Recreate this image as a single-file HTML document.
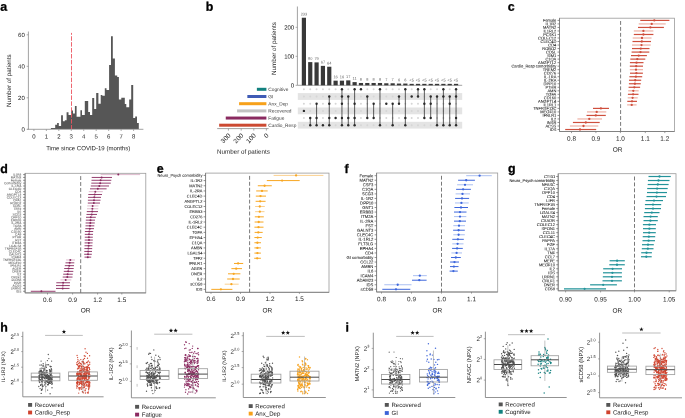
<!DOCTYPE html>
<html><head><meta charset="utf-8"><style>
html,body{margin:0;padding:0;background:#fff;width:685px;height:418px;overflow:hidden}
svg{display:block;will-change:transform}
text{font-family:"Liberation Sans", sans-serif;text-rendering:geometricPrecision}
</style></head><body>
<svg width="685" height="418" viewBox="0 0 685 418">
<text x="0.30" y="10.80" font-size="12.4" text-anchor="start" fill="#000" font-weight="bold" stroke="#000" stroke-width="0.3" stroke-linejoin="round" transform="rotate(0.05 0.30 10.80)">a</text>
<text x="205.80" y="10.80" font-size="12.4" text-anchor="start" fill="#000" font-weight="bold" stroke="#000" stroke-width="0.3" stroke-linejoin="round" transform="rotate(0.05 205.80 10.80)">b</text>
<text x="507.80" y="10.80" font-size="12.4" text-anchor="start" fill="#000" font-weight="bold" stroke="#000" stroke-width="0.3" stroke-linejoin="round" transform="rotate(0.05 507.80 10.80)">c</text>
<text x="0.30" y="173.00" font-size="12.4" text-anchor="start" fill="#000" font-weight="bold" stroke="#000" stroke-width="0.3" stroke-linejoin="round" transform="rotate(0.05 0.30 173.00)">d</text>
<text x="156.80" y="172.80" font-size="12.4" text-anchor="start" fill="#000" font-weight="bold" stroke="#000" stroke-width="0.3" stroke-linejoin="round" transform="rotate(0.05 156.80 172.80)">e</text>
<text x="344.60" y="173.00" font-size="12.4" text-anchor="start" fill="#000" font-weight="bold" stroke="#000" stroke-width="0.3" stroke-linejoin="round" transform="rotate(0.05 344.60 173.00)">f</text>
<text x="508.00" y="172.60" font-size="12.4" text-anchor="start" fill="#000" font-weight="bold" stroke="#000" stroke-width="0.3" stroke-linejoin="round" transform="rotate(0.05 508.00 172.60)">g</text>
<text x="0.30" y="331.40" font-size="12.4" text-anchor="start" fill="#000" font-weight="bold" stroke="#000" stroke-width="0.3" stroke-linejoin="round" transform="rotate(0.05 0.30 331.40)">h</text>
<text x="345.60" y="331.40" font-size="12.4" text-anchor="start" fill="#000" font-weight="bold" stroke="#000" stroke-width="0.3" stroke-linejoin="round" transform="rotate(0.05 345.60 331.40)">i</text>
<path d="M50.9,128.90 L50.90,127.90 L55.20,127.90 L55.20,124.80 L57.10,124.80 L57.10,123.10 L58.80,123.10 L58.80,126.00 L61.10,126.00 L61.10,115.20 L62.90,115.20 L62.90,121.20 L64.80,121.20 L64.80,120.30 L66.60,120.30 L66.60,112.30 L68.50,112.30 L68.50,114.90 L71.20,114.90 L71.20,110.60 L73.00,110.60 L73.00,113.60 L74.90,113.60 L74.90,106.00 L76.60,106.00 L76.60,116.80 L80.40,116.80 L80.40,110.30 L82.00,110.30 L82.00,114.90 L84.80,114.90 L84.80,101.10 L88.20,101.10 L88.20,111.90 L90.00,111.90 L90.00,114.90 L92.20,114.90 L92.20,97.90 L94.20,97.90 L94.20,108.90 L96.20,108.90 L96.20,93.10 L98.40,93.10 L98.40,103.80 L100.70,103.80 L100.70,94.90 L102.30,94.90 L102.30,95.80 L104.80,95.80 L104.80,88.30 L106.50,88.30 L106.50,90.00 L109.10,90.00 L109.10,64.90 L111.00,64.90 L111.00,36.30 L112.80,36.30 L112.80,58.60 L114.90,58.60 L114.90,75.50 L117.20,75.50 L117.20,76.90 L118.90,76.90 L118.90,99.40 L121.30,99.40 L121.30,97.70 L124.80,97.70 L124.80,104.10 L126.30,104.10 L126.30,107.30 L129.20,107.30 L129.20,99.40 L131.20,99.40 L131.20,85.10 L133.20,85.10 L133.20,118.10 L135.20,118.10 L135.20,116.60 L137.00,116.60 L137.00,123.10 L138.80,123.10 L138.8,128.90 Z" fill="#565656"/>
<line x1="28.40" y1="31.50" x2="28.40" y2="129.30" stroke="#8a8a8a" stroke-width="0.8"/>
<line x1="27.40" y1="129.30" x2="143.40" y2="129.30" stroke="#8a8a8a" stroke-width="0.8"/>
<line x1="26.60" y1="129.30" x2="28.40" y2="129.30" stroke="#8a8a8a" stroke-width="0.7"/>
<text x="24.80" y="131.40" font-size="6" text-anchor="end" fill="#1c1c1c" transform="rotate(0.05 24.80 131.40)">0</text>
<line x1="26.60" y1="97.80" x2="28.40" y2="97.80" stroke="#8a8a8a" stroke-width="0.7"/>
<text x="24.80" y="99.90" font-size="6" text-anchor="end" fill="#1c1c1c" transform="rotate(0.05 24.80 99.90)">20</text>
<line x1="26.60" y1="66.30" x2="28.40" y2="66.30" stroke="#8a8a8a" stroke-width="0.7"/>
<text x="24.80" y="68.40" font-size="6" text-anchor="end" fill="#1c1c1c" transform="rotate(0.05 24.80 68.40)">40</text>
<line x1="26.60" y1="34.80" x2="28.40" y2="34.80" stroke="#8a8a8a" stroke-width="0.7"/>
<text x="24.80" y="36.90" font-size="6" text-anchor="end" fill="#1c1c1c" transform="rotate(0.05 24.80 36.90)">60</text>
<line x1="33.90" y1="129.30" x2="33.90" y2="131.00" stroke="#8a8a8a" stroke-width="0.7"/>
<text x="33.90" y="138.60" font-size="6" text-anchor="middle" fill="#1c1c1c" transform="rotate(0.05 33.90 138.60)">0</text>
<line x1="46.36" y1="129.30" x2="46.36" y2="131.00" stroke="#8a8a8a" stroke-width="0.7"/>
<text x="46.36" y="138.60" font-size="6" text-anchor="middle" fill="#1c1c1c" transform="rotate(0.05 46.36 138.60)">1</text>
<line x1="58.82" y1="129.30" x2="58.82" y2="131.00" stroke="#8a8a8a" stroke-width="0.7"/>
<text x="58.82" y="138.60" font-size="6" text-anchor="middle" fill="#1c1c1c" transform="rotate(0.05 58.82 138.60)">2</text>
<line x1="71.28" y1="129.30" x2="71.28" y2="131.00" stroke="#8a8a8a" stroke-width="0.7"/>
<text x="71.28" y="138.60" font-size="6" text-anchor="middle" fill="#1c1c1c" transform="rotate(0.05 71.28 138.60)">3</text>
<line x1="83.74" y1="129.30" x2="83.74" y2="131.00" stroke="#8a8a8a" stroke-width="0.7"/>
<text x="83.74" y="138.60" font-size="6" text-anchor="middle" fill="#1c1c1c" transform="rotate(0.05 83.74 138.60)">4</text>
<line x1="96.20" y1="129.30" x2="96.20" y2="131.00" stroke="#8a8a8a" stroke-width="0.7"/>
<text x="96.20" y="138.60" font-size="6" text-anchor="middle" fill="#1c1c1c" transform="rotate(0.05 96.20 138.60)">5</text>
<line x1="108.66" y1="129.30" x2="108.66" y2="131.00" stroke="#8a8a8a" stroke-width="0.7"/>
<text x="108.66" y="138.60" font-size="6" text-anchor="middle" fill="#1c1c1c" transform="rotate(0.05 108.66 138.60)">6</text>
<line x1="121.12" y1="129.30" x2="121.12" y2="131.00" stroke="#8a8a8a" stroke-width="0.7"/>
<text x="121.12" y="138.60" font-size="6" text-anchor="middle" fill="#1c1c1c" transform="rotate(0.05 121.12 138.60)">7</text>
<line x1="133.58" y1="129.30" x2="133.58" y2="131.00" stroke="#8a8a8a" stroke-width="0.7"/>
<text x="133.58" y="138.60" font-size="6" text-anchor="middle" fill="#1c1c1c" transform="rotate(0.05 133.58 138.60)">8</text>
<text x="88.20" y="150.20" font-size="6.05" text-anchor="middle" fill="#1c1c1c" transform="rotate(0.05 88.20 150.20)">Time since COVID-19 (months)</text>
<text x="0" y="0" font-size="6.25" text-anchor="middle" fill="#1c1c1c" transform="translate(11.3,80.7) rotate(-90)">Number of patients</text>
<line x1="71.50" y1="32.90" x2="71.50" y2="129.00" stroke="#ec5560" stroke-width="0.9" stroke-dasharray="4.5 1.42" stroke-dashoffset="2.6"/>
<line x1="297.40" y1="6.50" x2="297.40" y2="85.30" stroke="#8a8a8a" stroke-width="0.8"/>
<line x1="297.40" y1="85.30" x2="462.20" y2="85.30" stroke="#8a8a8a" stroke-width="0.8"/>
<line x1="295.60" y1="85.30" x2="297.40" y2="85.30" stroke="#8a8a8a" stroke-width="0.7"/>
<text x="294.20" y="87.40" font-size="6" text-anchor="end" fill="#1c1c1c" transform="rotate(0.05 294.20 87.40)">0</text>
<line x1="295.60" y1="56.30" x2="297.40" y2="56.30" stroke="#8a8a8a" stroke-width="0.7"/>
<text x="294.20" y="58.40" font-size="6" text-anchor="end" fill="#1c1c1c" transform="rotate(0.05 294.20 58.40)">100</text>
<line x1="295.60" y1="27.30" x2="297.40" y2="27.30" stroke="#8a8a8a" stroke-width="0.7"/>
<text x="294.20" y="29.40" font-size="6" text-anchor="end" fill="#1c1c1c" transform="rotate(0.05 294.20 29.40)">200</text>
<text x="0" y="0" font-size="6.25" text-anchor="middle" fill="#1c1c1c" transform="translate(276.3,48.5) rotate(-90)">Number of patients</text>
<rect x="301.80" y="17.73" width="4.20" height="67.57" fill="#383838"/>
<text x="303.90" y="15.43" font-size="3.9" text-anchor="middle" fill="#666" transform="rotate(0.05 303.90 15.43)">233</text>
<rect x="308.14" y="62.10" width="4.20" height="23.20" fill="#383838"/>
<text x="310.24" y="59.80" font-size="3.9" text-anchor="middle" fill="#666" transform="rotate(0.05 310.24 59.80)">80</text>
<rect x="314.48" y="62.39" width="4.20" height="22.91" fill="#383838"/>
<text x="316.58" y="60.09" font-size="3.9" text-anchor="middle" fill="#666" transform="rotate(0.05 316.58 60.09)">79</text>
<rect x="320.82" y="65.87" width="4.20" height="19.43" fill="#383838"/>
<text x="322.92" y="63.57" font-size="3.9" text-anchor="middle" fill="#666" transform="rotate(0.05 322.92 63.57)">67</text>
<rect x="327.16" y="66.74" width="4.20" height="18.56" fill="#383838"/>
<text x="329.26" y="64.44" font-size="3.9" text-anchor="middle" fill="#666" transform="rotate(0.05 329.26 64.44)">64</text>
<rect x="333.50" y="80.66" width="4.20" height="4.64" fill="#383838"/>
<text x="335.60" y="78.36" font-size="3.9" text-anchor="middle" fill="#666" transform="rotate(0.05 335.60 78.36)">16</text>
<rect x="339.84" y="80.66" width="4.20" height="4.64" fill="#383838"/>
<text x="341.94" y="78.36" font-size="3.9" text-anchor="middle" fill="#666" transform="rotate(0.05 341.94 78.36)">16</text>
<rect x="346.18" y="80.37" width="4.20" height="4.93" fill="#383838"/>
<text x="348.28" y="78.07" font-size="3.9" text-anchor="middle" fill="#666" transform="rotate(0.05 348.28 78.07)">17</text>
<rect x="352.52" y="82.11" width="4.20" height="3.19" fill="#383838"/>
<text x="354.62" y="79.81" font-size="3.9" text-anchor="middle" fill="#666" transform="rotate(0.05 354.62 79.81)">11</text>
<rect x="358.86" y="82.98" width="4.20" height="2.32" fill="#383838"/>
<text x="360.96" y="80.68" font-size="3.9" text-anchor="middle" fill="#666" transform="rotate(0.05 360.96 80.68)">8</text>
<rect x="365.20" y="82.98" width="4.20" height="2.32" fill="#383838"/>
<text x="367.30" y="80.68" font-size="3.9" text-anchor="middle" fill="#666" transform="rotate(0.05 367.30 80.68)">8</text>
<rect x="371.54" y="82.98" width="4.20" height="2.32" fill="#383838"/>
<text x="373.64" y="80.68" font-size="3.9" text-anchor="middle" fill="#666" transform="rotate(0.05 373.64 80.68)">8</text>
<rect x="377.88" y="82.98" width="4.20" height="2.32" fill="#383838"/>
<text x="379.98" y="80.68" font-size="3.9" text-anchor="middle" fill="#666" transform="rotate(0.05 379.98 80.68)">8</text>
<rect x="384.22" y="83.27" width="4.20" height="2.03" fill="#383838"/>
<text x="386.32" y="80.97" font-size="3.9" text-anchor="middle" fill="#666" transform="rotate(0.05 386.32 80.97)">7</text>
<rect x="390.56" y="83.27" width="4.20" height="2.03" fill="#383838"/>
<text x="392.66" y="80.97" font-size="3.9" text-anchor="middle" fill="#666" transform="rotate(0.05 392.66 80.97)">7</text>
<rect x="396.90" y="83.56" width="4.20" height="1.74" fill="#383838"/>
<text x="399.00" y="81.26" font-size="3.9" text-anchor="middle" fill="#666" transform="rotate(0.05 399.00 81.26)">6</text>
<rect x="403.24" y="83.56" width="4.20" height="1.74" fill="#383838"/>
<text x="405.34" y="81.26" font-size="3.9" text-anchor="middle" fill="#666" transform="rotate(0.05 405.34 81.26)">6</text>
<rect x="409.58" y="83.85" width="4.20" height="1.45" fill="#383838"/>
<text x="411.68" y="81.55" font-size="3.9" text-anchor="middle" fill="#666" transform="rotate(0.05 411.68 81.55)">&lt;5</text>
<rect x="415.92" y="83.85" width="4.20" height="1.45" fill="#383838"/>
<text x="418.02" y="81.55" font-size="3.9" text-anchor="middle" fill="#666" transform="rotate(0.05 418.02 81.55)">&lt;5</text>
<rect x="422.26" y="83.85" width="4.20" height="1.45" fill="#383838"/>
<text x="424.36" y="81.55" font-size="3.9" text-anchor="middle" fill="#666" transform="rotate(0.05 424.36 81.55)">&lt;5</text>
<rect x="428.60" y="83.85" width="4.20" height="1.45" fill="#383838"/>
<text x="430.70" y="81.55" font-size="3.9" text-anchor="middle" fill="#666" transform="rotate(0.05 430.70 81.55)">&lt;5</text>
<rect x="434.94" y="83.85" width="4.20" height="1.45" fill="#383838"/>
<text x="437.04" y="81.55" font-size="3.9" text-anchor="middle" fill="#666" transform="rotate(0.05 437.04 81.55)">&lt;5</text>
<rect x="441.28" y="83.85" width="4.20" height="1.45" fill="#383838"/>
<text x="443.38" y="81.55" font-size="3.9" text-anchor="middle" fill="#666" transform="rotate(0.05 443.38 81.55)">&lt;5</text>
<rect x="447.62" y="83.85" width="4.20" height="1.45" fill="#383838"/>
<text x="449.72" y="81.55" font-size="3.9" text-anchor="middle" fill="#666" transform="rotate(0.05 449.72 81.55)">&lt;5</text>
<rect x="453.96" y="83.85" width="4.20" height="1.45" fill="#383838"/>
<text x="456.06" y="81.55" font-size="3.9" text-anchor="middle" fill="#666" transform="rotate(0.05 456.06 81.55)">&lt;5</text>
<rect x="297.80" y="93.10" width="164.40" height="6.80" fill="#e4e4e4"/>
<rect x="297.80" y="107.50" width="164.40" height="6.80" fill="#e4e4e4"/>
<rect x="297.80" y="121.80" width="164.40" height="6.80" fill="#e4e4e4"/>
<circle cx="303.90" cy="89.30" r="1.00" fill="#d6d6d6"/>
<circle cx="303.90" cy="96.50" r="1.00" fill="#d6d6d6"/>
<circle cx="303.90" cy="103.70" r="1.00" fill="#d6d6d6"/>
<circle cx="303.90" cy="118.05" r="1.00" fill="#d6d6d6"/>
<circle cx="303.90" cy="125.20" r="1.00" fill="#d6d6d6"/>
<circle cx="303.90" cy="110.90" r="1.20" fill="#2a2a2a"/>
<circle cx="310.24" cy="89.30" r="1.00" fill="#d6d6d6"/>
<circle cx="310.24" cy="96.50" r="1.00" fill="#d6d6d6"/>
<circle cx="310.24" cy="103.70" r="1.00" fill="#d6d6d6"/>
<circle cx="310.24" cy="110.90" r="1.00" fill="#d6d6d6"/>
<line x1="310.24" y1="118.05" x2="310.24" y2="125.20" stroke="#333" stroke-width="0.8"/>
<circle cx="310.24" cy="118.05" r="1.20" fill="#2a2a2a"/>
<circle cx="310.24" cy="125.20" r="1.20" fill="#2a2a2a"/>
<circle cx="316.58" cy="89.30" r="1.00" fill="#d6d6d6"/>
<circle cx="316.58" cy="96.50" r="1.00" fill="#d6d6d6"/>
<circle cx="316.58" cy="110.90" r="1.00" fill="#d6d6d6"/>
<line x1="316.58" y1="103.70" x2="316.58" y2="125.20" stroke="#333" stroke-width="0.8"/>
<circle cx="316.58" cy="103.70" r="1.20" fill="#2a2a2a"/>
<circle cx="316.58" cy="118.05" r="1.20" fill="#2a2a2a"/>
<circle cx="316.58" cy="125.20" r="1.20" fill="#2a2a2a"/>
<circle cx="322.92" cy="89.30" r="1.00" fill="#d6d6d6"/>
<circle cx="322.92" cy="96.50" r="1.00" fill="#d6d6d6"/>
<circle cx="322.92" cy="103.70" r="1.00" fill="#d6d6d6"/>
<circle cx="322.92" cy="110.90" r="1.00" fill="#d6d6d6"/>
<circle cx="322.92" cy="118.05" r="1.00" fill="#d6d6d6"/>
<circle cx="322.92" cy="125.20" r="1.20" fill="#2a2a2a"/>
<circle cx="329.26" cy="89.30" r="1.00" fill="#d6d6d6"/>
<circle cx="329.26" cy="110.90" r="1.00" fill="#d6d6d6"/>
<line x1="329.26" y1="96.50" x2="329.26" y2="125.20" stroke="#333" stroke-width="0.8"/>
<circle cx="329.26" cy="96.50" r="1.20" fill="#2a2a2a"/>
<circle cx="329.26" cy="103.70" r="1.20" fill="#2a2a2a"/>
<circle cx="329.26" cy="118.05" r="1.20" fill="#2a2a2a"/>
<circle cx="329.26" cy="125.20" r="1.20" fill="#2a2a2a"/>
<circle cx="335.60" cy="89.30" r="1.00" fill="#d6d6d6"/>
<circle cx="335.60" cy="96.50" r="1.00" fill="#d6d6d6"/>
<circle cx="335.60" cy="103.70" r="1.00" fill="#d6d6d6"/>
<circle cx="335.60" cy="110.90" r="1.00" fill="#d6d6d6"/>
<circle cx="335.60" cy="125.20" r="1.00" fill="#d6d6d6"/>
<circle cx="335.60" cy="118.05" r="1.20" fill="#2a2a2a"/>
<circle cx="341.94" cy="110.90" r="1.00" fill="#d6d6d6"/>
<line x1="341.94" y1="89.30" x2="341.94" y2="125.20" stroke="#333" stroke-width="0.8"/>
<circle cx="341.94" cy="89.30" r="1.20" fill="#2a2a2a"/>
<circle cx="341.94" cy="96.50" r="1.20" fill="#2a2a2a"/>
<circle cx="341.94" cy="103.70" r="1.20" fill="#2a2a2a"/>
<circle cx="341.94" cy="118.05" r="1.20" fill="#2a2a2a"/>
<circle cx="341.94" cy="125.20" r="1.20" fill="#2a2a2a"/>
<circle cx="348.28" cy="89.30" r="1.00" fill="#d6d6d6"/>
<circle cx="348.28" cy="103.70" r="1.00" fill="#d6d6d6"/>
<circle cx="348.28" cy="110.90" r="1.00" fill="#d6d6d6"/>
<line x1="348.28" y1="96.50" x2="348.28" y2="125.20" stroke="#333" stroke-width="0.8"/>
<circle cx="348.28" cy="96.50" r="1.20" fill="#2a2a2a"/>
<circle cx="348.28" cy="118.05" r="1.20" fill="#2a2a2a"/>
<circle cx="348.28" cy="125.20" r="1.20" fill="#2a2a2a"/>
<circle cx="354.62" cy="96.50" r="1.00" fill="#d6d6d6"/>
<circle cx="354.62" cy="110.90" r="1.00" fill="#d6d6d6"/>
<line x1="354.62" y1="89.30" x2="354.62" y2="125.20" stroke="#333" stroke-width="0.8"/>
<circle cx="354.62" cy="89.30" r="1.20" fill="#2a2a2a"/>
<circle cx="354.62" cy="103.70" r="1.20" fill="#2a2a2a"/>
<circle cx="354.62" cy="118.05" r="1.20" fill="#2a2a2a"/>
<circle cx="354.62" cy="125.20" r="1.20" fill="#2a2a2a"/>
<circle cx="360.96" cy="96.50" r="1.00" fill="#d6d6d6"/>
<circle cx="360.96" cy="103.70" r="1.00" fill="#d6d6d6"/>
<circle cx="360.96" cy="110.90" r="1.00" fill="#d6d6d6"/>
<circle cx="360.96" cy="118.05" r="1.00" fill="#d6d6d6"/>
<circle cx="360.96" cy="125.20" r="1.00" fill="#d6d6d6"/>
<circle cx="360.96" cy="89.30" r="1.20" fill="#2a2a2a"/>
<circle cx="367.30" cy="89.30" r="1.00" fill="#d6d6d6"/>
<circle cx="367.30" cy="103.70" r="1.00" fill="#d6d6d6"/>
<circle cx="367.30" cy="110.90" r="1.00" fill="#d6d6d6"/>
<circle cx="367.30" cy="125.20" r="1.00" fill="#d6d6d6"/>
<line x1="367.30" y1="96.50" x2="367.30" y2="118.05" stroke="#333" stroke-width="0.8"/>
<circle cx="367.30" cy="96.50" r="1.20" fill="#2a2a2a"/>
<circle cx="367.30" cy="118.05" r="1.20" fill="#2a2a2a"/>
<circle cx="373.64" cy="89.30" r="1.00" fill="#d6d6d6"/>
<circle cx="373.64" cy="96.50" r="1.00" fill="#d6d6d6"/>
<circle cx="373.64" cy="110.90" r="1.00" fill="#d6d6d6"/>
<circle cx="373.64" cy="125.20" r="1.00" fill="#d6d6d6"/>
<line x1="373.64" y1="103.70" x2="373.64" y2="118.05" stroke="#333" stroke-width="0.8"/>
<circle cx="373.64" cy="103.70" r="1.20" fill="#2a2a2a"/>
<circle cx="373.64" cy="118.05" r="1.20" fill="#2a2a2a"/>
<circle cx="379.98" cy="96.50" r="1.00" fill="#d6d6d6"/>
<circle cx="379.98" cy="103.70" r="1.00" fill="#d6d6d6"/>
<circle cx="379.98" cy="110.90" r="1.00" fill="#d6d6d6"/>
<circle cx="379.98" cy="118.05" r="1.00" fill="#d6d6d6"/>
<line x1="379.98" y1="89.30" x2="379.98" y2="125.20" stroke="#333" stroke-width="0.8"/>
<circle cx="379.98" cy="89.30" r="1.20" fill="#2a2a2a"/>
<circle cx="379.98" cy="125.20" r="1.20" fill="#2a2a2a"/>
<circle cx="386.32" cy="89.30" r="1.00" fill="#d6d6d6"/>
<circle cx="386.32" cy="96.50" r="1.00" fill="#d6d6d6"/>
<circle cx="386.32" cy="110.90" r="1.00" fill="#d6d6d6"/>
<circle cx="386.32" cy="118.05" r="1.00" fill="#d6d6d6"/>
<circle cx="386.32" cy="125.20" r="1.00" fill="#d6d6d6"/>
<circle cx="386.32" cy="103.70" r="1.20" fill="#2a2a2a"/>
<circle cx="392.66" cy="89.30" r="1.00" fill="#d6d6d6"/>
<circle cx="392.66" cy="96.50" r="1.00" fill="#d6d6d6"/>
<circle cx="392.66" cy="110.90" r="1.00" fill="#d6d6d6"/>
<circle cx="392.66" cy="118.05" r="1.00" fill="#d6d6d6"/>
<line x1="392.66" y1="103.70" x2="392.66" y2="125.20" stroke="#333" stroke-width="0.8"/>
<circle cx="392.66" cy="103.70" r="1.20" fill="#2a2a2a"/>
<circle cx="392.66" cy="125.20" r="1.20" fill="#2a2a2a"/>
<circle cx="399.00" cy="89.30" r="1.00" fill="#d6d6d6"/>
<circle cx="399.00" cy="110.90" r="1.00" fill="#d6d6d6"/>
<circle cx="399.00" cy="118.05" r="1.00" fill="#d6d6d6"/>
<circle cx="399.00" cy="125.20" r="1.00" fill="#d6d6d6"/>
<line x1="399.00" y1="96.50" x2="399.00" y2="103.70" stroke="#333" stroke-width="0.8"/>
<circle cx="399.00" cy="96.50" r="1.20" fill="#2a2a2a"/>
<circle cx="399.00" cy="103.70" r="1.20" fill="#2a2a2a"/>
<circle cx="405.34" cy="96.50" r="1.00" fill="#d6d6d6"/>
<circle cx="405.34" cy="103.70" r="1.00" fill="#d6d6d6"/>
<circle cx="405.34" cy="110.90" r="1.00" fill="#d6d6d6"/>
<line x1="405.34" y1="89.30" x2="405.34" y2="125.20" stroke="#333" stroke-width="0.8"/>
<circle cx="405.34" cy="89.30" r="1.20" fill="#2a2a2a"/>
<circle cx="405.34" cy="118.05" r="1.20" fill="#2a2a2a"/>
<circle cx="405.34" cy="125.20" r="1.20" fill="#2a2a2a"/>
<circle cx="411.68" cy="89.30" r="1.00" fill="#d6d6d6"/>
<circle cx="411.68" cy="103.70" r="1.00" fill="#d6d6d6"/>
<circle cx="411.68" cy="110.90" r="1.00" fill="#d6d6d6"/>
<circle cx="411.68" cy="118.05" r="1.00" fill="#d6d6d6"/>
<circle cx="411.68" cy="125.20" r="1.00" fill="#d6d6d6"/>
<circle cx="411.68" cy="96.50" r="1.20" fill="#2a2a2a"/>
<circle cx="418.02" cy="103.70" r="1.00" fill="#d6d6d6"/>
<circle cx="418.02" cy="110.90" r="1.00" fill="#d6d6d6"/>
<circle cx="418.02" cy="118.05" r="1.00" fill="#d6d6d6"/>
<circle cx="418.02" cy="125.20" r="1.00" fill="#d6d6d6"/>
<line x1="418.02" y1="89.30" x2="418.02" y2="96.50" stroke="#333" stroke-width="0.8"/>
<circle cx="418.02" cy="89.30" r="1.20" fill="#2a2a2a"/>
<circle cx="418.02" cy="96.50" r="1.20" fill="#2a2a2a"/>
<circle cx="424.36" cy="96.50" r="1.00" fill="#d6d6d6"/>
<circle cx="424.36" cy="110.90" r="1.00" fill="#d6d6d6"/>
<circle cx="424.36" cy="125.20" r="1.00" fill="#d6d6d6"/>
<line x1="424.36" y1="89.30" x2="424.36" y2="118.05" stroke="#333" stroke-width="0.8"/>
<circle cx="424.36" cy="89.30" r="1.20" fill="#2a2a2a"/>
<circle cx="424.36" cy="103.70" r="1.20" fill="#2a2a2a"/>
<circle cx="424.36" cy="118.05" r="1.20" fill="#2a2a2a"/>
<circle cx="430.70" cy="89.30" r="1.00" fill="#d6d6d6"/>
<circle cx="430.70" cy="110.90" r="1.00" fill="#d6d6d6"/>
<circle cx="430.70" cy="125.20" r="1.00" fill="#d6d6d6"/>
<line x1="430.70" y1="96.50" x2="430.70" y2="118.05" stroke="#333" stroke-width="0.8"/>
<circle cx="430.70" cy="96.50" r="1.20" fill="#2a2a2a"/>
<circle cx="430.70" cy="103.70" r="1.20" fill="#2a2a2a"/>
<circle cx="430.70" cy="118.05" r="1.20" fill="#2a2a2a"/>
<circle cx="437.04" cy="89.30" r="1.00" fill="#d6d6d6"/>
<circle cx="437.04" cy="103.70" r="1.00" fill="#d6d6d6"/>
<circle cx="437.04" cy="110.90" r="1.00" fill="#d6d6d6"/>
<circle cx="437.04" cy="118.05" r="1.00" fill="#d6d6d6"/>
<line x1="437.04" y1="96.50" x2="437.04" y2="125.20" stroke="#333" stroke-width="0.8"/>
<circle cx="437.04" cy="96.50" r="1.20" fill="#2a2a2a"/>
<circle cx="437.04" cy="125.20" r="1.20" fill="#2a2a2a"/>
<circle cx="443.38" cy="103.70" r="1.00" fill="#d6d6d6"/>
<circle cx="443.38" cy="110.90" r="1.00" fill="#d6d6d6"/>
<circle cx="443.38" cy="118.05" r="1.00" fill="#d6d6d6"/>
<line x1="443.38" y1="89.30" x2="443.38" y2="125.20" stroke="#333" stroke-width="0.8"/>
<circle cx="443.38" cy="89.30" r="1.20" fill="#2a2a2a"/>
<circle cx="443.38" cy="96.50" r="1.20" fill="#2a2a2a"/>
<circle cx="443.38" cy="125.20" r="1.20" fill="#2a2a2a"/>
<circle cx="449.72" cy="89.30" r="1.00" fill="#d6d6d6"/>
<circle cx="449.72" cy="110.90" r="1.00" fill="#d6d6d6"/>
<circle cx="449.72" cy="118.05" r="1.00" fill="#d6d6d6"/>
<line x1="449.72" y1="96.50" x2="449.72" y2="125.20" stroke="#333" stroke-width="0.8"/>
<circle cx="449.72" cy="96.50" r="1.20" fill="#2a2a2a"/>
<circle cx="449.72" cy="103.70" r="1.20" fill="#2a2a2a"/>
<circle cx="449.72" cy="125.20" r="1.20" fill="#2a2a2a"/>
<circle cx="456.06" cy="103.70" r="1.00" fill="#d6d6d6"/>
<circle cx="456.06" cy="110.90" r="1.00" fill="#d6d6d6"/>
<line x1="456.06" y1="89.30" x2="456.06" y2="125.20" stroke="#333" stroke-width="0.8"/>
<circle cx="456.06" cy="89.30" r="1.20" fill="#2a2a2a"/>
<circle cx="456.06" cy="96.50" r="1.20" fill="#2a2a2a"/>
<circle cx="456.06" cy="118.05" r="1.20" fill="#2a2a2a"/>
<circle cx="456.06" cy="125.20" r="1.20" fill="#2a2a2a"/>
<rect x="256.88" y="87.80" width="9.53" height="3.00" fill="#12817f"/>
<text x="268.30" y="91.00" font-size="4.8" text-anchor="start" fill="#3a3a3a" transform="rotate(0.05 268.30 91.00)">Cognitive</text>
<rect x="247.35" y="95.00" width="19.05" height="3.00" fill="#3f5bb5"/>
<text x="268.30" y="98.20" font-size="4.8" text-anchor="start" fill="#3a3a3a" transform="rotate(0.05 268.30 98.20)">GI</text>
<rect x="239.09" y="102.20" width="27.30" height="3.00" fill="#f7a11a"/>
<text x="268.30" y="105.40" font-size="4.8" text-anchor="start" fill="#3a3a3a" transform="rotate(0.05 268.30 105.40)">Anx_Dep</text>
<rect x="237.06" y="109.40" width="29.34" height="3.00" fill="#c2c2c2"/>
<text x="268.30" y="112.60" font-size="4.8" text-anchor="start" fill="#3a3a3a" transform="rotate(0.05 268.30 112.60)">Recovered</text>
<rect x="225.76" y="116.55" width="40.64" height="3.00" fill="#8a2a60"/>
<text x="268.30" y="119.75" font-size="4.8" text-anchor="start" fill="#3a3a3a" transform="rotate(0.05 268.30 119.75)">Fatigue</text>
<rect x="219.16" y="123.70" width="47.24" height="3.00" fill="#cc4a32"/>
<text x="268.30" y="126.90" font-size="4.8" text-anchor="start" fill="#3a3a3a" transform="rotate(0.05 268.30 126.90)">Cardio_Resp</text>
<line x1="217.20" y1="128.60" x2="268.60" y2="128.60" stroke="#8a8a8a" stroke-width="0.8"/>
<line x1="228.40" y1="128.60" x2="228.40" y2="130.60" stroke="#8a8a8a" stroke-width="0.7"/>
<text x="0" y="0" font-size="6.5" text-anchor="end" fill="#1c1c1c" transform="translate(231.00,136.00) rotate(-45)">300</text>
<line x1="241.20" y1="128.60" x2="241.20" y2="130.60" stroke="#8a8a8a" stroke-width="0.7"/>
<text x="0" y="0" font-size="6.5" text-anchor="end" fill="#1c1c1c" transform="translate(243.80,136.00) rotate(-45)">200</text>
<line x1="253.80" y1="128.60" x2="253.80" y2="130.60" stroke="#8a8a8a" stroke-width="0.7"/>
<text x="0" y="0" font-size="6.5" text-anchor="end" fill="#1c1c1c" transform="translate(256.40,136.00) rotate(-45)">100</text>
<line x1="266.40" y1="128.60" x2="266.40" y2="130.60" stroke="#8a8a8a" stroke-width="0.7"/>
<text x="0" y="0" font-size="6.5" text-anchor="end" fill="#1c1c1c" transform="translate(269.00,136.00) rotate(-45)">0</text>
<text x="243.40" y="153.80" font-size="6.25" text-anchor="middle" fill="#1c1c1c" transform="rotate(0.05 243.40 153.80)">Number of patients</text>
<rect x="559.50" y="18.20" width="115.10" height="113.30" fill="none" stroke="#9a9a9a" stroke-width="0.8"/>
<line x1="559.50" y1="18.20" x2="559.50" y2="131.50" stroke="#777" stroke-width="0.8"/>
<line x1="559.50" y1="131.50" x2="674.60" y2="131.50" stroke="#777" stroke-width="0.8"/>
<line x1="620.60" y1="21.00" x2="620.60" y2="131.50" stroke="#6a6a6a" stroke-width="0.9" stroke-dasharray="3.9 2.04"/>
<line x1="557.50" y1="20.40" x2="559.50" y2="20.40" stroke="#666" stroke-width="0.7"/>
<text x="556.30" y="21.84" font-size="4.0" text-anchor="end" fill="#1a1a1a" stroke="#1a1a1a" stroke-width="0.06" transform="rotate(0.05 556.30 21.84)">Female</text>
<line x1="557.50" y1="23.92" x2="559.50" y2="23.92" stroke="#666" stroke-width="0.7"/>
<text x="556.30" y="25.36" font-size="4.0" text-anchor="end" fill="#1a1a1a" stroke="#1a1a1a" stroke-width="0.06" transform="rotate(0.05 556.30 25.36)">IL1R2</text>
<line x1="557.50" y1="27.44" x2="559.50" y2="27.44" stroke="#666" stroke-width="0.7"/>
<text x="556.30" y="28.88" font-size="4.0" text-anchor="end" fill="#1a1a1a" stroke="#1a1a1a" stroke-width="0.06" transform="rotate(0.05 556.30 28.88)">MATN2</text>
<line x1="557.50" y1="30.96" x2="559.50" y2="30.96" stroke="#666" stroke-width="0.7"/>
<text x="556.30" y="32.40" font-size="4.0" text-anchor="end" fill="#1a1a1a" stroke="#1a1a1a" stroke-width="0.06" transform="rotate(0.05 556.30 32.40)">IL1RL2</text>
<line x1="557.50" y1="34.48" x2="559.50" y2="34.48" stroke="#666" stroke-width="0.7"/>
<text x="556.30" y="35.92" font-size="4.0" text-anchor="end" fill="#1a1a1a" stroke="#1a1a1a" stroke-width="0.06" transform="rotate(0.05 556.30 35.92)">PCSK1</text>
<line x1="557.50" y1="38.00" x2="559.50" y2="38.00" stroke="#666" stroke-width="0.7"/>
<text x="556.30" y="39.44" font-size="4.0" text-anchor="end" fill="#1a1a1a" stroke="#1a1a1a" stroke-width="0.06" transform="rotate(0.05 556.30 39.44)">COLEC12</text>
<line x1="557.50" y1="41.52" x2="559.50" y2="41.52" stroke="#666" stroke-width="0.7"/>
<text x="556.30" y="42.96" font-size="4.0" text-anchor="end" fill="#1a1a1a" stroke="#1a1a1a" stroke-width="0.06" transform="rotate(0.05 556.30 42.96)">CLEC4D</text>
<line x1="557.50" y1="45.04" x2="559.50" y2="45.04" stroke="#666" stroke-width="0.7"/>
<text x="556.30" y="46.48" font-size="4.0" text-anchor="end" fill="#1a1a1a" stroke="#1a1a1a" stroke-width="0.06" transform="rotate(0.05 556.30 46.48)">CD4</text>
<line x1="557.50" y1="48.56" x2="559.50" y2="48.56" stroke="#666" stroke-width="0.7"/>
<text x="556.30" y="50.00" font-size="4.0" text-anchor="end" fill="#1a1a1a" stroke="#1a1a1a" stroke-width="0.06" transform="rotate(0.05 556.30 50.00)">ROBO2</text>
<line x1="557.50" y1="52.08" x2="559.50" y2="52.08" stroke="#666" stroke-width="0.7"/>
<text x="556.30" y="53.52" font-size="4.0" text-anchor="end" fill="#1a1a1a" stroke="#1a1a1a" stroke-width="0.06" transform="rotate(0.05 556.30 53.52)">CD5L</text>
<line x1="557.50" y1="55.60" x2="559.50" y2="55.60" stroke="#666" stroke-width="0.7"/>
<text x="556.30" y="57.04" font-size="4.0" text-anchor="end" fill="#1a1a1a" stroke="#1a1a1a" stroke-width="0.06" transform="rotate(0.05 556.30 57.04)">SIM1</text>
<line x1="557.50" y1="59.12" x2="559.50" y2="59.12" stroke="#666" stroke-width="0.7"/>
<text x="556.30" y="60.56" font-size="4.0" text-anchor="end" fill="#1a1a1a" stroke="#1a1a1a" stroke-width="0.06" transform="rotate(0.05 556.30 60.56)">C1QA</text>
<line x1="557.50" y1="62.64" x2="559.50" y2="62.64" stroke="#666" stroke-width="0.7"/>
<text x="556.30" y="64.08" font-size="4.0" text-anchor="end" fill="#1a1a1a" stroke="#1a1a1a" stroke-width="0.06" transform="rotate(0.05 556.30 64.08)">ANGPTL2</text>
<line x1="557.50" y1="66.16" x2="559.50" y2="66.16" stroke="#666" stroke-width="0.7"/>
<text x="556.30" y="67.60" font-size="4.0" text-anchor="end" fill="#1a1a1a" stroke="#1a1a1a" stroke-width="0.06" transform="rotate(0.05 556.30 67.60)">Cardio_Resp comorbidity</text>
<line x1="557.50" y1="69.68" x2="559.50" y2="69.68" stroke="#666" stroke-width="0.7"/>
<text x="556.30" y="71.12" font-size="4.0" text-anchor="end" fill="#1a1a1a" stroke="#1a1a1a" stroke-width="0.06" transform="rotate(0.05 556.30 71.12)">TREM2</text>
<line x1="557.50" y1="73.20" x2="559.50" y2="73.20" stroke="#666" stroke-width="0.7"/>
<text x="556.30" y="74.64" font-size="4.0" text-anchor="end" fill="#1a1a1a" stroke="#1a1a1a" stroke-width="0.06" transform="rotate(0.05 556.30 74.64)">CD276</text>
<line x1="557.50" y1="76.72" x2="559.50" y2="76.72" stroke="#666" stroke-width="0.7"/>
<text x="556.30" y="78.16" font-size="4.0" text-anchor="end" fill="#1a1a1a" stroke="#1a1a1a" stroke-width="0.06" transform="rotate(0.05 556.30 78.16)">IL-1RA</text>
<line x1="557.50" y1="80.24" x2="559.50" y2="80.24" stroke="#666" stroke-width="0.7"/>
<text x="556.30" y="81.68" font-size="4.0" text-anchor="end" fill="#1a1a1a" stroke="#1a1a1a" stroke-width="0.06" transform="rotate(0.05 556.30 81.68)">IL-2RA</text>
<line x1="557.50" y1="83.76" x2="559.50" y2="83.76" stroke="#666" stroke-width="0.7"/>
<text x="556.30" y="85.20" font-size="4.0" text-anchor="end" fill="#1a1a1a" stroke="#1a1a1a" stroke-width="0.06" transform="rotate(0.05 556.30 85.20)">DPP10</text>
<line x1="557.50" y1="87.28" x2="559.50" y2="87.28" stroke="#666" stroke-width="0.7"/>
<text x="556.30" y="88.72" font-size="4.0" text-anchor="end" fill="#1a1a1a" stroke="#1a1a1a" stroke-width="0.06" transform="rotate(0.05 556.30 88.72)">PTHR</text>
<line x1="557.50" y1="90.80" x2="559.50" y2="90.80" stroke="#666" stroke-width="0.7"/>
<text x="556.30" y="92.24" font-size="4.0" text-anchor="end" fill="#1a1a1a" stroke="#1a1a1a" stroke-width="0.06" transform="rotate(0.05 556.30 92.24)">AMN</text>
<line x1="557.50" y1="94.32" x2="559.50" y2="94.32" stroke="#666" stroke-width="0.7"/>
<text x="556.30" y="95.76" font-size="4.0" text-anchor="end" fill="#1a1a1a" stroke="#1a1a1a" stroke-width="0.06" transform="rotate(0.05 556.30 95.76)">TGFA</text>
<line x1="557.50" y1="97.84" x2="559.50" y2="97.84" stroke="#666" stroke-width="0.7"/>
<text x="556.30" y="99.28" font-size="4.0" text-anchor="end" fill="#1a1a1a" stroke="#1a1a1a" stroke-width="0.06" transform="rotate(0.05 556.30 99.28)">CD160</text>
<line x1="557.50" y1="101.36" x2="559.50" y2="101.36" stroke="#666" stroke-width="0.7"/>
<text x="556.30" y="102.80" font-size="4.0" text-anchor="end" fill="#1a1a1a" stroke="#1a1a1a" stroke-width="0.06" transform="rotate(0.05 556.30 102.80)">ANGPTL4</text>
<line x1="557.50" y1="104.88" x2="559.50" y2="104.88" stroke="#666" stroke-width="0.7"/>
<text x="556.30" y="106.32" font-size="4.0" text-anchor="end" fill="#1a1a1a" stroke="#1a1a1a" stroke-width="0.06" transform="rotate(0.05 556.30 106.32)">IL1RL1</text>
<line x1="557.50" y1="108.40" x2="559.50" y2="108.40" stroke="#666" stroke-width="0.7"/>
<text x="556.30" y="109.84" font-size="4.0" text-anchor="end" fill="#1a1a1a" stroke="#1a1a1a" stroke-width="0.06" transform="rotate(0.05 556.30 109.84)">TNFRSF13C</text>
<line x1="557.50" y1="111.92" x2="559.50" y2="111.92" stroke="#666" stroke-width="0.7"/>
<text x="556.30" y="113.36" font-size="4.0" text-anchor="end" fill="#1a1a1a" stroke="#1a1a1a" stroke-width="0.06" transform="rotate(0.05 556.30 113.36)">MEGF10</text>
<line x1="557.50" y1="115.44" x2="559.50" y2="115.44" stroke="#666" stroke-width="0.7"/>
<text x="556.30" y="116.88" font-size="4.0" text-anchor="end" fill="#1a1a1a" stroke="#1a1a1a" stroke-width="0.06" transform="rotate(0.05 556.30 116.88)">IFNLR1</text>
<line x1="557.50" y1="118.96" x2="559.50" y2="118.96" stroke="#666" stroke-width="0.7"/>
<text x="556.30" y="120.40" font-size="4.0" text-anchor="end" fill="#1a1a1a" stroke="#1a1a1a" stroke-width="0.06" transform="rotate(0.05 556.30 120.40)">IL2</text>
<line x1="557.50" y1="122.48" x2="559.50" y2="122.48" stroke="#666" stroke-width="0.7"/>
<text x="556.30" y="123.92" font-size="4.0" text-anchor="end" fill="#1a1a1a" stroke="#1a1a1a" stroke-width="0.06" transform="rotate(0.05 556.30 123.92)">INSR</text>
<line x1="557.50" y1="126.00" x2="559.50" y2="126.00" stroke="#666" stroke-width="0.7"/>
<text x="556.30" y="127.44" font-size="4.0" text-anchor="end" fill="#1a1a1a" stroke="#1a1a1a" stroke-width="0.06" transform="rotate(0.05 556.30 127.44)">ACSS</text>
<line x1="557.50" y1="129.52" x2="559.50" y2="129.52" stroke="#666" stroke-width="0.7"/>
<text x="556.30" y="130.96" font-size="4.0" text-anchor="end" fill="#1a1a1a" stroke="#1a1a1a" stroke-width="0.06" transform="rotate(0.05 556.30 130.96)">IDS</text>
<line x1="640.30" y1="20.40" x2="669.40" y2="20.40" stroke="#cf4f3d" stroke-width="1.2"/>
<circle cx="654.30" cy="20.40" r="1.15" fill="#cf4f3d"/>
<line x1="638.70" y1="23.92" x2="665.70" y2="23.92" stroke="#eeb0a4" stroke-width="1.2"/>
<circle cx="651.70" cy="23.92" r="1.15" fill="#cf4f3d"/>
<line x1="638.00" y1="27.44" x2="663.90" y2="27.44" stroke="#cf4f3d" stroke-width="1.2"/>
<circle cx="650.40" cy="27.44" r="1.15" fill="#cf4f3d"/>
<line x1="633.80" y1="30.96" x2="653.40" y2="30.96" stroke="#eeb0a4" stroke-width="1.2"/>
<circle cx="643.40" cy="30.96" r="1.15" fill="#cf4f3d"/>
<line x1="633.80" y1="34.48" x2="653.40" y2="34.48" stroke="#cf4f3d" stroke-width="1.2"/>
<circle cx="643.40" cy="34.48" r="1.15" fill="#cf4f3d"/>
<line x1="632.70" y1="38.00" x2="651.50" y2="38.00" stroke="#eeb0a4" stroke-width="1.2"/>
<circle cx="642.00" cy="38.00" r="1.15" fill="#cf4f3d"/>
<line x1="632.50" y1="41.52" x2="651.00" y2="41.52" stroke="#cf4f3d" stroke-width="1.2"/>
<circle cx="641.80" cy="41.52" r="1.15" fill="#cf4f3d"/>
<line x1="632.00" y1="45.04" x2="650.70" y2="45.04" stroke="#eeb0a4" stroke-width="1.2"/>
<circle cx="641.50" cy="45.04" r="1.15" fill="#cf4f3d"/>
<line x1="632.00" y1="48.56" x2="649.50" y2="48.56" stroke="#cf4f3d" stroke-width="1.2"/>
<circle cx="640.80" cy="48.56" r="1.15" fill="#cf4f3d"/>
<line x1="631.60" y1="52.08" x2="649.30" y2="52.08" stroke="#cf4f3d" stroke-width="1.2"/>
<circle cx="640.50" cy="52.08" r="1.15" fill="#cf4f3d"/>
<line x1="631.00" y1="55.60" x2="646.90" y2="55.60" stroke="#cf4f3d" stroke-width="1.2"/>
<circle cx="638.70" cy="55.60" r="1.15" fill="#cf4f3d"/>
<line x1="630.30" y1="59.12" x2="645.30" y2="59.12" stroke="#cf4f3d" stroke-width="1.2"/>
<circle cx="637.30" cy="59.12" r="1.15" fill="#cf4f3d"/>
<line x1="629.90" y1="62.64" x2="643.50" y2="62.64" stroke="#cf4f3d" stroke-width="1.2"/>
<circle cx="636.50" cy="62.64" r="1.15" fill="#cf4f3d"/>
<line x1="629.80" y1="66.16" x2="643.00" y2="66.16" stroke="#cf4f3d" stroke-width="1.2"/>
<circle cx="636.20" cy="66.16" r="1.15" fill="#cf4f3d"/>
<line x1="629.80" y1="69.68" x2="643.00" y2="69.68" stroke="#eeb0a4" stroke-width="1.2"/>
<circle cx="636.00" cy="69.68" r="1.15" fill="#cf4f3d"/>
<line x1="630.00" y1="73.20" x2="642.90" y2="73.20" stroke="#cf4f3d" stroke-width="1.2"/>
<circle cx="636.40" cy="73.20" r="1.15" fill="#cf4f3d"/>
<line x1="629.40" y1="76.72" x2="642.20" y2="76.72" stroke="#cf4f3d" stroke-width="1.2"/>
<circle cx="635.90" cy="76.72" r="1.15" fill="#cf4f3d"/>
<line x1="629.00" y1="80.24" x2="641.20" y2="80.24" stroke="#cf4f3d" stroke-width="1.2"/>
<circle cx="635.20" cy="80.24" r="1.15" fill="#cf4f3d"/>
<line x1="628.90" y1="83.76" x2="640.80" y2="83.76" stroke="#cf4f3d" stroke-width="1.2"/>
<circle cx="634.90" cy="83.76" r="1.15" fill="#cf4f3d"/>
<line x1="628.60" y1="87.28" x2="640.10" y2="87.28" stroke="#cf4f3d" stroke-width="1.2"/>
<circle cx="634.30" cy="87.28" r="1.15" fill="#cf4f3d"/>
<line x1="628.20" y1="90.80" x2="638.70" y2="90.80" stroke="#eeb0a4" stroke-width="1.2"/>
<circle cx="633.30" cy="90.80" r="1.15" fill="#cf4f3d"/>
<line x1="627.90" y1="94.32" x2="638.50" y2="94.32" stroke="#cf4f3d" stroke-width="1.2"/>
<circle cx="633.10" cy="94.32" r="1.15" fill="#cf4f3d"/>
<line x1="627.70" y1="97.84" x2="637.70" y2="97.84" stroke="#eeb0a4" stroke-width="1.2"/>
<circle cx="632.60" cy="97.84" r="1.15" fill="#cf4f3d"/>
<line x1="627.30" y1="101.36" x2="637.00" y2="101.36" stroke="#cf4f3d" stroke-width="1.2"/>
<circle cx="632.00" cy="101.36" r="1.15" fill="#cf4f3d"/>
<line x1="627.10" y1="104.88" x2="636.60" y2="104.88" stroke="#eeb0a4" stroke-width="1.2"/>
<circle cx="631.70" cy="104.88" r="1.15" fill="#cf4f3d"/>
<line x1="593.00" y1="108.40" x2="609.00" y2="108.40" stroke="#cf4f3d" stroke-width="1.2"/>
<circle cx="600.90" cy="108.40" r="1.15" fill="#cf4f3d"/>
<line x1="587.00" y1="111.92" x2="606.30" y2="111.92" stroke="#eeb0a4" stroke-width="1.2"/>
<circle cx="596.70" cy="111.92" r="1.15" fill="#cf4f3d"/>
<line x1="586.50" y1="115.44" x2="605.80" y2="115.44" stroke="#cf4f3d" stroke-width="1.2"/>
<circle cx="595.80" cy="115.44" r="1.15" fill="#cf4f3d"/>
<line x1="577.40" y1="118.96" x2="602.00" y2="118.96" stroke="#eeb0a4" stroke-width="1.2"/>
<circle cx="589.30" cy="118.96" r="1.15" fill="#cf4f3d"/>
<line x1="572.90" y1="122.48" x2="599.70" y2="122.48" stroke="#cf4f3d" stroke-width="1.2"/>
<circle cx="585.80" cy="122.48" r="1.15" fill="#cf4f3d"/>
<line x1="569.90" y1="126.00" x2="598.30" y2="126.00" stroke="#eeb0a4" stroke-width="1.2"/>
<circle cx="583.50" cy="126.00" r="1.15" fill="#cf4f3d"/>
<line x1="565.20" y1="129.52" x2="596.20" y2="129.52" stroke="#cf4f3d" stroke-width="1.2"/>
<circle cx="580.00" cy="129.52" r="1.15" fill="#cf4f3d"/>
<line x1="571.50" y1="131.50" x2="571.50" y2="133.10" stroke="#777" stroke-width="0.7"/>
<text x="571.50" y="140.80" font-size="6.4" text-anchor="middle" fill="#1c1c1c" transform="rotate(0.05 571.50 140.80)">0.8</text>
<line x1="595.90" y1="131.50" x2="595.90" y2="133.10" stroke="#777" stroke-width="0.7"/>
<text x="595.90" y="140.80" font-size="6.4" text-anchor="middle" fill="#1c1c1c" transform="rotate(0.05 595.90 140.80)">0.9</text>
<line x1="620.40" y1="131.50" x2="620.40" y2="133.10" stroke="#777" stroke-width="0.7"/>
<text x="620.40" y="140.80" font-size="6.4" text-anchor="middle" fill="#1c1c1c" transform="rotate(0.05 620.40 140.80)">1.0</text>
<line x1="645.30" y1="131.50" x2="645.30" y2="133.10" stroke="#777" stroke-width="0.7"/>
<text x="645.30" y="140.80" font-size="6.4" text-anchor="middle" fill="#1c1c1c" transform="rotate(0.05 645.30 140.80)">1.1</text>
<line x1="664.80" y1="131.50" x2="664.80" y2="133.10" stroke="#777" stroke-width="0.7"/>
<text x="664.80" y="140.80" font-size="6.4" text-anchor="middle" fill="#1c1c1c" transform="rotate(0.05 664.80 140.80)">1.2</text>
<text x="617.60" y="151.80" font-size="6.5" text-anchor="middle" fill="#1c1c1c" transform="rotate(0.05 617.60 151.80)">OR</text>
<rect x="25.10" y="173.30" width="120.70" height="119.60" fill="none" stroke="#9a9a9a" stroke-width="0.8"/>
<line x1="25.10" y1="173.30" x2="25.10" y2="292.90" stroke="#777" stroke-width="0.8"/>
<line x1="25.10" y1="292.90" x2="145.80" y2="292.90" stroke="#777" stroke-width="0.8"/>
<line x1="80.70" y1="176.10" x2="80.70" y2="292.90" stroke="#6a6a6a" stroke-width="0.9" stroke-dasharray="3.9 2.04"/>
<line x1="23.10" y1="174.60" x2="25.10" y2="174.60" stroke="#666" stroke-width="0.7"/>
<text x="21.30" y="175.75" font-size="3.2" text-anchor="end" fill="#666" stroke="#666" stroke-width="0.06" transform="rotate(0.05 21.30 175.75)">IL1R2</text>
<line x1="23.10" y1="177.45" x2="25.10" y2="177.45" stroke="#666" stroke-width="0.7"/>
<text x="21.30" y="178.60" font-size="3.2" text-anchor="end" fill="#666" stroke="#666" stroke-width="0.06" transform="rotate(0.05 21.30 178.60)">MATN2</text>
<line x1="23.10" y1="180.29" x2="25.10" y2="180.29" stroke="#666" stroke-width="0.7"/>
<text x="21.30" y="181.44" font-size="3.2" text-anchor="end" fill="#666" stroke="#666" stroke-width="0.06" transform="rotate(0.05 21.30 181.44)">Female</text>
<line x1="23.10" y1="183.14" x2="25.10" y2="183.14" stroke="#666" stroke-width="0.7"/>
<text x="21.30" y="184.29" font-size="3.2" text-anchor="end" fill="#666" stroke="#666" stroke-width="0.06" transform="rotate(0.05 21.30 184.29)">Comorbidity</text>
<line x1="23.10" y1="185.98" x2="25.10" y2="185.98" stroke="#666" stroke-width="0.7"/>
<text x="21.30" y="187.14" font-size="3.2" text-anchor="end" fill="#666" stroke="#666" stroke-width="0.06" transform="rotate(0.05 21.30 187.14)">IL-1RA</text>
<line x1="23.10" y1="188.83" x2="25.10" y2="188.83" stroke="#666" stroke-width="0.7"/>
<text x="21.30" y="189.98" font-size="3.2" text-anchor="end" fill="#666" stroke="#666" stroke-width="0.06" transform="rotate(0.05 21.30 189.98)">CLEC4D</text>
<line x1="23.10" y1="191.68" x2="25.10" y2="191.68" stroke="#666" stroke-width="0.7"/>
<text x="21.30" y="192.83" font-size="3.2" text-anchor="end" fill="#666" stroke="#666" stroke-width="0.06" transform="rotate(0.05 21.30 192.83)">CD4</text>
<line x1="23.10" y1="194.52" x2="25.10" y2="194.52" stroke="#666" stroke-width="0.7"/>
<text x="21.30" y="195.67" font-size="3.2" text-anchor="end" fill="#666" stroke="#666" stroke-width="0.06" transform="rotate(0.05 21.30 195.67)">ANGPTL2</text>
<line x1="23.10" y1="197.37" x2="25.10" y2="197.37" stroke="#666" stroke-width="0.7"/>
<text x="21.30" y="198.52" font-size="3.2" text-anchor="end" fill="#666" stroke="#666" stroke-width="0.06" transform="rotate(0.05 21.30 198.52)">COLEC12</text>
<line x1="23.10" y1="200.21" x2="25.10" y2="200.21" stroke="#666" stroke-width="0.7"/>
<text x="21.30" y="201.37" font-size="3.2" text-anchor="end" fill="#666" stroke="#666" stroke-width="0.06" transform="rotate(0.05 21.30 201.37)">CPA1</text>
<line x1="23.10" y1="203.06" x2="25.10" y2="203.06" stroke="#666" stroke-width="0.7"/>
<text x="21.30" y="204.21" font-size="3.2" text-anchor="end" fill="#666" stroke="#666" stroke-width="0.06" transform="rotate(0.05 21.30 204.21)">ROBO2</text>
<line x1="23.10" y1="205.91" x2="25.10" y2="205.91" stroke="#666" stroke-width="0.7"/>
<text x="21.30" y="207.06" font-size="3.2" text-anchor="end" fill="#666" stroke="#666" stroke-width="0.06" transform="rotate(0.05 21.30 207.06)">CD5L</text>
<line x1="23.10" y1="208.75" x2="25.10" y2="208.75" stroke="#666" stroke-width="0.7"/>
<text x="21.30" y="209.90" font-size="3.2" text-anchor="end" fill="#666" stroke="#666" stroke-width="0.06" transform="rotate(0.05 21.30 209.90)">TFF2</text>
<line x1="23.10" y1="211.60" x2="25.10" y2="211.60" stroke="#666" stroke-width="0.7"/>
<text x="21.30" y="212.75" font-size="3.2" text-anchor="end" fill="#666" stroke="#666" stroke-width="0.06" transform="rotate(0.05 21.30 212.75)">IL6</text>
<line x1="23.10" y1="214.44" x2="25.10" y2="214.44" stroke="#666" stroke-width="0.7"/>
<text x="21.30" y="215.60" font-size="3.2" text-anchor="end" fill="#666" stroke="#666" stroke-width="0.06" transform="rotate(0.05 21.30 215.60)">SCG3</text>
<line x1="23.10" y1="217.29" x2="25.10" y2="217.29" stroke="#666" stroke-width="0.7"/>
<text x="21.30" y="218.44" font-size="3.2" text-anchor="end" fill="#666" stroke="#666" stroke-width="0.06" transform="rotate(0.05 21.30 218.44)">DPP10</text>
<line x1="23.10" y1="220.14" x2="25.10" y2="220.14" stroke="#666" stroke-width="0.7"/>
<text x="21.30" y="221.29" font-size="3.2" text-anchor="end" fill="#666" stroke="#666" stroke-width="0.06" transform="rotate(0.05 21.30 221.29)">ERBB3</text>
<line x1="23.10" y1="222.98" x2="25.10" y2="222.98" stroke="#666" stroke-width="0.7"/>
<text x="21.30" y="224.13" font-size="3.2" text-anchor="end" fill="#666" stroke="#666" stroke-width="0.06" transform="rotate(0.05 21.30 224.13)">IL-2RA</text>
<line x1="23.10" y1="225.83" x2="25.10" y2="225.83" stroke="#666" stroke-width="0.7"/>
<text x="21.30" y="226.98" font-size="3.2" text-anchor="end" fill="#666" stroke="#666" stroke-width="0.06" transform="rotate(0.05 21.30 226.98)">TGFA</text>
<line x1="23.10" y1="228.67" x2="25.10" y2="228.67" stroke="#666" stroke-width="0.7"/>
<text x="21.30" y="229.83" font-size="3.2" text-anchor="end" fill="#666" stroke="#666" stroke-width="0.06" transform="rotate(0.05 21.30 229.83)">AMN</text>
<line x1="23.10" y1="231.52" x2="25.10" y2="231.52" stroke="#666" stroke-width="0.7"/>
<text x="21.30" y="232.67" font-size="3.2" text-anchor="end" fill="#666" stroke="#666" stroke-width="0.06" transform="rotate(0.05 21.30 232.67)">CD160</text>
<line x1="23.10" y1="234.37" x2="25.10" y2="234.37" stroke="#666" stroke-width="0.7"/>
<text x="21.30" y="235.52" font-size="3.2" text-anchor="end" fill="#666" stroke="#666" stroke-width="0.06" transform="rotate(0.05 21.30 235.52)">CA9</text>
<line x1="23.10" y1="237.21" x2="25.10" y2="237.21" stroke="#666" stroke-width="0.7"/>
<text x="21.30" y="238.36" font-size="3.2" text-anchor="end" fill="#666" stroke="#666" stroke-width="0.06" transform="rotate(0.05 21.30 238.36)">PTHR</text>
<line x1="23.10" y1="240.06" x2="25.10" y2="240.06" stroke="#666" stroke-width="0.7"/>
<text x="21.30" y="241.21" font-size="3.2" text-anchor="end" fill="#666" stroke="#666" stroke-width="0.06" transform="rotate(0.05 21.30 241.21)">FST</text>
<line x1="23.10" y1="242.90" x2="25.10" y2="242.90" stroke="#666" stroke-width="0.7"/>
<text x="21.30" y="244.06" font-size="3.2" text-anchor="end" fill="#666" stroke="#666" stroke-width="0.06" transform="rotate(0.05 21.30 244.06)">ITM2A</text>
<line x1="23.10" y1="245.75" x2="25.10" y2="245.75" stroke="#666" stroke-width="0.7"/>
<text x="21.30" y="246.90" font-size="3.2" text-anchor="end" fill="#666" stroke="#666" stroke-width="0.06" transform="rotate(0.05 21.30 246.90)">LGALS4</text>
<line x1="23.10" y1="248.60" x2="25.10" y2="248.60" stroke="#666" stroke-width="0.7"/>
<text x="21.30" y="249.75" font-size="3.2" text-anchor="end" fill="#666" stroke="#666" stroke-width="0.06" transform="rotate(0.05 21.30 249.75)">TNFRSF1B</text>
<line x1="23.10" y1="251.44" x2="25.10" y2="251.44" stroke="#666" stroke-width="0.7"/>
<text x="21.30" y="252.59" font-size="3.2" text-anchor="end" fill="#666" stroke="#666" stroke-width="0.06" transform="rotate(0.05 21.30 252.59)">CLEC4C</text>
<line x1="23.10" y1="254.29" x2="25.10" y2="254.29" stroke="#666" stroke-width="0.7"/>
<text x="21.30" y="255.44" font-size="3.2" text-anchor="end" fill="#666" stroke="#666" stroke-width="0.06" transform="rotate(0.05 21.30 255.44)">GALNT3</text>
<line x1="23.10" y1="257.13" x2="25.10" y2="257.13" stroke="#666" stroke-width="0.7"/>
<text x="21.30" y="258.29" font-size="3.2" text-anchor="end" fill="#666" stroke="#666" stroke-width="0.06" transform="rotate(0.05 21.30 258.29)">ICAM4</text>
<line x1="23.10" y1="259.98" x2="25.10" y2="259.98" stroke="#666" stroke-width="0.7"/>
<text x="21.30" y="261.13" font-size="3.2" text-anchor="end" fill="#666" stroke="#666" stroke-width="0.06" transform="rotate(0.05 21.30 261.13)">TNFRSF13C</text>
<line x1="23.10" y1="262.83" x2="25.10" y2="262.83" stroke="#666" stroke-width="0.7"/>
<text x="21.30" y="263.98" font-size="3.2" text-anchor="end" fill="#666" stroke="#666" stroke-width="0.06" transform="rotate(0.05 21.30 263.98)">MEGF10</text>
<line x1="23.10" y1="265.67" x2="25.10" y2="265.67" stroke="#666" stroke-width="0.7"/>
<text x="21.30" y="266.82" font-size="3.2" text-anchor="end" fill="#666" stroke="#666" stroke-width="0.06" transform="rotate(0.05 21.30 266.82)">IFNLR1</text>
<line x1="23.10" y1="268.52" x2="25.10" y2="268.52" stroke="#666" stroke-width="0.7"/>
<text x="21.30" y="269.67" font-size="3.2" text-anchor="end" fill="#666" stroke="#666" stroke-width="0.06" transform="rotate(0.05 21.30 269.67)">AGER</text>
<line x1="23.10" y1="271.36" x2="25.10" y2="271.36" stroke="#666" stroke-width="0.7"/>
<text x="21.30" y="272.52" font-size="3.2" text-anchor="end" fill="#666" stroke="#666" stroke-width="0.06" transform="rotate(0.05 21.30 272.52)">DNER</text>
<line x1="23.10" y1="274.21" x2="25.10" y2="274.21" stroke="#666" stroke-width="0.7"/>
<text x="21.30" y="275.36" font-size="3.2" text-anchor="end" fill="#666" stroke="#666" stroke-width="0.06" transform="rotate(0.05 21.30 275.36)">IL2</text>
<line x1="23.10" y1="277.06" x2="25.10" y2="277.06" stroke="#666" stroke-width="0.7"/>
<text x="21.30" y="278.21" font-size="3.2" text-anchor="end" fill="#666" stroke="#666" stroke-width="0.06" transform="rotate(0.05 21.30 278.21)">CRLF1</text>
<line x1="23.10" y1="279.90" x2="25.10" y2="279.90" stroke="#666" stroke-width="0.7"/>
<text x="21.30" y="281.05" font-size="3.2" text-anchor="end" fill="#666" stroke="#666" stroke-width="0.06" transform="rotate(0.05 21.30 281.05)">sCD58</text>
<line x1="23.10" y1="282.75" x2="25.10" y2="282.75" stroke="#666" stroke-width="0.7"/>
<text x="21.30" y="283.90" font-size="3.2" text-anchor="end" fill="#666" stroke="#666" stroke-width="0.06" transform="rotate(0.05 21.30 283.90)">INSR</text>
<line x1="23.10" y1="285.59" x2="25.10" y2="285.59" stroke="#666" stroke-width="0.7"/>
<text x="21.30" y="286.75" font-size="3.2" text-anchor="end" fill="#666" stroke="#666" stroke-width="0.06" transform="rotate(0.05 21.30 286.75)">ACSS</text>
<line x1="23.10" y1="288.44" x2="25.10" y2="288.44" stroke="#666" stroke-width="0.7"/>
<text x="21.30" y="289.59" font-size="3.2" text-anchor="end" fill="#666" stroke="#666" stroke-width="0.06" transform="rotate(0.05 21.30 289.59)">LRRN1</text>
<line x1="23.10" y1="291.29" x2="25.10" y2="291.29" stroke="#666" stroke-width="0.7"/>
<text x="21.30" y="292.44" font-size="3.2" text-anchor="end" fill="#666" stroke="#666" stroke-width="0.06" transform="rotate(0.05 21.30 292.44)">IDS</text>
<line x1="100.60" y1="174.60" x2="140.10" y2="174.60" stroke="#dab2c7" stroke-width="0.9"/>
<circle cx="118.30" cy="174.60" r="1.00" fill="#8a2a60"/>
<line x1="91.70" y1="177.45" x2="112.00" y2="177.45" stroke="#8a2a60" stroke-width="0.9"/>
<circle cx="101.60" cy="177.45" r="1.00" fill="#8a2a60"/>
<line x1="91.50" y1="180.29" x2="111.30" y2="180.29" stroke="#8a2a60" stroke-width="0.9"/>
<circle cx="100.60" cy="180.29" r="1.00" fill="#8a2a60"/>
<line x1="91.30" y1="183.14" x2="110.80" y2="183.14" stroke="#8a2a60" stroke-width="0.9"/>
<circle cx="100.20" cy="183.14" r="1.00" fill="#8a2a60"/>
<line x1="90.80" y1="185.98" x2="109.00" y2="185.98" stroke="#8a2a60" stroke-width="0.9"/>
<circle cx="99.30" cy="185.98" r="1.00" fill="#8a2a60"/>
<line x1="90.00" y1="188.83" x2="106.60" y2="188.83" stroke="#8a2a60" stroke-width="0.9"/>
<circle cx="97.80" cy="188.83" r="1.00" fill="#8a2a60"/>
<line x1="88.80" y1="191.68" x2="102.80" y2="191.68" stroke="#dab2c7" stroke-width="0.9"/>
<circle cx="95.30" cy="191.68" r="1.00" fill="#8a2a60"/>
<line x1="88.30" y1="194.52" x2="102.00" y2="194.52" stroke="#8a2a60" stroke-width="0.9"/>
<circle cx="94.70" cy="194.52" r="1.00" fill="#8a2a60"/>
<line x1="88.00" y1="197.37" x2="101.00" y2="197.37" stroke="#8a2a60" stroke-width="0.9"/>
<circle cx="94.30" cy="197.37" r="1.00" fill="#8a2a60"/>
<line x1="87.90" y1="200.21" x2="100.50" y2="200.21" stroke="#8a2a60" stroke-width="0.9"/>
<circle cx="94.00" cy="200.21" r="1.00" fill="#8a2a60"/>
<line x1="87.80" y1="203.06" x2="100.00" y2="203.06" stroke="#8a2a60" stroke-width="0.9"/>
<circle cx="93.80" cy="203.06" r="1.00" fill="#8a2a60"/>
<line x1="87.30" y1="205.91" x2="98.50" y2="205.91" stroke="#dab2c7" stroke-width="0.9"/>
<circle cx="92.60" cy="205.91" r="1.00" fill="#8a2a60"/>
<line x1="87.00" y1="208.75" x2="98.30" y2="208.75" stroke="#dab2c7" stroke-width="0.9"/>
<circle cx="92.40" cy="208.75" r="1.00" fill="#8a2a60"/>
<line x1="86.80" y1="211.60" x2="98.00" y2="211.60" stroke="#8a2a60" stroke-width="0.9"/>
<circle cx="92.20" cy="211.60" r="1.00" fill="#8a2a60"/>
<line x1="86.50" y1="214.44" x2="97.00" y2="214.44" stroke="#8a2a60" stroke-width="0.9"/>
<circle cx="91.70" cy="214.44" r="1.00" fill="#8a2a60"/>
<line x1="86.00" y1="217.29" x2="95.80" y2="217.29" stroke="#8a2a60" stroke-width="0.9"/>
<circle cx="90.80" cy="217.29" r="1.00" fill="#8a2a60"/>
<line x1="85.80" y1="220.14" x2="95.00" y2="220.14" stroke="#8a2a60" stroke-width="0.9"/>
<circle cx="90.50" cy="220.14" r="1.00" fill="#8a2a60"/>
<line x1="85.60" y1="222.98" x2="94.80" y2="222.98" stroke="#8a2a60" stroke-width="0.9"/>
<circle cx="90.30" cy="222.98" r="1.00" fill="#8a2a60"/>
<line x1="85.50" y1="225.83" x2="94.30" y2="225.83" stroke="#8a2a60" stroke-width="0.9"/>
<circle cx="90.00" cy="225.83" r="1.00" fill="#8a2a60"/>
<line x1="85.30" y1="228.67" x2="94.00" y2="228.67" stroke="#8a2a60" stroke-width="0.9"/>
<circle cx="89.80" cy="228.67" r="1.00" fill="#8a2a60"/>
<line x1="84.90" y1="231.52" x2="93.20" y2="231.52" stroke="#8a2a60" stroke-width="0.9"/>
<circle cx="89.30" cy="231.52" r="1.00" fill="#8a2a60"/>
<line x1="84.80" y1="234.37" x2="93.00" y2="234.37" stroke="#8a2a60" stroke-width="0.9"/>
<circle cx="89.00" cy="234.37" r="1.00" fill="#8a2a60"/>
<line x1="84.80" y1="237.21" x2="92.80" y2="237.21" stroke="#8a2a60" stroke-width="0.9"/>
<circle cx="88.90" cy="237.21" r="1.00" fill="#8a2a60"/>
<line x1="84.70" y1="240.06" x2="92.80" y2="240.06" stroke="#8a2a60" stroke-width="0.9"/>
<circle cx="89.00" cy="240.06" r="1.00" fill="#8a2a60"/>
<line x1="84.60" y1="242.90" x2="92.60" y2="242.90" stroke="#8a2a60" stroke-width="0.9"/>
<circle cx="88.80" cy="242.90" r="1.00" fill="#8a2a60"/>
<line x1="84.50" y1="245.75" x2="92.40" y2="245.75" stroke="#8a2a60" stroke-width="0.9"/>
<circle cx="88.60" cy="245.75" r="1.00" fill="#8a2a60"/>
<line x1="84.40" y1="248.60" x2="92.20" y2="248.60" stroke="#8a2a60" stroke-width="0.9"/>
<circle cx="88.40" cy="248.60" r="1.00" fill="#8a2a60"/>
<line x1="84.30" y1="251.44" x2="92.00" y2="251.44" stroke="#8a2a60" stroke-width="0.9"/>
<circle cx="88.20" cy="251.44" r="1.00" fill="#8a2a60"/>
<line x1="84.20" y1="254.29" x2="91.80" y2="254.29" stroke="#8a2a60" stroke-width="0.9"/>
<circle cx="88.00" cy="254.29" r="1.00" fill="#8a2a60"/>
<line x1="84.50" y1="257.13" x2="91.20" y2="257.13" stroke="#8a2a60" stroke-width="0.9"/>
<circle cx="87.80" cy="257.13" r="1.00" fill="#8a2a60"/>
<line x1="66.10" y1="259.98" x2="75.00" y2="259.98" stroke="#dab2c7" stroke-width="0.9"/>
<circle cx="70.30" cy="259.98" r="1.00" fill="#8a2a60"/>
<line x1="65.50" y1="262.83" x2="74.30" y2="262.83" stroke="#8a2a60" stroke-width="0.9"/>
<circle cx="69.70" cy="262.83" r="1.00" fill="#8a2a60"/>
<line x1="64.80" y1="265.67" x2="74.00" y2="265.67" stroke="#8a2a60" stroke-width="0.9"/>
<circle cx="69.20" cy="265.67" r="1.00" fill="#8a2a60"/>
<line x1="64.20" y1="268.52" x2="73.70" y2="268.52" stroke="#8a2a60" stroke-width="0.9"/>
<circle cx="68.60" cy="268.52" r="1.00" fill="#8a2a60"/>
<line x1="63.80" y1="271.36" x2="73.30" y2="271.36" stroke="#8a2a60" stroke-width="0.9"/>
<circle cx="68.20" cy="271.36" r="1.00" fill="#8a2a60"/>
<line x1="63.20" y1="274.21" x2="72.80" y2="274.21" stroke="#8a2a60" stroke-width="0.9"/>
<circle cx="67.60" cy="274.21" r="1.00" fill="#8a2a60"/>
<line x1="62.70" y1="277.06" x2="72.50" y2="277.06" stroke="#8a2a60" stroke-width="0.9"/>
<circle cx="67.30" cy="277.06" r="1.00" fill="#8a2a60"/>
<line x1="60.50" y1="279.90" x2="71.30" y2="279.90" stroke="#dab2c7" stroke-width="0.9"/>
<circle cx="65.70" cy="279.90" r="1.00" fill="#8a2a60"/>
<line x1="56.30" y1="282.75" x2="70.00" y2="282.75" stroke="#8a2a60" stroke-width="0.9"/>
<circle cx="63.10" cy="282.75" r="1.00" fill="#8a2a60"/>
<line x1="56.00" y1="285.59" x2="69.80" y2="285.59" stroke="#8a2a60" stroke-width="0.9"/>
<circle cx="62.90" cy="285.59" r="1.00" fill="#8a2a60"/>
<line x1="56.00" y1="288.44" x2="69.50" y2="288.44" stroke="#8a2a60" stroke-width="0.9"/>
<circle cx="62.70" cy="288.44" r="1.00" fill="#8a2a60"/>
<line x1="30.80" y1="291.29" x2="55.50" y2="291.29" stroke="#8a2a60" stroke-width="0.9"/>
<circle cx="41.40" cy="291.29" r="1.00" fill="#8a2a60"/>
<line x1="47.50" y1="292.90" x2="47.50" y2="294.50" stroke="#777" stroke-width="0.7"/>
<text x="47.50" y="302.00" font-size="6.4" text-anchor="middle" fill="#1c1c1c" transform="rotate(0.05 47.50 302.00)">0.6</text>
<line x1="72.60" y1="292.90" x2="72.60" y2="294.50" stroke="#777" stroke-width="0.7"/>
<text x="72.60" y="302.00" font-size="6.4" text-anchor="middle" fill="#1c1c1c" transform="rotate(0.05 72.60 302.00)">0.9</text>
<line x1="97.60" y1="292.90" x2="97.60" y2="294.50" stroke="#777" stroke-width="0.7"/>
<text x="97.60" y="302.00" font-size="6.4" text-anchor="middle" fill="#1c1c1c" transform="rotate(0.05 97.60 302.00)">1.2</text>
<line x1="121.80" y1="292.90" x2="121.80" y2="294.50" stroke="#777" stroke-width="0.7"/>
<text x="121.80" y="302.00" font-size="6.4" text-anchor="middle" fill="#1c1c1c" transform="rotate(0.05 121.80 302.00)">1.5</text>
<text x="85.70" y="312.60" font-size="6.5" text-anchor="middle" fill="#1c1c1c" transform="rotate(0.05 85.70 312.60)">OR</text>
<rect x="205.60" y="173.10" width="123.40" height="119.20" fill="none" stroke="#9a9a9a" stroke-width="0.8"/>
<line x1="205.60" y1="173.10" x2="205.60" y2="292.30" stroke="#777" stroke-width="0.8"/>
<line x1="205.60" y1="292.30" x2="329.00" y2="292.30" stroke="#777" stroke-width="0.8"/>
<line x1="249.60" y1="175.90" x2="249.60" y2="292.30" stroke="#6a6a6a" stroke-width="0.9" stroke-dasharray="3.9 2.04"/>
<line x1="203.60" y1="175.40" x2="205.60" y2="175.40" stroke="#666" stroke-width="0.7"/>
<text x="202.40" y="176.82" font-size="3.95" text-anchor="end" fill="#1a1a1a" stroke="#1a1a1a" stroke-width="0.06" transform="rotate(0.05 202.40 176.82)">Neuro_Psych comorbidity</text>
<line x1="203.60" y1="180.58" x2="205.60" y2="180.58" stroke="#666" stroke-width="0.7"/>
<text x="202.40" y="182.00" font-size="3.95" text-anchor="end" fill="#1a1a1a" stroke="#1a1a1a" stroke-width="0.06" transform="rotate(0.05 202.40 182.00)">IL-1R2</text>
<line x1="203.60" y1="185.76" x2="205.60" y2="185.76" stroke="#666" stroke-width="0.7"/>
<text x="202.40" y="187.18" font-size="3.95" text-anchor="end" fill="#1a1a1a" stroke="#1a1a1a" stroke-width="0.06" transform="rotate(0.05 202.40 187.18)">MATN2</text>
<line x1="203.60" y1="190.94" x2="205.60" y2="190.94" stroke="#666" stroke-width="0.7"/>
<text x="202.40" y="192.36" font-size="3.95" text-anchor="end" fill="#1a1a1a" stroke="#1a1a1a" stroke-width="0.06" transform="rotate(0.05 202.40 192.36)">IL-2RA</text>
<line x1="203.60" y1="196.12" x2="205.60" y2="196.12" stroke="#666" stroke-width="0.7"/>
<text x="202.40" y="197.54" font-size="3.95" text-anchor="end" fill="#1a1a1a" stroke="#1a1a1a" stroke-width="0.06" transform="rotate(0.05 202.40 197.54)">CLEC4D</text>
<line x1="203.60" y1="201.30" x2="205.60" y2="201.30" stroke="#666" stroke-width="0.7"/>
<text x="202.40" y="202.72" font-size="3.95" text-anchor="end" fill="#1a1a1a" stroke="#1a1a1a" stroke-width="0.06" transform="rotate(0.05 202.40 202.72)">ANGPTL2</text>
<line x1="203.60" y1="206.48" x2="205.60" y2="206.48" stroke="#666" stroke-width="0.7"/>
<text x="202.40" y="207.90" font-size="3.95" text-anchor="end" fill="#1a1a1a" stroke="#1a1a1a" stroke-width="0.06" transform="rotate(0.05 202.40 207.90)">COLEC12</text>
<line x1="203.60" y1="211.66" x2="205.60" y2="211.66" stroke="#666" stroke-width="0.7"/>
<text x="202.40" y="213.08" font-size="3.95" text-anchor="end" fill="#1a1a1a" stroke="#1a1a1a" stroke-width="0.06" transform="rotate(0.05 202.40 213.08)">ERBB3</text>
<line x1="203.60" y1="216.84" x2="205.60" y2="216.84" stroke="#666" stroke-width="0.7"/>
<text x="202.40" y="218.26" font-size="3.95" text-anchor="end" fill="#1a1a1a" stroke="#1a1a1a" stroke-width="0.06" transform="rotate(0.05 202.40 218.26)">CD276</text>
<line x1="203.60" y1="222.02" x2="205.60" y2="222.02" stroke="#666" stroke-width="0.7"/>
<text x="202.40" y="223.44" font-size="3.95" text-anchor="end" fill="#1a1a1a" stroke="#1a1a1a" stroke-width="0.06" transform="rotate(0.05 202.40 223.44)">IL-1RL2</text>
<line x1="203.60" y1="227.20" x2="205.60" y2="227.20" stroke="#666" stroke-width="0.7"/>
<text x="202.40" y="228.62" font-size="3.95" text-anchor="end" fill="#1a1a1a" stroke="#1a1a1a" stroke-width="0.06" transform="rotate(0.05 202.40 228.62)">CLEC4C</text>
<line x1="203.60" y1="232.38" x2="205.60" y2="232.38" stroke="#666" stroke-width="0.7"/>
<text x="202.40" y="233.80" font-size="3.95" text-anchor="end" fill="#1a1a1a" stroke="#1a1a1a" stroke-width="0.06" transform="rotate(0.05 202.40 233.80)">TGFA</text>
<line x1="203.60" y1="237.56" x2="205.60" y2="237.56" stroke="#666" stroke-width="0.7"/>
<text x="202.40" y="238.98" font-size="3.95" text-anchor="end" fill="#1a1a1a" stroke="#1a1a1a" stroke-width="0.06" transform="rotate(0.05 202.40 238.98)">EPHA4</text>
<line x1="203.60" y1="242.74" x2="205.60" y2="242.74" stroke="#666" stroke-width="0.7"/>
<text x="202.40" y="244.16" font-size="3.95" text-anchor="end" fill="#1a1a1a" stroke="#1a1a1a" stroke-width="0.06" transform="rotate(0.05 202.40 244.16)">C1QA</text>
<line x1="203.60" y1="247.92" x2="205.60" y2="247.92" stroke="#666" stroke-width="0.7"/>
<text x="202.40" y="249.34" font-size="3.95" text-anchor="end" fill="#1a1a1a" stroke="#1a1a1a" stroke-width="0.06" transform="rotate(0.05 202.40 249.34)">AMBN</text>
<line x1="203.60" y1="253.10" x2="205.60" y2="253.10" stroke="#666" stroke-width="0.7"/>
<text x="202.40" y="254.52" font-size="3.95" text-anchor="end" fill="#1a1a1a" stroke="#1a1a1a" stroke-width="0.06" transform="rotate(0.05 202.40 254.52)">LGALS4</text>
<line x1="203.60" y1="258.28" x2="205.60" y2="258.28" stroke="#666" stroke-width="0.7"/>
<text x="202.40" y="259.70" font-size="3.95" text-anchor="end" fill="#1a1a1a" stroke="#1a1a1a" stroke-width="0.06" transform="rotate(0.05 202.40 259.70)">TFF2</text>
<line x1="203.60" y1="263.46" x2="205.60" y2="263.46" stroke="#666" stroke-width="0.7"/>
<text x="202.40" y="264.88" font-size="3.95" text-anchor="end" fill="#1a1a1a" stroke="#1a1a1a" stroke-width="0.06" transform="rotate(0.05 202.40 264.88)">IFNLR1</text>
<line x1="203.60" y1="268.64" x2="205.60" y2="268.64" stroke="#666" stroke-width="0.7"/>
<text x="202.40" y="270.06" font-size="3.95" text-anchor="end" fill="#1a1a1a" stroke="#1a1a1a" stroke-width="0.06" transform="rotate(0.05 202.40 270.06)">AGER</text>
<line x1="203.60" y1="273.82" x2="205.60" y2="273.82" stroke="#666" stroke-width="0.7"/>
<text x="202.40" y="275.24" font-size="3.95" text-anchor="end" fill="#1a1a1a" stroke="#1a1a1a" stroke-width="0.06" transform="rotate(0.05 202.40 275.24)">DNER</text>
<line x1="203.60" y1="279.00" x2="205.60" y2="279.00" stroke="#666" stroke-width="0.7"/>
<text x="202.40" y="280.42" font-size="3.95" text-anchor="end" fill="#1a1a1a" stroke="#1a1a1a" stroke-width="0.06" transform="rotate(0.05 202.40 280.42)">IL2</text>
<line x1="203.60" y1="284.18" x2="205.60" y2="284.18" stroke="#666" stroke-width="0.7"/>
<text x="202.40" y="285.60" font-size="3.95" text-anchor="end" fill="#1a1a1a" stroke="#1a1a1a" stroke-width="0.06" transform="rotate(0.05 202.40 285.60)">sCD58</text>
<line x1="203.60" y1="289.36" x2="205.60" y2="289.36" stroke="#666" stroke-width="0.7"/>
<text x="202.40" y="290.78" font-size="3.95" text-anchor="end" fill="#1a1a1a" stroke="#1a1a1a" stroke-width="0.06" transform="rotate(0.05 202.40 290.78)">IDS</text>
<line x1="273.60" y1="175.40" x2="323.40" y2="175.40" stroke="#fbd08e" stroke-width="1.0"/>
<circle cx="296.10" cy="175.40" r="1.15" fill="#f8a722"/>
<line x1="266.80" y1="180.58" x2="299.70" y2="180.58" stroke="#f8a722" stroke-width="1.0"/>
<circle cx="282.10" cy="180.58" r="1.15" fill="#f8a722"/>
<line x1="257.80" y1="185.76" x2="271.80" y2="185.76" stroke="#f8a722" stroke-width="1.0"/>
<circle cx="264.60" cy="185.76" r="1.15" fill="#f8a722"/>
<line x1="256.20" y1="190.94" x2="267.70" y2="190.94" stroke="#f8a722" stroke-width="1.0"/>
<circle cx="262.00" cy="190.94" r="1.15" fill="#f8a722"/>
<line x1="255.80" y1="196.12" x2="266.00" y2="196.12" stroke="#f8a722" stroke-width="1.0"/>
<circle cx="260.50" cy="196.12" r="1.15" fill="#f8a722"/>
<line x1="255.60" y1="201.30" x2="265.60" y2="201.30" stroke="#f8a722" stroke-width="1.0"/>
<circle cx="260.20" cy="201.30" r="1.15" fill="#f8a722"/>
<line x1="255.10" y1="206.48" x2="264.80" y2="206.48" stroke="#fbd08e" stroke-width="1.0"/>
<circle cx="259.80" cy="206.48" r="1.15" fill="#f8a722"/>
<line x1="255.10" y1="211.66" x2="264.50" y2="211.66" stroke="#fbd08e" stroke-width="1.0"/>
<circle cx="259.80" cy="211.66" r="1.15" fill="#f8a722"/>
<line x1="254.80" y1="216.84" x2="263.80" y2="216.84" stroke="#f8a722" stroke-width="1.0"/>
<circle cx="258.90" cy="216.84" r="1.15" fill="#f8a722"/>
<line x1="254.60" y1="222.02" x2="263.50" y2="222.02" stroke="#f8a722" stroke-width="1.0"/>
<circle cx="258.70" cy="222.02" r="1.15" fill="#f8a722"/>
<line x1="254.40" y1="227.20" x2="263.50" y2="227.20" stroke="#f8a722" stroke-width="1.0"/>
<circle cx="258.50" cy="227.20" r="1.15" fill="#f8a722"/>
<line x1="254.60" y1="232.38" x2="262.70" y2="232.38" stroke="#f8a722" stroke-width="1.0"/>
<circle cx="258.30" cy="232.38" r="1.15" fill="#f8a722"/>
<line x1="254.40" y1="237.56" x2="261.80" y2="237.56" stroke="#f8a722" stroke-width="1.0"/>
<circle cx="257.70" cy="237.56" r="1.15" fill="#f8a722"/>
<line x1="254.40" y1="242.74" x2="261.00" y2="242.74" stroke="#f8a722" stroke-width="1.0"/>
<circle cx="257.40" cy="242.74" r="1.15" fill="#f8a722"/>
<line x1="254.40" y1="247.92" x2="260.90" y2="247.92" stroke="#f8a722" stroke-width="1.0"/>
<circle cx="257.40" cy="247.92" r="1.15" fill="#f8a722"/>
<line x1="254.40" y1="253.10" x2="260.90" y2="253.10" stroke="#f8a722" stroke-width="1.0"/>
<circle cx="257.40" cy="253.10" r="1.15" fill="#f8a722"/>
<line x1="254.20" y1="258.28" x2="260.90" y2="258.28" stroke="#f8a722" stroke-width="1.0"/>
<circle cx="257.20" cy="258.28" r="1.15" fill="#f8a722"/>
<line x1="234.00" y1="263.46" x2="243.20" y2="263.46" stroke="#f8a722" stroke-width="1.0"/>
<circle cx="238.10" cy="263.46" r="1.15" fill="#f8a722"/>
<line x1="231.40" y1="268.64" x2="242.00" y2="268.64" stroke="#f8a722" stroke-width="1.0"/>
<circle cx="236.20" cy="268.64" r="1.15" fill="#f8a722"/>
<line x1="228.00" y1="273.82" x2="240.40" y2="273.82" stroke="#f8a722" stroke-width="1.0"/>
<circle cx="233.70" cy="273.82" r="1.15" fill="#f8a722"/>
<line x1="227.20" y1="279.00" x2="239.70" y2="279.00" stroke="#f8a722" stroke-width="1.0"/>
<circle cx="233.00" cy="279.00" r="1.15" fill="#f8a722"/>
<line x1="224.70" y1="284.18" x2="238.70" y2="284.18" stroke="#fbd08e" stroke-width="1.0"/>
<circle cx="231.40" cy="284.18" r="1.15" fill="#f8a722"/>
<line x1="211.30" y1="289.36" x2="232.40" y2="289.36" stroke="#f8a722" stroke-width="1.0"/>
<circle cx="220.90" cy="289.36" r="1.15" fill="#f8a722"/>
<line x1="211.00" y1="292.30" x2="211.00" y2="293.90" stroke="#777" stroke-width="0.7"/>
<text x="211.00" y="301.00" font-size="6.4" text-anchor="middle" fill="#1c1c1c" transform="rotate(0.05 211.00 301.00)">0.6</text>
<line x1="240.50" y1="292.30" x2="240.50" y2="293.90" stroke="#777" stroke-width="0.7"/>
<text x="240.50" y="301.00" font-size="6.4" text-anchor="middle" fill="#1c1c1c" transform="rotate(0.05 240.50 301.00)">0.9</text>
<line x1="270.00" y1="292.30" x2="270.00" y2="293.90" stroke="#777" stroke-width="0.7"/>
<text x="270.00" y="301.00" font-size="6.4" text-anchor="middle" fill="#1c1c1c" transform="rotate(0.05 270.00 301.00)">1.2</text>
<line x1="299.40" y1="292.30" x2="299.40" y2="293.90" stroke="#777" stroke-width="0.7"/>
<text x="299.40" y="301.00" font-size="6.4" text-anchor="middle" fill="#1c1c1c" transform="rotate(0.05 299.40 301.00)">1.5</text>
<text x="267.30" y="312.40" font-size="6.5" text-anchor="middle" fill="#1c1c1c" transform="rotate(0.05 267.30 312.40)">OR</text>
<rect x="376.60" y="173.00" width="121.10" height="119.00" fill="none" stroke="#9a9a9a" stroke-width="0.8"/>
<line x1="376.60" y1="173.00" x2="376.60" y2="292.00" stroke="#777" stroke-width="0.8"/>
<line x1="376.60" y1="292.00" x2="497.70" y2="292.00" stroke="#777" stroke-width="0.8"/>
<line x1="441.50" y1="175.80" x2="441.50" y2="292.00" stroke="#6a6a6a" stroke-width="0.9" stroke-dasharray="3.9 2.04"/>
<line x1="374.60" y1="175.70" x2="376.60" y2="175.70" stroke="#666" stroke-width="0.7"/>
<text x="373.40" y="177.21" font-size="4.2" text-anchor="end" fill="#1a1a1a" stroke="#1a1a1a" stroke-width="0.06" transform="rotate(0.05 373.40 177.21)">Female</text>
<line x1="374.60" y1="180.24" x2="376.60" y2="180.24" stroke="#666" stroke-width="0.7"/>
<text x="373.40" y="181.76" font-size="4.2" text-anchor="end" fill="#1a1a1a" stroke="#1a1a1a" stroke-width="0.06" transform="rotate(0.05 373.40 181.76)">MATN2</text>
<line x1="374.60" y1="184.79" x2="376.60" y2="184.79" stroke="#666" stroke-width="0.7"/>
<text x="373.40" y="186.30" font-size="4.2" text-anchor="end" fill="#1a1a1a" stroke="#1a1a1a" stroke-width="0.06" transform="rotate(0.05 373.40 186.30)">CSF3</text>
<line x1="374.60" y1="189.33" x2="376.60" y2="189.33" stroke="#666" stroke-width="0.7"/>
<text x="373.40" y="190.84" font-size="4.2" text-anchor="end" fill="#1a1a1a" stroke="#1a1a1a" stroke-width="0.06" transform="rotate(0.05 373.40 190.84)">C1QA</text>
<line x1="374.60" y1="193.88" x2="376.60" y2="193.88" stroke="#666" stroke-width="0.7"/>
<text x="373.40" y="195.39" font-size="4.2" text-anchor="end" fill="#1a1a1a" stroke="#1a1a1a" stroke-width="0.06" transform="rotate(0.05 373.40 195.39)">SCG3</text>
<line x1="374.60" y1="198.42" x2="376.60" y2="198.42" stroke="#666" stroke-width="0.7"/>
<text x="373.40" y="199.93" font-size="4.2" text-anchor="end" fill="#1a1a1a" stroke="#1a1a1a" stroke-width="0.06" transform="rotate(0.05 373.40 199.93)">IL-1R2</text>
<line x1="374.60" y1="202.96" x2="376.60" y2="202.96" stroke="#666" stroke-width="0.7"/>
<text x="373.40" y="204.48" font-size="4.2" text-anchor="end" fill="#1a1a1a" stroke="#1a1a1a" stroke-width="0.06" transform="rotate(0.05 373.40 204.48)">DPP10</text>
<line x1="374.60" y1="207.51" x2="376.60" y2="207.51" stroke="#666" stroke-width="0.7"/>
<text x="373.40" y="209.02" font-size="4.2" text-anchor="end" fill="#1a1a1a" stroke="#1a1a1a" stroke-width="0.06" transform="rotate(0.05 373.40 209.02)">GNT1</text>
<line x1="374.60" y1="212.05" x2="376.60" y2="212.05" stroke="#666" stroke-width="0.7"/>
<text x="373.40" y="213.56" font-size="4.2" text-anchor="end" fill="#1a1a1a" stroke="#1a1a1a" stroke-width="0.06" transform="rotate(0.05 373.40 213.56)">ERBB3</text>
<line x1="374.60" y1="216.60" x2="376.60" y2="216.60" stroke="#666" stroke-width="0.7"/>
<text x="373.40" y="218.11" font-size="4.2" text-anchor="end" fill="#1a1a1a" stroke="#1a1a1a" stroke-width="0.06" transform="rotate(0.05 373.40 218.11)">ITM2A</text>
<line x1="374.60" y1="221.14" x2="376.60" y2="221.14" stroke="#666" stroke-width="0.7"/>
<text x="373.40" y="222.65" font-size="4.2" text-anchor="end" fill="#1a1a1a" stroke="#1a1a1a" stroke-width="0.06" transform="rotate(0.05 373.40 222.65)">IL-2RA</text>
<line x1="374.60" y1="225.68" x2="376.60" y2="225.68" stroke="#666" stroke-width="0.7"/>
<text x="373.40" y="227.20" font-size="4.2" text-anchor="end" fill="#1a1a1a" stroke="#1a1a1a" stroke-width="0.06" transform="rotate(0.05 373.40 227.20)">FST</text>
<line x1="374.60" y1="230.23" x2="376.60" y2="230.23" stroke="#666" stroke-width="0.7"/>
<text x="373.40" y="231.74" font-size="4.2" text-anchor="end" fill="#1a1a1a" stroke="#1a1a1a" stroke-width="0.06" transform="rotate(0.05 373.40 231.74)">GALNT3</text>
<line x1="374.60" y1="234.77" x2="376.60" y2="234.77" stroke="#666" stroke-width="0.7"/>
<text x="373.40" y="236.28" font-size="4.2" text-anchor="end" fill="#1a1a1a" stroke="#1a1a1a" stroke-width="0.06" transform="rotate(0.05 373.40 236.28)">CLEC4C</text>
<line x1="374.60" y1="239.32" x2="376.60" y2="239.32" stroke="#666" stroke-width="0.7"/>
<text x="373.40" y="240.83" font-size="4.2" text-anchor="end" fill="#1a1a1a" stroke="#1a1a1a" stroke-width="0.06" transform="rotate(0.05 373.40 240.83)">IL-1RL2</text>
<line x1="374.60" y1="243.86" x2="376.60" y2="243.86" stroke="#666" stroke-width="0.7"/>
<text x="373.40" y="245.37" font-size="4.2" text-anchor="end" fill="#1a1a1a" stroke="#1a1a1a" stroke-width="0.06" transform="rotate(0.05 373.40 245.37)">FLT3LG</text>
<line x1="374.60" y1="248.40" x2="376.60" y2="248.40" stroke="#666" stroke-width="0.7"/>
<text x="373.40" y="249.92" font-size="4.2" text-anchor="end" fill="#1a1a1a" stroke="#1a1a1a" stroke-width="0.06" transform="rotate(0.05 373.40 249.92)">EPHA4</text>
<line x1="374.60" y1="252.95" x2="376.60" y2="252.95" stroke="#666" stroke-width="0.7"/>
<text x="373.40" y="254.46" font-size="4.2" text-anchor="end" fill="#1a1a1a" stroke="#1a1a1a" stroke-width="0.06" transform="rotate(0.05 373.40 254.46)">CD4</text>
<line x1="374.60" y1="257.49" x2="376.60" y2="257.49" stroke="#666" stroke-width="0.7"/>
<text x="373.40" y="259.00" font-size="4.2" text-anchor="end" fill="#1a1a1a" stroke="#1a1a1a" stroke-width="0.06" transform="rotate(0.05 373.40 259.00)">GI comorbidity</text>
<line x1="374.60" y1="262.04" x2="376.60" y2="262.04" stroke="#666" stroke-width="0.7"/>
<text x="373.40" y="263.55" font-size="4.2" text-anchor="end" fill="#1a1a1a" stroke="#1a1a1a" stroke-width="0.06" transform="rotate(0.05 373.40 263.55)">CCL22</text>
<line x1="374.60" y1="266.58" x2="376.60" y2="266.58" stroke="#666" stroke-width="0.7"/>
<text x="373.40" y="268.09" font-size="4.2" text-anchor="end" fill="#1a1a1a" stroke="#1a1a1a" stroke-width="0.06" transform="rotate(0.05 373.40 268.09)">AMBN</text>
<line x1="374.60" y1="271.12" x2="376.60" y2="271.12" stroke="#666" stroke-width="0.7"/>
<text x="373.40" y="272.64" font-size="4.2" text-anchor="end" fill="#1a1a1a" stroke="#1a1a1a" stroke-width="0.06" transform="rotate(0.05 373.40 272.64)">IL6</text>
<line x1="374.60" y1="275.67" x2="376.60" y2="275.67" stroke="#666" stroke-width="0.7"/>
<text x="373.40" y="277.18" font-size="4.2" text-anchor="end" fill="#1a1a1a" stroke="#1a1a1a" stroke-width="0.06" transform="rotate(0.05 373.40 277.18)">ICAM4</text>
<line x1="374.60" y1="280.21" x2="376.60" y2="280.21" stroke="#666" stroke-width="0.7"/>
<text x="373.40" y="281.72" font-size="4.2" text-anchor="end" fill="#1a1a1a" stroke="#1a1a1a" stroke-width="0.06" transform="rotate(0.05 373.40 281.72)">ADAM23</text>
<line x1="374.60" y1="284.76" x2="376.60" y2="284.76" stroke="#666" stroke-width="0.7"/>
<text x="373.40" y="286.27" font-size="4.2" text-anchor="end" fill="#1a1a1a" stroke="#1a1a1a" stroke-width="0.06" transform="rotate(0.05 373.40 286.27)">IDS</text>
<line x1="374.60" y1="289.30" x2="376.60" y2="289.30" stroke="#666" stroke-width="0.7"/>
<text x="373.40" y="290.81" font-size="4.2" text-anchor="end" fill="#1a1a1a" stroke="#1a1a1a" stroke-width="0.06" transform="rotate(0.05 373.40 290.81)">sCD58</text>
<line x1="466.20" y1="175.70" x2="491.80" y2="175.70" stroke="#aabff2" stroke-width="1.0"/>
<circle cx="479.60" cy="175.70" r="1.15" fill="#3d66dc"/>
<line x1="458.10" y1="180.24" x2="474.90" y2="180.24" stroke="#3d66dc" stroke-width="1.0"/>
<circle cx="466.20" cy="180.24" r="1.15" fill="#3d66dc"/>
<line x1="457.10" y1="184.79" x2="473.00" y2="184.79" stroke="#aabff2" stroke-width="1.0"/>
<circle cx="465.00" cy="184.79" r="1.15" fill="#3d66dc"/>
<line x1="456.10" y1="189.33" x2="470.90" y2="189.33" stroke="#3d66dc" stroke-width="1.0"/>
<circle cx="463.10" cy="189.33" r="1.15" fill="#3d66dc"/>
<line x1="455.60" y1="193.88" x2="470.00" y2="193.88" stroke="#aabff2" stroke-width="1.0"/>
<circle cx="462.50" cy="193.88" r="1.15" fill="#3d66dc"/>
<line x1="455.10" y1="198.42" x2="469.10" y2="198.42" stroke="#3d66dc" stroke-width="1.0"/>
<circle cx="462.00" cy="198.42" r="1.15" fill="#3d66dc"/>
<line x1="455.00" y1="202.96" x2="468.70" y2="202.96" stroke="#aabff2" stroke-width="1.0"/>
<circle cx="461.40" cy="202.96" r="1.15" fill="#3d66dc"/>
<line x1="454.40" y1="207.51" x2="468.00" y2="207.51" stroke="#3d66dc" stroke-width="1.0"/>
<circle cx="461.00" cy="207.51" r="1.15" fill="#3d66dc"/>
<line x1="454.00" y1="212.05" x2="466.50" y2="212.05" stroke="#3d66dc" stroke-width="1.0"/>
<circle cx="460.00" cy="212.05" r="1.15" fill="#3d66dc"/>
<line x1="454.00" y1="216.60" x2="466.30" y2="216.60" stroke="#aabff2" stroke-width="1.0"/>
<circle cx="460.00" cy="216.60" r="1.15" fill="#3d66dc"/>
<line x1="454.00" y1="221.14" x2="466.00" y2="221.14" stroke="#3d66dc" stroke-width="1.0"/>
<circle cx="459.80" cy="221.14" r="1.15" fill="#3d66dc"/>
<line x1="453.30" y1="225.68" x2="465.00" y2="225.68" stroke="#aabff2" stroke-width="1.0"/>
<circle cx="459.00" cy="225.68" r="1.15" fill="#3d66dc"/>
<line x1="453.10" y1="230.23" x2="464.80" y2="230.23" stroke="#3d66dc" stroke-width="1.0"/>
<circle cx="458.60" cy="230.23" r="1.15" fill="#3d66dc"/>
<line x1="453.30" y1="234.77" x2="464.80" y2="234.77" stroke="#aabff2" stroke-width="1.0"/>
<circle cx="458.60" cy="234.77" r="1.15" fill="#3d66dc"/>
<line x1="452.30" y1="239.32" x2="463.80" y2="239.32" stroke="#3d66dc" stroke-width="1.0"/>
<circle cx="457.90" cy="239.32" r="1.15" fill="#3d66dc"/>
<line x1="452.30" y1="243.86" x2="463.50" y2="243.86" stroke="#aabff2" stroke-width="1.0"/>
<circle cx="457.60" cy="243.86" r="1.15" fill="#3d66dc"/>
<line x1="452.10" y1="248.40" x2="462.80" y2="248.40" stroke="#3d66dc" stroke-width="1.0"/>
<circle cx="457.10" cy="248.40" r="1.15" fill="#3d66dc"/>
<line x1="451.40" y1="252.95" x2="462.00" y2="252.95" stroke="#aabff2" stroke-width="1.0"/>
<circle cx="456.60" cy="252.95" r="1.15" fill="#3d66dc"/>
<line x1="451.00" y1="257.49" x2="460.80" y2="257.49" stroke="#3d66dc" stroke-width="1.0"/>
<circle cx="455.80" cy="257.49" r="1.15" fill="#3d66dc"/>
<line x1="450.10" y1="262.04" x2="459.00" y2="262.04" stroke="#3d66dc" stroke-width="1.0"/>
<circle cx="454.50" cy="262.04" r="1.15" fill="#3d66dc"/>
<line x1="450.00" y1="266.58" x2="458.50" y2="266.58" stroke="#3d66dc" stroke-width="1.0"/>
<circle cx="453.90" cy="266.58" r="1.15" fill="#3d66dc"/>
<line x1="449.60" y1="271.12" x2="457.80" y2="271.12" stroke="#3d66dc" stroke-width="1.0"/>
<circle cx="453.40" cy="271.12" r="1.15" fill="#3d66dc"/>
<line x1="413.00" y1="275.67" x2="426.80" y2="275.67" stroke="#aabff2" stroke-width="1.0"/>
<circle cx="419.80" cy="275.67" r="1.15" fill="#3d66dc"/>
<line x1="412.00" y1="280.21" x2="426.60" y2="280.21" stroke="#3d66dc" stroke-width="1.0"/>
<circle cx="419.30" cy="280.21" r="1.15" fill="#3d66dc"/>
<line x1="384.30" y1="284.76" x2="411.50" y2="284.76" stroke="#aabff2" stroke-width="1.0"/>
<circle cx="397.70" cy="284.76" r="1.15" fill="#3d66dc"/>
<line x1="382.30" y1="289.30" x2="410.30" y2="289.30" stroke="#3d66dc" stroke-width="1.0"/>
<circle cx="396.00" cy="289.30" r="1.15" fill="#3d66dc"/>
<line x1="381.50" y1="292.00" x2="381.50" y2="293.60" stroke="#777" stroke-width="0.7"/>
<text x="381.50" y="301.20" font-size="6.4" text-anchor="middle" fill="#1c1c1c" transform="rotate(0.05 381.50 301.20)">0.8</text>
<line x1="411.50" y1="292.00" x2="411.50" y2="293.60" stroke="#777" stroke-width="0.7"/>
<text x="411.50" y="301.20" font-size="6.4" text-anchor="middle" fill="#1c1c1c" transform="rotate(0.05 411.50 301.20)">0.9</text>
<line x1="441.50" y1="292.00" x2="441.50" y2="293.60" stroke="#777" stroke-width="0.7"/>
<text x="441.50" y="301.20" font-size="6.4" text-anchor="middle" fill="#1c1c1c" transform="rotate(0.05 441.50 301.20)">1.0</text>
<line x1="471.50" y1="292.00" x2="471.50" y2="293.60" stroke="#777" stroke-width="0.7"/>
<text x="471.50" y="301.20" font-size="6.4" text-anchor="middle" fill="#1c1c1c" transform="rotate(0.05 471.50 301.20)">1.1</text>
<text x="437.40" y="312.50" font-size="6.5" text-anchor="middle" fill="#1c1c1c" transform="rotate(0.05 437.40 312.50)">OR</text>
<rect x="558.20" y="173.70" width="117.80" height="117.10" fill="none" stroke="#9a9a9a" stroke-width="0.8"/>
<line x1="558.20" y1="173.70" x2="558.20" y2="290.80" stroke="#777" stroke-width="0.8"/>
<line x1="558.20" y1="290.80" x2="676.00" y2="290.80" stroke="#777" stroke-width="0.8"/>
<line x1="634.50" y1="176.50" x2="634.50" y2="290.80" stroke="#6a6a6a" stroke-width="0.9" stroke-dasharray="3.9 2.04"/>
<line x1="556.20" y1="176.50" x2="558.20" y2="176.50" stroke="#666" stroke-width="0.7"/>
<text x="555.00" y="177.94" font-size="4.0" text-anchor="end" fill="#1a1a1a" stroke="#1a1a1a" stroke-width="0.06" transform="rotate(0.05 555.00 177.94)">CTSO</text>
<line x1="556.20" y1="180.51" x2="558.20" y2="180.51" stroke="#666" stroke-width="0.7"/>
<text x="555.00" y="181.95" font-size="4.0" text-anchor="end" fill="#1a1a1a" stroke="#1a1a1a" stroke-width="0.06" transform="rotate(0.05 555.00 181.95)">Neuro_Psych comorbidity</text>
<line x1="556.20" y1="184.52" x2="558.20" y2="184.52" stroke="#666" stroke-width="0.7"/>
<text x="555.00" y="185.96" font-size="4.0" text-anchor="end" fill="#1a1a1a" stroke="#1a1a1a" stroke-width="0.06" transform="rotate(0.05 555.00 185.96)">NFASC</text>
<line x1="556.20" y1="188.54" x2="558.20" y2="188.54" stroke="#666" stroke-width="0.7"/>
<text x="555.00" y="189.98" font-size="4.0" text-anchor="end" fill="#1a1a1a" stroke="#1a1a1a" stroke-width="0.06" transform="rotate(0.05 555.00 189.98)">C1QA</text>
<line x1="556.20" y1="192.55" x2="558.20" y2="192.55" stroke="#666" stroke-width="0.7"/>
<text x="555.00" y="193.99" font-size="4.0" text-anchor="end" fill="#1a1a1a" stroke="#1a1a1a" stroke-width="0.06" transform="rotate(0.05 555.00 193.99)">DPP10</text>
<line x1="556.20" y1="196.56" x2="558.20" y2="196.56" stroke="#666" stroke-width="0.7"/>
<text x="555.00" y="198.00" font-size="4.0" text-anchor="end" fill="#1a1a1a" stroke="#1a1a1a" stroke-width="0.06" transform="rotate(0.05 555.00 198.00)">CD4</text>
<line x1="556.20" y1="200.57" x2="558.20" y2="200.57" stroke="#666" stroke-width="0.7"/>
<text x="555.00" y="202.01" font-size="4.0" text-anchor="end" fill="#1a1a1a" stroke="#1a1a1a" stroke-width="0.06" transform="rotate(0.05 555.00 202.01)">LIFR</text>
<line x1="556.20" y1="204.58" x2="558.20" y2="204.58" stroke="#666" stroke-width="0.7"/>
<text x="555.00" y="206.02" font-size="4.0" text-anchor="end" fill="#1a1a1a" stroke="#1a1a1a" stroke-width="0.06" transform="rotate(0.05 555.00 206.02)">TNFRSF1B</text>
<line x1="556.20" y1="208.60" x2="558.20" y2="208.60" stroke="#666" stroke-width="0.7"/>
<text x="555.00" y="210.04" font-size="4.0" text-anchor="end" fill="#1a1a1a" stroke="#1a1a1a" stroke-width="0.06" transform="rotate(0.05 555.00 210.04)">Female</text>
<line x1="556.20" y1="212.61" x2="558.20" y2="212.61" stroke="#666" stroke-width="0.7"/>
<text x="555.00" y="214.05" font-size="4.0" text-anchor="end" fill="#1a1a1a" stroke="#1a1a1a" stroke-width="0.06" transform="rotate(0.05 555.00 214.05)">LGALS4</text>
<line x1="556.20" y1="216.62" x2="558.20" y2="216.62" stroke="#666" stroke-width="0.7"/>
<text x="555.00" y="218.06" font-size="4.0" text-anchor="end" fill="#1a1a1a" stroke="#1a1a1a" stroke-width="0.06" transform="rotate(0.05 555.00 218.06)">MATN2</text>
<line x1="556.20" y1="220.63" x2="558.20" y2="220.63" stroke="#666" stroke-width="0.7"/>
<text x="555.00" y="222.07" font-size="4.0" text-anchor="end" fill="#1a1a1a" stroke="#1a1a1a" stroke-width="0.06" transform="rotate(0.05 555.00 222.07)">CXADR</text>
<line x1="556.20" y1="224.64" x2="558.20" y2="224.64" stroke="#666" stroke-width="0.7"/>
<text x="555.00" y="226.08" font-size="4.0" text-anchor="end" fill="#1a1a1a" stroke="#1a1a1a" stroke-width="0.06" transform="rotate(0.05 555.00 226.08)">COLEC12</text>
<line x1="556.20" y1="228.66" x2="558.20" y2="228.66" stroke="#666" stroke-width="0.7"/>
<text x="555.00" y="230.10" font-size="4.0" text-anchor="end" fill="#1a1a1a" stroke="#1a1a1a" stroke-width="0.06" transform="rotate(0.05 555.00 230.10)">SPON1</text>
<line x1="556.20" y1="232.67" x2="558.20" y2="232.67" stroke="#666" stroke-width="0.7"/>
<text x="555.00" y="234.11" font-size="4.0" text-anchor="end" fill="#1a1a1a" stroke="#1a1a1a" stroke-width="0.06" transform="rotate(0.05 555.00 234.11)">CCL11</text>
<line x1="556.20" y1="236.68" x2="558.20" y2="236.68" stroke="#666" stroke-width="0.7"/>
<text x="555.00" y="238.12" font-size="4.0" text-anchor="end" fill="#1a1a1a" stroke="#1a1a1a" stroke-width="0.06" transform="rotate(0.05 555.00 238.12)">CLEC4C</text>
<line x1="556.20" y1="240.69" x2="558.20" y2="240.69" stroke="#666" stroke-width="0.7"/>
<text x="555.00" y="242.13" font-size="4.0" text-anchor="end" fill="#1a1a1a" stroke="#1a1a1a" stroke-width="0.06" transform="rotate(0.05 555.00 242.13)">PAPPA</text>
<line x1="556.20" y1="244.70" x2="558.20" y2="244.70" stroke="#666" stroke-width="0.7"/>
<text x="555.00" y="246.14" font-size="4.0" text-anchor="end" fill="#1a1a1a" stroke="#1a1a1a" stroke-width="0.06" transform="rotate(0.05 555.00 246.14)">PGF</text>
<line x1="556.20" y1="248.72" x2="558.20" y2="248.72" stroke="#666" stroke-width="0.7"/>
<text x="555.00" y="250.16" font-size="4.0" text-anchor="end" fill="#1a1a1a" stroke="#1a1a1a" stroke-width="0.06" transform="rotate(0.05 555.00 250.16)">IL17A</text>
<line x1="556.20" y1="252.73" x2="558.20" y2="252.73" stroke="#666" stroke-width="0.7"/>
<text x="555.00" y="254.17" font-size="4.0" text-anchor="end" fill="#1a1a1a" stroke="#1a1a1a" stroke-width="0.06" transform="rotate(0.05 555.00 254.17)">TNF</text>
<line x1="556.20" y1="256.74" x2="558.20" y2="256.74" stroke="#666" stroke-width="0.7"/>
<text x="555.00" y="258.18" font-size="4.0" text-anchor="end" fill="#1a1a1a" stroke="#1a1a1a" stroke-width="0.06" transform="rotate(0.05 555.00 258.18)">CCL7</text>
<line x1="556.20" y1="260.75" x2="558.20" y2="260.75" stroke="#666" stroke-width="0.7"/>
<text x="555.00" y="262.19" font-size="4.0" text-anchor="end" fill="#1a1a1a" stroke="#1a1a1a" stroke-width="0.06" transform="rotate(0.05 555.00 262.19)">MEPE</text>
<line x1="556.20" y1="264.76" x2="558.20" y2="264.76" stroke="#666" stroke-width="0.7"/>
<text x="555.00" y="266.20" font-size="4.0" text-anchor="end" fill="#1a1a1a" stroke="#1a1a1a" stroke-width="0.06" transform="rotate(0.05 555.00 266.20)">MEGF10</text>
<line x1="556.20" y1="268.78" x2="558.20" y2="268.78" stroke="#666" stroke-width="0.7"/>
<text x="555.00" y="270.22" font-size="4.0" text-anchor="end" fill="#1a1a1a" stroke="#1a1a1a" stroke-width="0.06" transform="rotate(0.05 555.00 270.22)">IL2</text>
<line x1="556.20" y1="272.79" x2="558.20" y2="272.79" stroke="#666" stroke-width="0.7"/>
<text x="555.00" y="274.23" font-size="4.0" text-anchor="end" fill="#1a1a1a" stroke="#1a1a1a" stroke-width="0.06" transform="rotate(0.05 555.00 274.23)">IDS</text>
<line x1="556.20" y1="276.80" x2="558.20" y2="276.80" stroke="#666" stroke-width="0.7"/>
<text x="555.00" y="278.24" font-size="4.0" text-anchor="end" fill="#1a1a1a" stroke="#1a1a1a" stroke-width="0.06" transform="rotate(0.05 555.00 278.24)">LRRN1</text>
<line x1="556.20" y1="280.81" x2="558.20" y2="280.81" stroke="#666" stroke-width="0.7"/>
<text x="555.00" y="282.25" font-size="4.0" text-anchor="end" fill="#1a1a1a" stroke="#1a1a1a" stroke-width="0.06" transform="rotate(0.05 555.00 282.25)">CRLF1</text>
<line x1="556.20" y1="284.82" x2="558.20" y2="284.82" stroke="#666" stroke-width="0.7"/>
<text x="555.00" y="286.26" font-size="4.0" text-anchor="end" fill="#1a1a1a" stroke="#1a1a1a" stroke-width="0.06" transform="rotate(0.05 555.00 286.26)">DNER</text>
<line x1="556.20" y1="288.84" x2="558.20" y2="288.84" stroke="#666" stroke-width="0.7"/>
<text x="555.00" y="290.28" font-size="4.0" text-anchor="end" fill="#1a1a1a" stroke="#1a1a1a" stroke-width="0.06" transform="rotate(0.05 555.00 290.28)">CD58</text>
<line x1="648.50" y1="176.50" x2="670.80" y2="176.50" stroke="#23939a" stroke-width="1.2"/>
<circle cx="659.50" cy="176.50" r="1.15" fill="#23939a"/>
<line x1="647.90" y1="180.51" x2="669.50" y2="180.51" stroke="#23939a" stroke-width="1.2"/>
<circle cx="658.50" cy="180.51" r="1.15" fill="#23939a"/>
<line x1="647.70" y1="184.52" x2="668.60" y2="184.52" stroke="#23939a" stroke-width="1.2"/>
<circle cx="657.80" cy="184.52" r="1.15" fill="#23939a"/>
<line x1="647.20" y1="188.54" x2="667.70" y2="188.54" stroke="#23939a" stroke-width="1.2"/>
<circle cx="657.10" cy="188.54" r="1.15" fill="#23939a"/>
<line x1="647.00" y1="192.55" x2="667.00" y2="192.55" stroke="#23939a" stroke-width="1.2"/>
<circle cx="656.90" cy="192.55" r="1.15" fill="#23939a"/>
<line x1="646.50" y1="196.56" x2="666.00" y2="196.56" stroke="#23939a" stroke-width="1.2"/>
<circle cx="656.50" cy="196.56" r="1.15" fill="#23939a"/>
<line x1="645.50" y1="200.57" x2="663.00" y2="200.57" stroke="#23939a" stroke-width="1.2"/>
<circle cx="654.00" cy="200.57" r="1.15" fill="#23939a"/>
<line x1="644.90" y1="204.58" x2="661.20" y2="204.58" stroke="#23939a" stroke-width="1.2"/>
<circle cx="653.00" cy="204.58" r="1.15" fill="#23939a"/>
<line x1="644.90" y1="208.60" x2="661.00" y2="208.60" stroke="#23939a" stroke-width="1.2"/>
<circle cx="653.00" cy="208.60" r="1.15" fill="#23939a"/>
<line x1="644.20" y1="212.61" x2="659.50" y2="212.61" stroke="#23939a" stroke-width="1.2"/>
<circle cx="651.80" cy="212.61" r="1.15" fill="#23939a"/>
<line x1="643.50" y1="216.62" x2="657.80" y2="216.62" stroke="#23939a" stroke-width="1.2"/>
<circle cx="650.60" cy="216.62" r="1.15" fill="#23939a"/>
<line x1="643.50" y1="220.63" x2="657.80" y2="220.63" stroke="#23939a" stroke-width="1.2"/>
<circle cx="650.40" cy="220.63" r="1.15" fill="#23939a"/>
<line x1="642.90" y1="224.64" x2="656.00" y2="224.64" stroke="#23939a" stroke-width="1.2"/>
<circle cx="649.40" cy="224.64" r="1.15" fill="#23939a"/>
<line x1="643.00" y1="228.66" x2="655.80" y2="228.66" stroke="#23939a" stroke-width="1.2"/>
<circle cx="649.40" cy="228.66" r="1.15" fill="#23939a"/>
<line x1="643.00" y1="232.67" x2="655.80" y2="232.67" stroke="#23939a" stroke-width="1.2"/>
<circle cx="649.20" cy="232.67" r="1.15" fill="#23939a"/>
<line x1="642.70" y1="236.68" x2="655.20" y2="236.68" stroke="#23939a" stroke-width="1.2"/>
<circle cx="648.80" cy="236.68" r="1.15" fill="#23939a"/>
<line x1="642.50" y1="240.69" x2="655.00" y2="240.69" stroke="#23939a" stroke-width="1.2"/>
<circle cx="648.60" cy="240.69" r="1.15" fill="#23939a"/>
<line x1="642.00" y1="244.70" x2="653.80" y2="244.70" stroke="#23939a" stroke-width="1.2"/>
<circle cx="648.00" cy="244.70" r="1.15" fill="#23939a"/>
<line x1="641.80" y1="248.72" x2="653.50" y2="248.72" stroke="#23939a" stroke-width="1.2"/>
<circle cx="647.80" cy="248.72" r="1.15" fill="#23939a"/>
<line x1="641.20" y1="252.73" x2="651.90" y2="252.73" stroke="#23939a" stroke-width="1.2"/>
<circle cx="646.50" cy="252.73" r="1.15" fill="#23939a"/>
<line x1="641.00" y1="256.74" x2="651.70" y2="256.74" stroke="#23939a" stroke-width="1.2"/>
<circle cx="646.30" cy="256.74" r="1.15" fill="#23939a"/>
<line x1="609.60" y1="260.75" x2="624.80" y2="260.75" stroke="#23939a" stroke-width="1.2"/>
<circle cx="617.10" cy="260.75" r="1.15" fill="#23939a"/>
<line x1="609.30" y1="264.76" x2="624.80" y2="264.76" stroke="#23939a" stroke-width="1.2"/>
<circle cx="617.00" cy="264.76" r="1.15" fill="#23939a"/>
<line x1="603.20" y1="268.78" x2="622.00" y2="268.78" stroke="#23939a" stroke-width="1.2"/>
<circle cx="612.60" cy="268.78" r="1.15" fill="#23939a"/>
<line x1="603.00" y1="272.79" x2="621.90" y2="272.79" stroke="#23939a" stroke-width="1.2"/>
<circle cx="612.40" cy="272.79" r="1.15" fill="#23939a"/>
<line x1="602.80" y1="276.80" x2="621.90" y2="276.80" stroke="#23939a" stroke-width="1.2"/>
<circle cx="612.00" cy="276.80" r="1.15" fill="#23939a"/>
<line x1="602.50" y1="280.81" x2="621.90" y2="280.81" stroke="#23939a" stroke-width="1.2"/>
<circle cx="612.00" cy="280.81" r="1.15" fill="#23939a"/>
<line x1="590.10" y1="284.82" x2="616.90" y2="284.82" stroke="#23939a" stroke-width="1.2"/>
<circle cx="603.20" cy="284.82" r="1.15" fill="#23939a"/>
<line x1="564.00" y1="288.84" x2="606.00" y2="288.84" stroke="#23939a" stroke-width="1.2"/>
<circle cx="584.60" cy="288.84" r="1.15" fill="#23939a"/>
<line x1="565.60" y1="290.80" x2="565.60" y2="292.40" stroke="#777" stroke-width="0.7"/>
<text x="565.60" y="301.60" font-size="6.4" text-anchor="middle" fill="#1c1c1c" transform="rotate(0.05 565.60 301.60)">0.90</text>
<line x1="600.60" y1="290.80" x2="600.60" y2="292.40" stroke="#777" stroke-width="0.7"/>
<text x="600.60" y="301.60" font-size="6.4" text-anchor="middle" fill="#1c1c1c" transform="rotate(0.05 600.60 301.60)">0.95</text>
<line x1="634.50" y1="290.80" x2="634.50" y2="292.40" stroke="#777" stroke-width="0.7"/>
<text x="634.50" y="301.60" font-size="6.4" text-anchor="middle" fill="#1c1c1c" transform="rotate(0.05 634.50 301.60)">1.00</text>
<line x1="669.20" y1="290.80" x2="669.20" y2="292.40" stroke="#777" stroke-width="0.7"/>
<text x="669.20" y="301.60" font-size="6.4" text-anchor="middle" fill="#1c1c1c" transform="rotate(0.05 669.20 301.60)">1.05</text>
<text x="617.30" y="312.80" font-size="6.5" text-anchor="middle" fill="#1c1c1c" transform="rotate(0.05 617.30 312.80)">OR</text>
<line x1="22.80" y1="331.70" x2="22.80" y2="396.80" stroke="#777" stroke-width="0.8"/>
<line x1="22.80" y1="396.80" x2="103.60" y2="396.80" stroke="#777" stroke-width="0.8"/>
<line x1="21.20" y1="336.50" x2="22.80" y2="336.50" stroke="#777" stroke-width="0.6"/>
<text x="13.83" y="338.66" font-size="6" text-anchor="end" fill="#1c1c1c" transform="rotate(0.05 13.83 338.66)">2</text>
<text x="19.00" y="335.66" font-size="3.72" text-anchor="end" fill="#1c1c1c" transform="rotate(0.05 19.00 335.66)">2.5</text>
<line x1="21.20" y1="351.60" x2="22.80" y2="351.60" stroke="#777" stroke-width="0.6"/>
<text x="13.83" y="353.76" font-size="6" text-anchor="end" fill="#1c1c1c" transform="rotate(0.05 13.83 353.76)">2</text>
<text x="19.00" y="350.76" font-size="3.72" text-anchor="end" fill="#1c1c1c" transform="rotate(0.05 19.00 350.76)">2.0</text>
<line x1="21.20" y1="367.20" x2="22.80" y2="367.20" stroke="#777" stroke-width="0.6"/>
<text x="13.83" y="369.36" font-size="6" text-anchor="end" fill="#1c1c1c" transform="rotate(0.05 13.83 369.36)">2</text>
<text x="19.00" y="366.36" font-size="3.72" text-anchor="end" fill="#1c1c1c" transform="rotate(0.05 19.00 366.36)">1.5</text>
<line x1="21.20" y1="382.20" x2="22.80" y2="382.20" stroke="#777" stroke-width="0.6"/>
<text x="13.83" y="384.36" font-size="6" text-anchor="end" fill="#1c1c1c" transform="rotate(0.05 13.83 384.36)">2</text>
<text x="19.00" y="381.36" font-size="3.72" text-anchor="end" fill="#1c1c1c" transform="rotate(0.05 19.00 381.36)">1.0</text>
<text x="0" y="0" font-size="5.1" text-anchor="middle" fill="#1c1c1c" transform="translate(5.20,366.70) rotate(-90)">IL-1R2 (NPX)</text>
<g fill="#4f4f4f" fill-opacity="0.95"><circle cx="51.3" cy="368.8" r="0.68"/><circle cx="45.1" cy="378.9" r="0.68"/><circle cx="41.3" cy="368.1" r="0.68"/><circle cx="45.7" cy="376.6" r="0.68"/><circle cx="40.1" cy="368.9" r="0.68"/><circle cx="42.9" cy="368.3" r="0.68"/><circle cx="48.2" cy="384.8" r="0.68"/><circle cx="39.4" cy="382.0" r="0.68"/><circle cx="47.6" cy="390.1" r="0.68"/><circle cx="47.1" cy="375.1" r="0.68"/><circle cx="45.9" cy="377.5" r="0.68"/><circle cx="39.6" cy="377.7" r="0.68"/><circle cx="39.2" cy="378.4" r="0.68"/><circle cx="45.1" cy="380.5" r="0.68"/><circle cx="45.8" cy="365.0" r="0.68"/><circle cx="47.4" cy="380.6" r="0.68"/><circle cx="45.0" cy="367.1" r="0.68"/><circle cx="42.6" cy="377.0" r="0.68"/><circle cx="50.1" cy="393.8" r="0.68"/><circle cx="48.4" cy="376.7" r="0.68"/><circle cx="42.7" cy="375.1" r="0.68"/><circle cx="39.7" cy="380.4" r="0.68"/><circle cx="50.2" cy="377.5" r="0.68"/><circle cx="44.0" cy="370.3" r="0.68"/><circle cx="38.8" cy="386.5" r="0.68"/><circle cx="41.6" cy="373.6" r="0.68"/><circle cx="52.0" cy="381.9" r="0.68"/><circle cx="44.2" cy="373.0" r="0.68"/><circle cx="49.3" cy="383.4" r="0.68"/><circle cx="42.4" cy="380.2" r="0.68"/><circle cx="51.8" cy="380.9" r="0.68"/><circle cx="49.0" cy="379.4" r="0.68"/><circle cx="40.2" cy="379.8" r="0.68"/><circle cx="39.6" cy="379.6" r="0.68"/><circle cx="46.4" cy="377.9" r="0.68"/><circle cx="44.8" cy="373.0" r="0.68"/><circle cx="40.6" cy="380.0" r="0.68"/><circle cx="47.5" cy="384.7" r="0.68"/><circle cx="41.7" cy="381.0" r="0.68"/><circle cx="42.4" cy="380.6" r="0.68"/><circle cx="42.9" cy="386.0" r="0.68"/><circle cx="50.7" cy="374.8" r="0.68"/><circle cx="50.3" cy="378.2" r="0.68"/><circle cx="47.5" cy="382.0" r="0.68"/><circle cx="41.7" cy="389.4" r="0.68"/><circle cx="42.3" cy="386.1" r="0.68"/><circle cx="42.8" cy="377.6" r="0.68"/><circle cx="39.8" cy="371.1" r="0.68"/><circle cx="42.1" cy="382.7" r="0.68"/><circle cx="46.9" cy="380.6" r="0.68"/><circle cx="51.7" cy="371.9" r="0.68"/><circle cx="45.3" cy="381.0" r="0.68"/><circle cx="41.3" cy="365.0" r="0.68"/><circle cx="40.9" cy="370.9" r="0.68"/><circle cx="42.2" cy="384.9" r="0.68"/><circle cx="41.4" cy="370.3" r="0.68"/><circle cx="41.5" cy="375.9" r="0.68"/><circle cx="51.6" cy="361.1" r="0.68"/><circle cx="44.5" cy="382.1" r="0.68"/><circle cx="40.2" cy="370.9" r="0.68"/><circle cx="42.0" cy="389.7" r="0.68"/><circle cx="48.3" cy="380.1" r="0.68"/><circle cx="46.9" cy="376.5" r="0.68"/><circle cx="42.8" cy="386.5" r="0.68"/><circle cx="39.7" cy="380.7" r="0.68"/><circle cx="41.9" cy="384.3" r="0.68"/><circle cx="47.1" cy="364.8" r="0.68"/><circle cx="42.6" cy="372.2" r="0.68"/><circle cx="39.0" cy="380.0" r="0.68"/><circle cx="42.4" cy="374.8" r="0.68"/><circle cx="41.2" cy="374.8" r="0.68"/><circle cx="43.8" cy="377.6" r="0.68"/><circle cx="43.7" cy="373.8" r="0.68"/><circle cx="50.8" cy="375.4" r="0.68"/><circle cx="48.1" cy="384.4" r="0.68"/><circle cx="46.7" cy="375.8" r="0.68"/><circle cx="39.0" cy="377.9" r="0.68"/><circle cx="51.1" cy="378.1" r="0.68"/><circle cx="39.1" cy="371.8" r="0.68"/><circle cx="47.4" cy="360.6" r="0.68"/><circle cx="43.1" cy="366.2" r="0.68"/><circle cx="52.3" cy="377.9" r="0.68"/><circle cx="48.7" cy="382.7" r="0.68"/><circle cx="51.0" cy="379.9" r="0.68"/><circle cx="49.5" cy="376.2" r="0.68"/><circle cx="51.2" cy="366.6" r="0.68"/><circle cx="51.0" cy="370.9" r="0.68"/><circle cx="50.6" cy="383.2" r="0.68"/><circle cx="50.5" cy="366.7" r="0.68"/><circle cx="46.5" cy="381.5" r="0.68"/><circle cx="46.7" cy="372.3" r="0.68"/><circle cx="47.0" cy="372.4" r="0.68"/><circle cx="52.2" cy="383.4" r="0.68"/><circle cx="50.7" cy="380.5" r="0.68"/><circle cx="48.7" cy="376.1" r="0.68"/><circle cx="46.6" cy="370.4" r="0.68"/><circle cx="39.9" cy="365.1" r="0.68"/><circle cx="48.9" cy="380.6" r="0.68"/><circle cx="45.3" cy="383.8" r="0.68"/><circle cx="41.9" cy="378.3" r="0.68"/><circle cx="47.1" cy="374.5" r="0.68"/><circle cx="51.2" cy="369.6" r="0.68"/><circle cx="42.9" cy="377.0" r="0.68"/><circle cx="48.0" cy="377.8" r="0.68"/><circle cx="51.0" cy="377.9" r="0.68"/><circle cx="47.7" cy="380.0" r="0.68"/><circle cx="43.2" cy="363.8" r="0.68"/><circle cx="47.8" cy="380.8" r="0.68"/><circle cx="49.7" cy="378.7" r="0.68"/><circle cx="51.1" cy="382.1" r="0.68"/><circle cx="46.7" cy="380.7" r="0.68"/><circle cx="43.1" cy="372.5" r="0.68"/><circle cx="50.1" cy="380.9" r="0.68"/><circle cx="50.3" cy="381.5" r="0.68"/><circle cx="42.5" cy="373.0" r="0.68"/><circle cx="41.1" cy="361.1" r="0.68"/><circle cx="41.7" cy="371.9" r="0.68"/><circle cx="44.4" cy="378.2" r="0.68"/><circle cx="43.1" cy="371.5" r="0.68"/><circle cx="50.1" cy="371.4" r="0.68"/><circle cx="39.8" cy="382.6" r="0.68"/><circle cx="39.2" cy="376.2" r="0.68"/><circle cx="48.4" cy="378.0" r="0.68"/><circle cx="46.5" cy="375.6" r="0.68"/><circle cx="39.1" cy="372.7" r="0.68"/><circle cx="40.6" cy="385.4" r="0.68"/><circle cx="50.0" cy="375.6" r="0.68"/><circle cx="42.0" cy="377.3" r="0.68"/><circle cx="47.3" cy="378.0" r="0.68"/><circle cx="44.8" cy="378.2" r="0.68"/><circle cx="49.7" cy="370.3" r="0.68"/><circle cx="51.7" cy="369.9" r="0.68"/><circle cx="45.2" cy="375.2" r="0.68"/><circle cx="41.2" cy="372.9" r="0.68"/><circle cx="48.4" cy="382.8" r="0.68"/><circle cx="41.2" cy="377.4" r="0.68"/><circle cx="48.2" cy="376.1" r="0.68"/><circle cx="45.8" cy="381.7" r="0.68"/><circle cx="44.1" cy="368.5" r="0.68"/><circle cx="49.5" cy="369.6" r="0.68"/><circle cx="51.4" cy="378.8" r="0.68"/><circle cx="48.6" cy="375.4" r="0.68"/><circle cx="47.2" cy="380.8" r="0.68"/><circle cx="51.1" cy="381.1" r="0.68"/><circle cx="50.7" cy="370.8" r="0.68"/><circle cx="49.6" cy="381.6" r="0.68"/><circle cx="47.6" cy="382.3" r="0.68"/><circle cx="41.6" cy="374.4" r="0.68"/><circle cx="47.5" cy="374.8" r="0.68"/><circle cx="48.5" cy="364.8" r="0.68"/><circle cx="52.0" cy="379.5" r="0.68"/><circle cx="52.0" cy="387.7" r="0.68"/><circle cx="43.1" cy="365.5" r="0.68"/><circle cx="51.1" cy="374.3" r="0.68"/><circle cx="39.9" cy="379.9" r="0.68"/><circle cx="44.8" cy="372.1" r="0.68"/><circle cx="45.4" cy="366.1" r="0.68"/><circle cx="39.2" cy="373.4" r="0.68"/><circle cx="49.6" cy="377.7" r="0.68"/><circle cx="41.1" cy="374.7" r="0.68"/><circle cx="40.7" cy="371.0" r="0.68"/><circle cx="40.8" cy="384.7" r="0.68"/><circle cx="50.1" cy="366.3" r="0.68"/><circle cx="48.1" cy="375.9" r="0.68"/><circle cx="51.6" cy="382.6" r="0.68"/><circle cx="40.0" cy="374.4" r="0.68"/><circle cx="42.7" cy="378.1" r="0.68"/><circle cx="48.6" cy="383.1" r="0.68"/><circle cx="50.2" cy="371.8" r="0.68"/><circle cx="46.4" cy="370.8" r="0.68"/><circle cx="50.2" cy="374.5" r="0.68"/><circle cx="51.0" cy="381.6" r="0.68"/><circle cx="51.9" cy="379.6" r="0.68"/><circle cx="45.9" cy="386.6" r="0.68"/><circle cx="46.0" cy="373.0" r="0.68"/><circle cx="45.6" cy="375.0" r="0.68"/><circle cx="51.9" cy="375.7" r="0.68"/><circle cx="45.8" cy="376.0" r="0.68"/><circle cx="46.4" cy="367.2" r="0.68"/><circle cx="45.4" cy="382.4" r="0.68"/><circle cx="46.1" cy="376.1" r="0.68"/><circle cx="44.4" cy="374.7" r="0.68"/><circle cx="42.4" cy="388.1" r="0.68"/><circle cx="45.2" cy="372.9" r="0.68"/><circle cx="49.8" cy="380.8" r="0.68"/><circle cx="51.0" cy="380.9" r="0.68"/><circle cx="41.4" cy="371.2" r="0.68"/><circle cx="47.1" cy="377.7" r="0.68"/><circle cx="49.3" cy="379.4" r="0.68"/><circle cx="39.1" cy="375.4" r="0.68"/><circle cx="48.1" cy="378.3" r="0.68"/><circle cx="43.1" cy="380.4" r="0.68"/><circle cx="40.2" cy="371.3" r="0.68"/><circle cx="48.7" cy="382.6" r="0.68"/><circle cx="42.2" cy="381.4" r="0.68"/><circle cx="41.5" cy="381.2" r="0.68"/><circle cx="43.9" cy="370.0" r="0.68"/><circle cx="44.4" cy="375.6" r="0.68"/><circle cx="41.6" cy="373.1" r="0.68"/><circle cx="47.3" cy="376.3" r="0.68"/><circle cx="50.3" cy="371.7" r="0.68"/><circle cx="47.1" cy="370.7" r="0.68"/><circle cx="48.8" cy="379.3" r="0.68"/><circle cx="49.7" cy="373.2" r="0.68"/><circle cx="43.1" cy="380.6" r="0.68"/><circle cx="51.3" cy="373.6" r="0.68"/><circle cx="50.8" cy="380.6" r="0.68"/><circle cx="48.6" cy="379.5" r="0.68"/><circle cx="42.3" cy="379.8" r="0.68"/><circle cx="44.5" cy="384.9" r="0.68"/><circle cx="49.5" cy="382.5" r="0.68"/><circle cx="48.1" cy="380.6" r="0.68"/><circle cx="39.0" cy="380.7" r="0.68"/><circle cx="51.1" cy="379.3" r="0.68"/><circle cx="51.9" cy="384.4" r="0.68"/><circle cx="49.0" cy="381.5" r="0.68"/><circle cx="45.6" cy="381.0" r="0.68"/><circle cx="39.8" cy="375.3" r="0.68"/><circle cx="40.2" cy="373.0" r="0.68"/><circle cx="45.8" cy="383.3" r="0.68"/><circle cx="46.5" cy="378.5" r="0.68"/><circle cx="41.6" cy="379.0" r="0.68"/><circle cx="50.1" cy="379.6" r="0.68"/><circle cx="40.1" cy="388.6" r="0.68"/><circle cx="39.6" cy="376.1" r="0.68"/><circle cx="49.1" cy="382.4" r="0.68"/><circle cx="43.2" cy="374.8" r="0.68"/><circle cx="44.6" cy="369.1" r="0.68"/><circle cx="46.9" cy="378.3" r="0.68"/><circle cx="48.3" cy="354.5" r="0.68"/><circle cx="41.2" cy="393.4" r="0.68"/><circle cx="48.8" cy="358.6" r="0.68"/><circle cx="41.4" cy="390.2" r="0.68"/></g>
<line x1="45.55" y1="373.10" x2="45.55" y2="361.55" stroke="#9a9a9a" stroke-width="0.6"/>
<line x1="45.55" y1="380.80" x2="45.55" y2="392.35" stroke="#9a9a9a" stroke-width="0.6"/>
<rect x="31.20" y="373.10" width="28.70" height="7.70" fill="none" stroke="#a0a0a0" stroke-width="0.85"/>
<line x1="31.20" y1="377.00" x2="59.90" y2="377.00" stroke="#4a4a4a" stroke-width="1.0"/>
<g fill="#d0432e" fill-opacity="0.95"><circle cx="76.8" cy="380.7" r="0.68"/><circle cx="88.4" cy="383.9" r="0.68"/><circle cx="88.0" cy="379.8" r="0.68"/><circle cx="84.9" cy="363.7" r="0.68"/><circle cx="83.3" cy="366.7" r="0.68"/><circle cx="89.6" cy="381.9" r="0.68"/><circle cx="88.6" cy="378.0" r="0.68"/><circle cx="86.4" cy="370.0" r="0.68"/><circle cx="82.0" cy="378.5" r="0.68"/><circle cx="88.4" cy="361.0" r="0.68"/><circle cx="86.7" cy="384.6" r="0.68"/><circle cx="86.7" cy="367.2" r="0.68"/><circle cx="77.5" cy="365.0" r="0.68"/><circle cx="81.1" cy="382.9" r="0.68"/><circle cx="81.3" cy="374.8" r="0.68"/><circle cx="85.0" cy="376.2" r="0.68"/><circle cx="89.1" cy="371.7" r="0.68"/><circle cx="85.4" cy="371.8" r="0.68"/><circle cx="84.1" cy="369.6" r="0.68"/><circle cx="83.6" cy="385.6" r="0.68"/><circle cx="85.1" cy="348.8" r="0.68"/><circle cx="89.5" cy="371.8" r="0.68"/><circle cx="76.9" cy="362.6" r="0.68"/><circle cx="80.0" cy="365.8" r="0.68"/><circle cx="81.9" cy="367.0" r="0.68"/><circle cx="81.6" cy="380.8" r="0.68"/><circle cx="77.9" cy="377.6" r="0.68"/><circle cx="83.9" cy="375.9" r="0.68"/><circle cx="83.3" cy="392.7" r="0.68"/><circle cx="89.7" cy="385.8" r="0.68"/><circle cx="85.0" cy="373.8" r="0.68"/><circle cx="84.5" cy="377.1" r="0.68"/><circle cx="86.6" cy="372.9" r="0.68"/><circle cx="78.7" cy="393.1" r="0.68"/><circle cx="82.8" cy="381.0" r="0.68"/><circle cx="84.7" cy="380.4" r="0.68"/><circle cx="77.4" cy="383.9" r="0.68"/><circle cx="83.6" cy="383.6" r="0.68"/><circle cx="84.5" cy="373.1" r="0.68"/><circle cx="85.2" cy="371.5" r="0.68"/><circle cx="84.0" cy="380.7" r="0.68"/><circle cx="80.5" cy="373.2" r="0.68"/><circle cx="76.8" cy="388.0" r="0.68"/><circle cx="78.7" cy="376.1" r="0.68"/><circle cx="86.6" cy="378.3" r="0.68"/><circle cx="86.5" cy="362.4" r="0.68"/><circle cx="77.3" cy="386.5" r="0.68"/><circle cx="77.6" cy="374.6" r="0.68"/><circle cx="82.9" cy="382.8" r="0.68"/><circle cx="89.4" cy="371.1" r="0.68"/><circle cx="89.0" cy="376.4" r="0.68"/><circle cx="86.1" cy="385.4" r="0.68"/><circle cx="87.4" cy="353.4" r="0.68"/><circle cx="84.6" cy="380.2" r="0.68"/><circle cx="82.6" cy="384.1" r="0.68"/><circle cx="79.3" cy="383.1" r="0.68"/><circle cx="78.2" cy="384.9" r="0.68"/><circle cx="82.4" cy="379.0" r="0.68"/><circle cx="80.1" cy="371.5" r="0.68"/><circle cx="84.3" cy="368.0" r="0.68"/><circle cx="83.6" cy="363.4" r="0.68"/><circle cx="89.8" cy="382.5" r="0.68"/><circle cx="79.7" cy="388.0" r="0.68"/><circle cx="78.1" cy="372.0" r="0.68"/><circle cx="84.8" cy="386.5" r="0.68"/><circle cx="81.3" cy="366.9" r="0.68"/><circle cx="84.1" cy="374.3" r="0.68"/><circle cx="84.4" cy="387.6" r="0.68"/><circle cx="79.1" cy="366.7" r="0.68"/><circle cx="79.9" cy="365.7" r="0.68"/><circle cx="88.2" cy="393.0" r="0.68"/><circle cx="77.1" cy="373.7" r="0.68"/><circle cx="82.2" cy="381.7" r="0.68"/><circle cx="84.8" cy="378.3" r="0.68"/><circle cx="77.6" cy="383.7" r="0.68"/><circle cx="77.7" cy="381.8" r="0.68"/><circle cx="84.9" cy="371.3" r="0.68"/><circle cx="81.5" cy="366.6" r="0.68"/><circle cx="81.1" cy="370.3" r="0.68"/><circle cx="86.4" cy="376.7" r="0.68"/><circle cx="78.2" cy="377.6" r="0.68"/><circle cx="87.3" cy="373.2" r="0.68"/><circle cx="79.4" cy="365.9" r="0.68"/><circle cx="82.2" cy="366.0" r="0.68"/><circle cx="81.5" cy="375.2" r="0.68"/><circle cx="85.2" cy="390.0" r="0.68"/><circle cx="83.8" cy="382.8" r="0.68"/><circle cx="86.4" cy="375.5" r="0.68"/><circle cx="81.5" cy="383.1" r="0.68"/><circle cx="77.9" cy="371.8" r="0.68"/><circle cx="77.7" cy="378.2" r="0.68"/><circle cx="84.0" cy="373.6" r="0.68"/><circle cx="80.5" cy="363.4" r="0.68"/><circle cx="86.8" cy="377.1" r="0.68"/><circle cx="85.3" cy="380.7" r="0.68"/><circle cx="77.7" cy="378.5" r="0.68"/><circle cx="85.8" cy="371.6" r="0.68"/><circle cx="80.3" cy="387.7" r="0.68"/><circle cx="86.2" cy="380.5" r="0.68"/><circle cx="81.4" cy="381.7" r="0.68"/><circle cx="84.1" cy="385.0" r="0.68"/><circle cx="88.7" cy="384.1" r="0.68"/><circle cx="82.4" cy="391.8" r="0.68"/><circle cx="87.2" cy="369.2" r="0.68"/><circle cx="81.9" cy="373.6" r="0.68"/><circle cx="88.9" cy="382.3" r="0.68"/><circle cx="81.4" cy="380.6" r="0.68"/><circle cx="81.4" cy="372.1" r="0.68"/><circle cx="81.7" cy="370.6" r="0.68"/><circle cx="79.2" cy="381.9" r="0.68"/><circle cx="83.7" cy="362.4" r="0.68"/><circle cx="87.6" cy="370.2" r="0.68"/><circle cx="86.6" cy="371.2" r="0.68"/><circle cx="88.2" cy="374.0" r="0.68"/><circle cx="83.4" cy="375.7" r="0.68"/><circle cx="83.8" cy="377.6" r="0.68"/><circle cx="85.2" cy="356.3" r="0.68"/><circle cx="87.2" cy="367.1" r="0.68"/><circle cx="87.0" cy="384.9" r="0.68"/><circle cx="77.7" cy="379.8" r="0.68"/><circle cx="88.5" cy="387.0" r="0.68"/><circle cx="77.7" cy="382.2" r="0.68"/><circle cx="86.4" cy="372.9" r="0.68"/><circle cx="85.2" cy="372.5" r="0.68"/><circle cx="86.7" cy="376.2" r="0.68"/><circle cx="83.5" cy="381.4" r="0.68"/><circle cx="81.1" cy="376.7" r="0.68"/><circle cx="89.4" cy="367.7" r="0.68"/><circle cx="83.7" cy="371.5" r="0.68"/><circle cx="86.1" cy="367.4" r="0.68"/><circle cx="82.0" cy="371.2" r="0.68"/><circle cx="87.5" cy="358.2" r="0.68"/><circle cx="87.2" cy="367.9" r="0.68"/><circle cx="87.6" cy="361.9" r="0.68"/><circle cx="85.1" cy="390.8" r="0.68"/><circle cx="83.5" cy="362.6" r="0.68"/><circle cx="82.2" cy="372.3" r="0.68"/><circle cx="82.2" cy="361.5" r="0.68"/><circle cx="89.7" cy="383.7" r="0.68"/><circle cx="81.6" cy="386.1" r="0.68"/><circle cx="82.2" cy="378.6" r="0.68"/><circle cx="80.5" cy="380.5" r="0.68"/><circle cx="80.7" cy="378.6" r="0.68"/><circle cx="78.1" cy="375.5" r="0.68"/><circle cx="79.0" cy="367.4" r="0.68"/><circle cx="77.4" cy="364.5" r="0.68"/><circle cx="88.6" cy="365.4" r="0.68"/><circle cx="77.1" cy="378.6" r="0.68"/><circle cx="79.5" cy="379.8" r="0.68"/><circle cx="79.7" cy="379.1" r="0.68"/><circle cx="79.6" cy="373.7" r="0.68"/><circle cx="79.0" cy="365.1" r="0.68"/><circle cx="86.6" cy="375.0" r="0.68"/><circle cx="80.7" cy="380.6" r="0.68"/><circle cx="82.9" cy="361.4" r="0.68"/><circle cx="80.0" cy="371.4" r="0.68"/><circle cx="81.1" cy="389.0" r="0.68"/><circle cx="83.8" cy="364.0" r="0.68"/><circle cx="79.5" cy="384.5" r="0.68"/><circle cx="77.3" cy="373.5" r="0.68"/><circle cx="81.7" cy="389.1" r="0.68"/><circle cx="83.6" cy="371.2" r="0.68"/><circle cx="89.7" cy="369.4" r="0.68"/><circle cx="85.3" cy="375.3" r="0.68"/><circle cx="82.8" cy="376.1" r="0.68"/><circle cx="81.5" cy="377.1" r="0.68"/><circle cx="84.6" cy="379.5" r="0.68"/><circle cx="78.7" cy="363.4" r="0.68"/><circle cx="80.0" cy="379.7" r="0.68"/><circle cx="88.1" cy="381.7" r="0.68"/><circle cx="89.7" cy="364.2" r="0.68"/><circle cx="80.1" cy="374.8" r="0.68"/><circle cx="86.8" cy="371.4" r="0.68"/><circle cx="76.6" cy="375.0" r="0.68"/><circle cx="87.5" cy="382.5" r="0.68"/><circle cx="77.7" cy="361.5" r="0.68"/><circle cx="77.9" cy="374.4" r="0.68"/><circle cx="82.9" cy="388.1" r="0.68"/><circle cx="84.3" cy="355.7" r="0.68"/><circle cx="87.9" cy="379.8" r="0.68"/><circle cx="82.1" cy="371.2" r="0.68"/><circle cx="88.7" cy="388.8" r="0.68"/><circle cx="79.4" cy="388.1" r="0.68"/><circle cx="83.8" cy="383.8" r="0.68"/><circle cx="87.6" cy="371.2" r="0.68"/><circle cx="80.7" cy="375.2" r="0.68"/><circle cx="80.6" cy="374.8" r="0.68"/><circle cx="82.8" cy="378.8" r="0.68"/><circle cx="85.7" cy="374.3" r="0.68"/><circle cx="78.0" cy="368.3" r="0.68"/><circle cx="89.4" cy="368.7" r="0.68"/><circle cx="87.6" cy="381.3" r="0.68"/><circle cx="81.6" cy="375.3" r="0.68"/><circle cx="86.0" cy="374.9" r="0.68"/><circle cx="82.6" cy="376.8" r="0.68"/><circle cx="76.7" cy="385.9" r="0.68"/><circle cx="79.3" cy="389.8" r="0.68"/><circle cx="84.7" cy="375.2" r="0.68"/><circle cx="83.7" cy="374.0" r="0.68"/><circle cx="80.5" cy="383.2" r="0.68"/><circle cx="85.4" cy="371.7" r="0.68"/><circle cx="80.0" cy="382.6" r="0.68"/><circle cx="80.9" cy="379.9" r="0.68"/><circle cx="89.1" cy="387.9" r="0.68"/><circle cx="81.0" cy="363.7" r="0.68"/><circle cx="87.5" cy="370.9" r="0.68"/><circle cx="77.8" cy="379.5" r="0.68"/><circle cx="85.5" cy="378.3" r="0.68"/><circle cx="81.9" cy="374.6" r="0.68"/><circle cx="87.6" cy="371.0" r="0.68"/><circle cx="79.6" cy="373.0" r="0.68"/><circle cx="78.7" cy="374.0" r="0.68"/><circle cx="77.6" cy="381.6" r="0.68"/><circle cx="88.8" cy="381.5" r="0.68"/><circle cx="85.1" cy="367.1" r="0.68"/><circle cx="86.7" cy="380.1" r="0.68"/><circle cx="81.0" cy="379.3" r="0.68"/><circle cx="82.0" cy="368.6" r="0.68"/><circle cx="85.8" cy="383.8" r="0.68"/><circle cx="89.6" cy="376.8" r="0.68"/><circle cx="84.6" cy="378.8" r="0.68"/><circle cx="76.8" cy="364.2" r="0.68"/><circle cx="85.2" cy="372.3" r="0.68"/><circle cx="78.0" cy="382.2" r="0.68"/><circle cx="87.0" cy="368.9" r="0.68"/><circle cx="87.5" cy="382.4" r="0.68"/><circle cx="86.7" cy="372.3" r="0.68"/><circle cx="88.5" cy="372.9" r="0.68"/><circle cx="83.2" cy="368.6" r="0.68"/><circle cx="78.5" cy="373.7" r="0.68"/><circle cx="83.4" cy="370.4" r="0.68"/><circle cx="86.0" cy="352.2" r="0.68"/><circle cx="89.1" cy="378.6" r="0.68"/><circle cx="84.9" cy="371.3" r="0.68"/><circle cx="79.8" cy="377.0" r="0.68"/><circle cx="84.2" cy="379.0" r="0.68"/><circle cx="88.9" cy="373.6" r="0.68"/><circle cx="81.4" cy="369.0" r="0.68"/><circle cx="89.5" cy="371.8" r="0.68"/><circle cx="78.4" cy="376.9" r="0.68"/><circle cx="84.0" cy="383.9" r="0.68"/><circle cx="84.0" cy="370.1" r="0.68"/><circle cx="89.7" cy="374.4" r="0.68"/><circle cx="87.4" cy="392.8" r="0.68"/><circle cx="87.5" cy="372.6" r="0.68"/><circle cx="80.4" cy="373.5" r="0.68"/><circle cx="84.2" cy="380.6" r="0.68"/><circle cx="87.6" cy="372.3" r="0.68"/><circle cx="77.6" cy="379.8" r="0.68"/><circle cx="77.0" cy="384.9" r="0.68"/><circle cx="89.0" cy="385.7" r="0.68"/><circle cx="85.5" cy="372.1" r="0.68"/><circle cx="86.3" cy="370.0" r="0.68"/><circle cx="87.2" cy="367.8" r="0.68"/><circle cx="76.8" cy="383.0" r="0.68"/><circle cx="78.5" cy="378.7" r="0.68"/><circle cx="81.7" cy="384.2" r="0.68"/><circle cx="83.5" cy="371.4" r="0.68"/><circle cx="80.1" cy="373.8" r="0.68"/><circle cx="85.1" cy="369.2" r="0.68"/><circle cx="77.1" cy="372.9" r="0.68"/><circle cx="89.3" cy="373.8" r="0.68"/><circle cx="84.5" cy="371.9" r="0.68"/><circle cx="84.8" cy="367.6" r="0.68"/><circle cx="85.7" cy="377.5" r="0.68"/><circle cx="83.0" cy="376.6" r="0.68"/><circle cx="89.7" cy="362.2" r="0.68"/><circle cx="82.0" cy="384.0" r="0.68"/><circle cx="82.3" cy="362.1" r="0.68"/><circle cx="83.5" cy="359.5" r="0.68"/><circle cx="83.5" cy="368.7" r="0.68"/><circle cx="80.8" cy="359.6" r="0.68"/><circle cx="77.3" cy="382.9" r="0.68"/><circle cx="86.3" cy="373.3" r="0.68"/><circle cx="84.5" cy="358.4" r="0.68"/><circle cx="84.4" cy="376.1" r="0.68"/><circle cx="77.5" cy="368.9" r="0.68"/><circle cx="83.2" cy="381.9" r="0.68"/><circle cx="81.8" cy="381.9" r="0.68"/><circle cx="83.5" cy="387.2" r="0.68"/><circle cx="79.8" cy="379.8" r="0.68"/><circle cx="79.7" cy="373.1" r="0.68"/><circle cx="77.5" cy="383.2" r="0.68"/><circle cx="85.4" cy="393.0" r="0.68"/><circle cx="88.0" cy="364.6" r="0.68"/><circle cx="79.5" cy="362.8" r="0.68"/><circle cx="86.5" cy="382.6" r="0.68"/><circle cx="77.9" cy="359.6" r="0.68"/><circle cx="87.1" cy="368.7" r="0.68"/><circle cx="89.2" cy="382.8" r="0.68"/><circle cx="76.6" cy="382.7" r="0.68"/><circle cx="80.9" cy="376.2" r="0.68"/><circle cx="77.4" cy="382.5" r="0.68"/><circle cx="81.8" cy="387.2" r="0.68"/><circle cx="81.3" cy="366.7" r="0.68"/><circle cx="77.0" cy="373.8" r="0.68"/><circle cx="88.5" cy="374.7" r="0.68"/><circle cx="88.9" cy="372.5" r="0.68"/><circle cx="89.5" cy="384.5" r="0.68"/><circle cx="80.5" cy="370.4" r="0.68"/><circle cx="88.8" cy="376.9" r="0.68"/><circle cx="87.7" cy="380.0" r="0.68"/><circle cx="81.3" cy="372.7" r="0.68"/><circle cx="88.2" cy="371.0" r="0.68"/><circle cx="89.7" cy="376.8" r="0.68"/><circle cx="79.1" cy="379.2" r="0.68"/><circle cx="88.2" cy="386.4" r="0.68"/><circle cx="86.2" cy="379.5" r="0.68"/><circle cx="80.7" cy="377.1" r="0.68"/><circle cx="86.0" cy="388.6" r="0.68"/><circle cx="78.4" cy="366.2" r="0.68"/><circle cx="82.5" cy="369.5" r="0.68"/><circle cx="77.6" cy="357.6" r="0.68"/><circle cx="86.0" cy="377.1" r="0.68"/><circle cx="79.2" cy="382.5" r="0.68"/><circle cx="85.4" cy="378.4" r="0.68"/><circle cx="87.0" cy="381.1" r="0.68"/><circle cx="88.3" cy="367.5" r="0.68"/><circle cx="84.4" cy="384.1" r="0.68"/><circle cx="88.8" cy="376.9" r="0.68"/><circle cx="85.4" cy="382.5" r="0.68"/><circle cx="77.8" cy="374.0" r="0.68"/><circle cx="89.6" cy="386.8" r="0.68"/><circle cx="83.6" cy="366.5" r="0.68"/><circle cx="77.2" cy="379.5" r="0.68"/><circle cx="79.9" cy="370.5" r="0.68"/><circle cx="87.2" cy="372.0" r="0.68"/><circle cx="86.6" cy="381.4" r="0.68"/><circle cx="79.8" cy="379.3" r="0.68"/><circle cx="79.1" cy="374.1" r="0.68"/><circle cx="88.4" cy="385.5" r="0.68"/><circle cx="82.7" cy="378.0" r="0.68"/><circle cx="86.5" cy="375.8" r="0.68"/><circle cx="83.2" cy="361.7" r="0.68"/><circle cx="79.0" cy="387.7" r="0.68"/><circle cx="81.3" cy="364.8" r="0.68"/><circle cx="85.3" cy="371.9" r="0.68"/><circle cx="83.3" cy="377.9" r="0.68"/><circle cx="87.8" cy="366.2" r="0.68"/><circle cx="89.2" cy="372.0" r="0.68"/><circle cx="78.9" cy="366.8" r="0.68"/><circle cx="84.6" cy="376.9" r="0.68"/><circle cx="79.7" cy="371.1" r="0.68"/><circle cx="87.0" cy="362.7" r="0.68"/><circle cx="87.0" cy="380.8" r="0.68"/><circle cx="79.5" cy="376.8" r="0.68"/><circle cx="84.3" cy="384.9" r="0.68"/><circle cx="84.5" cy="373.8" r="0.68"/><circle cx="86.0" cy="376.0" r="0.68"/><circle cx="79.0" cy="360.9" r="0.68"/><circle cx="78.6" cy="368.6" r="0.68"/><circle cx="82.3" cy="385.0" r="0.68"/><circle cx="82.4" cy="377.0" r="0.68"/><circle cx="77.6" cy="374.8" r="0.68"/><circle cx="88.6" cy="389.7" r="0.68"/><circle cx="87.0" cy="366.6" r="0.68"/><circle cx="79.7" cy="371.6" r="0.68"/><circle cx="77.2" cy="380.0" r="0.68"/><circle cx="80.7" cy="381.3" r="0.68"/><circle cx="80.1" cy="368.7" r="0.68"/><circle cx="84.4" cy="369.0" r="0.68"/><circle cx="78.9" cy="388.1" r="0.68"/><circle cx="80.0" cy="383.5" r="0.68"/><circle cx="87.6" cy="382.3" r="0.68"/><circle cx="87.0" cy="386.0" r="0.68"/><circle cx="81.4" cy="383.3" r="0.68"/><circle cx="79.5" cy="379.0" r="0.68"/><circle cx="83.1" cy="378.2" r="0.68"/><circle cx="89.6" cy="355.7" r="0.68"/><circle cx="82.6" cy="391.8" r="0.68"/><circle cx="77.1" cy="355.5" r="0.68"/><circle cx="88.3" cy="392.0" r="0.68"/></g>
<line x1="83.00" y1="371.90" x2="83.00" y2="359.30" stroke="#9a9a9a" stroke-width="0.6"/>
<line x1="83.00" y1="380.30" x2="83.00" y2="392.90" stroke="#9a9a9a" stroke-width="0.6"/>
<rect x="68.60" y="371.90" width="28.80" height="8.40" fill="none" stroke="#a0a0a0" stroke-width="0.85"/>
<line x1="68.60" y1="376.00" x2="97.40" y2="376.00" stroke="#4a4a4a" stroke-width="1.0"/>
<line x1="45.10" y1="335.40" x2="82.80" y2="335.40" stroke="#bdbdbd" stroke-width="1.0"/>
<polygon points="63.95,329.50 64.51,331.03 66.14,331.09 64.85,332.09 65.30,333.66 63.95,332.75 62.60,333.66 63.05,332.09 61.76,331.09 63.39,331.03" fill="#111"/>
<rect x="28.10" y="403.00" width="4.00" height="3.80" fill="#555"/>
<text x="34.70" y="407.00" font-size="6.1" text-anchor="start" fill="#222" transform="rotate(0.05 34.70 407.00)">Recovered</text>
<rect x="28.10" y="410.60" width="4.00" height="3.80" fill="#d0432e"/>
<text x="34.70" y="414.60" font-size="6.1" text-anchor="start" fill="#222" transform="rotate(0.05 34.70 414.60)">Cardio_Resp</text>
<line x1="131.40" y1="330.50" x2="131.40" y2="397.80" stroke="#777" stroke-width="0.8"/>
<line x1="131.40" y1="397.80" x2="215.80" y2="397.80" stroke="#777" stroke-width="0.8"/>
<line x1="129.80" y1="346.60" x2="131.40" y2="346.60" stroke="#777" stroke-width="0.6"/>
<text x="122.18" y="348.90" font-size="6.4" text-anchor="end" fill="#1c1c1c" transform="rotate(0.05 122.18 348.90)">2</text>
<text x="127.70" y="345.70" font-size="3.97" text-anchor="end" fill="#1c1c1c" transform="rotate(0.05 127.70 345.70)">2.0</text>
<line x1="129.80" y1="363.90" x2="131.40" y2="363.90" stroke="#777" stroke-width="0.6"/>
<text x="122.18" y="366.20" font-size="6.4" text-anchor="end" fill="#1c1c1c" transform="rotate(0.05 122.18 366.20)">2</text>
<text x="127.70" y="363.00" font-size="3.97" text-anchor="end" fill="#1c1c1c" transform="rotate(0.05 127.70 363.00)">1.5</text>
<line x1="129.80" y1="381.30" x2="131.40" y2="381.30" stroke="#777" stroke-width="0.6"/>
<text x="122.18" y="383.60" font-size="6.4" text-anchor="end" fill="#1c1c1c" transform="rotate(0.05 122.18 383.60)">2</text>
<text x="127.70" y="380.40" font-size="3.97" text-anchor="end" fill="#1c1c1c" transform="rotate(0.05 127.70 380.40)">1.0</text>
<text x="0" y="0" font-size="5.5" text-anchor="middle" fill="#1c1c1c" transform="translate(113.20,364.00) rotate(-90)">IL-1R2 (NPX)</text>
<g fill="#4f4f4f" fill-opacity="0.95"><circle cx="147.9" cy="375.4" r="0.68"/><circle cx="152.0" cy="369.1" r="0.68"/><circle cx="147.0" cy="379.3" r="0.68"/><circle cx="156.8" cy="380.5" r="0.68"/><circle cx="149.5" cy="375.2" r="0.68"/><circle cx="153.8" cy="368.4" r="0.68"/><circle cx="159.2" cy="376.4" r="0.68"/><circle cx="151.1" cy="383.0" r="0.68"/><circle cx="154.6" cy="360.6" r="0.68"/><circle cx="146.5" cy="391.2" r="0.68"/><circle cx="146.7" cy="363.5" r="0.68"/><circle cx="150.8" cy="381.2" r="0.68"/><circle cx="154.3" cy="368.9" r="0.68"/><circle cx="158.6" cy="356.3" r="0.68"/><circle cx="158.0" cy="365.8" r="0.68"/><circle cx="151.4" cy="377.5" r="0.68"/><circle cx="150.9" cy="376.9" r="0.68"/><circle cx="148.5" cy="368.8" r="0.68"/><circle cx="148.8" cy="370.0" r="0.68"/><circle cx="149.0" cy="374.1" r="0.68"/><circle cx="152.3" cy="367.2" r="0.68"/><circle cx="160.1" cy="377.1" r="0.68"/><circle cx="148.8" cy="367.0" r="0.68"/><circle cx="151.4" cy="357.1" r="0.68"/><circle cx="151.1" cy="384.7" r="0.68"/><circle cx="149.8" cy="380.3" r="0.68"/><circle cx="149.7" cy="380.0" r="0.68"/><circle cx="151.5" cy="376.5" r="0.68"/><circle cx="149.7" cy="384.9" r="0.68"/><circle cx="151.1" cy="368.3" r="0.68"/><circle cx="151.0" cy="384.4" r="0.68"/><circle cx="156.8" cy="388.2" r="0.68"/><circle cx="146.2" cy="372.2" r="0.68"/><circle cx="150.5" cy="353.4" r="0.68"/><circle cx="158.5" cy="372.7" r="0.68"/><circle cx="150.6" cy="377.7" r="0.68"/><circle cx="146.7" cy="377.0" r="0.68"/><circle cx="151.5" cy="363.4" r="0.68"/><circle cx="148.1" cy="376.1" r="0.68"/><circle cx="154.4" cy="377.8" r="0.68"/><circle cx="152.0" cy="381.3" r="0.68"/><circle cx="153.7" cy="377.1" r="0.68"/><circle cx="149.6" cy="382.5" r="0.68"/><circle cx="156.3" cy="383.4" r="0.68"/><circle cx="148.8" cy="373.0" r="0.68"/><circle cx="149.9" cy="370.9" r="0.68"/><circle cx="151.4" cy="373.5" r="0.68"/><circle cx="158.3" cy="365.6" r="0.68"/><circle cx="150.8" cy="376.8" r="0.68"/><circle cx="149.0" cy="381.2" r="0.68"/><circle cx="154.9" cy="377.4" r="0.68"/><circle cx="154.0" cy="376.4" r="0.68"/><circle cx="150.2" cy="382.2" r="0.68"/><circle cx="149.0" cy="364.7" r="0.68"/><circle cx="155.8" cy="355.3" r="0.68"/><circle cx="158.3" cy="362.9" r="0.68"/><circle cx="149.3" cy="353.3" r="0.68"/><circle cx="152.0" cy="372.9" r="0.68"/><circle cx="151.5" cy="372.6" r="0.68"/><circle cx="150.6" cy="381.8" r="0.68"/><circle cx="153.0" cy="378.3" r="0.68"/><circle cx="151.7" cy="374.9" r="0.68"/><circle cx="152.7" cy="379.6" r="0.68"/><circle cx="149.3" cy="380.7" r="0.68"/><circle cx="147.2" cy="384.1" r="0.68"/><circle cx="148.1" cy="370.0" r="0.68"/><circle cx="154.2" cy="381.5" r="0.68"/><circle cx="155.9" cy="372.0" r="0.68"/><circle cx="146.2" cy="363.3" r="0.68"/><circle cx="146.8" cy="368.2" r="0.68"/><circle cx="151.7" cy="379.8" r="0.68"/><circle cx="154.3" cy="382.9" r="0.68"/><circle cx="152.6" cy="378.5" r="0.68"/><circle cx="146.2" cy="372.3" r="0.68"/><circle cx="150.9" cy="380.3" r="0.68"/><circle cx="149.6" cy="382.3" r="0.68"/><circle cx="155.5" cy="367.5" r="0.68"/><circle cx="154.7" cy="378.8" r="0.68"/><circle cx="159.6" cy="382.5" r="0.68"/><circle cx="159.4" cy="367.1" r="0.68"/><circle cx="156.9" cy="382.3" r="0.68"/><circle cx="151.8" cy="365.8" r="0.68"/><circle cx="151.8" cy="365.5" r="0.68"/><circle cx="158.5" cy="372.8" r="0.68"/><circle cx="151.4" cy="387.7" r="0.68"/><circle cx="147.8" cy="377.5" r="0.68"/><circle cx="153.2" cy="374.4" r="0.68"/><circle cx="159.9" cy="372.4" r="0.68"/><circle cx="148.0" cy="381.6" r="0.68"/><circle cx="155.6" cy="377.6" r="0.68"/><circle cx="149.3" cy="380.2" r="0.68"/><circle cx="151.5" cy="383.9" r="0.68"/><circle cx="149.3" cy="376.0" r="0.68"/><circle cx="153.7" cy="360.8" r="0.68"/><circle cx="154.8" cy="376.4" r="0.68"/><circle cx="159.8" cy="357.6" r="0.68"/><circle cx="150.7" cy="368.6" r="0.68"/><circle cx="150.4" cy="363.5" r="0.68"/><circle cx="156.1" cy="386.8" r="0.68"/><circle cx="159.7" cy="370.6" r="0.68"/><circle cx="157.7" cy="360.9" r="0.68"/><circle cx="152.9" cy="380.7" r="0.68"/><circle cx="154.0" cy="383.4" r="0.68"/><circle cx="156.6" cy="370.1" r="0.68"/><circle cx="153.5" cy="379.8" r="0.68"/><circle cx="150.5" cy="376.4" r="0.68"/><circle cx="148.4" cy="380.8" r="0.68"/><circle cx="146.8" cy="370.6" r="0.68"/><circle cx="146.9" cy="375.5" r="0.68"/><circle cx="147.5" cy="383.9" r="0.68"/><circle cx="152.4" cy="381.9" r="0.68"/><circle cx="148.2" cy="377.0" r="0.68"/><circle cx="158.3" cy="364.1" r="0.68"/><circle cx="149.5" cy="377.4" r="0.68"/><circle cx="153.2" cy="373.5" r="0.68"/><circle cx="156.1" cy="377.8" r="0.68"/><circle cx="149.5" cy="366.0" r="0.68"/><circle cx="150.7" cy="374.0" r="0.68"/><circle cx="156.8" cy="366.9" r="0.68"/><circle cx="154.0" cy="382.5" r="0.68"/><circle cx="151.9" cy="359.5" r="0.68"/><circle cx="157.8" cy="372.1" r="0.68"/><circle cx="157.4" cy="361.9" r="0.68"/><circle cx="155.5" cy="380.3" r="0.68"/><circle cx="149.2" cy="380.3" r="0.68"/><circle cx="154.3" cy="376.4" r="0.68"/><circle cx="159.4" cy="377.0" r="0.68"/><circle cx="155.7" cy="379.3" r="0.68"/><circle cx="151.9" cy="375.0" r="0.68"/><circle cx="159.2" cy="368.8" r="0.68"/><circle cx="160.0" cy="368.2" r="0.68"/><circle cx="147.6" cy="385.5" r="0.68"/><circle cx="146.5" cy="379.0" r="0.68"/><circle cx="160.1" cy="372.2" r="0.68"/><circle cx="147.6" cy="386.0" r="0.68"/><circle cx="153.7" cy="374.8" r="0.68"/><circle cx="152.8" cy="377.3" r="0.68"/><circle cx="157.3" cy="369.7" r="0.68"/><circle cx="157.9" cy="379.9" r="0.68"/><circle cx="154.7" cy="373.8" r="0.68"/><circle cx="156.8" cy="382.1" r="0.68"/><circle cx="155.8" cy="382.2" r="0.68"/><circle cx="153.7" cy="374.8" r="0.68"/><circle cx="148.4" cy="377.1" r="0.68"/><circle cx="147.4" cy="370.4" r="0.68"/><circle cx="152.9" cy="380.4" r="0.68"/><circle cx="147.6" cy="372.8" r="0.68"/><circle cx="154.0" cy="375.1" r="0.68"/><circle cx="148.0" cy="377.1" r="0.68"/><circle cx="149.2" cy="370.1" r="0.68"/><circle cx="152.8" cy="370.0" r="0.68"/><circle cx="146.6" cy="370.6" r="0.68"/><circle cx="146.8" cy="379.6" r="0.68"/><circle cx="147.0" cy="380.2" r="0.68"/><circle cx="148.5" cy="370.4" r="0.68"/><circle cx="148.8" cy="378.2" r="0.68"/><circle cx="151.8" cy="380.9" r="0.68"/><circle cx="157.4" cy="367.1" r="0.68"/><circle cx="153.8" cy="373.1" r="0.68"/><circle cx="155.3" cy="377.3" r="0.68"/><circle cx="159.3" cy="369.9" r="0.68"/><circle cx="158.3" cy="370.1" r="0.68"/><circle cx="157.8" cy="382.8" r="0.68"/><circle cx="156.3" cy="375.6" r="0.68"/><circle cx="148.3" cy="376.7" r="0.68"/><circle cx="147.6" cy="377.3" r="0.68"/><circle cx="156.7" cy="381.3" r="0.68"/><circle cx="150.3" cy="378.7" r="0.68"/><circle cx="148.9" cy="374.5" r="0.68"/><circle cx="159.6" cy="375.9" r="0.68"/><circle cx="157.5" cy="383.7" r="0.68"/><circle cx="157.2" cy="376.5" r="0.68"/><circle cx="157.4" cy="375.0" r="0.68"/><circle cx="157.7" cy="365.4" r="0.68"/><circle cx="147.3" cy="378.0" r="0.68"/><circle cx="156.0" cy="382.1" r="0.68"/><circle cx="149.5" cy="372.7" r="0.68"/><circle cx="154.1" cy="377.2" r="0.68"/><circle cx="149.1" cy="374.8" r="0.68"/><circle cx="155.3" cy="368.3" r="0.68"/><circle cx="157.5" cy="379.9" r="0.68"/><circle cx="151.0" cy="366.1" r="0.68"/><circle cx="149.9" cy="382.7" r="0.68"/><circle cx="147.2" cy="380.6" r="0.68"/><circle cx="150.7" cy="370.8" r="0.68"/><circle cx="156.5" cy="375.6" r="0.68"/><circle cx="153.7" cy="368.8" r="0.68"/><circle cx="147.4" cy="373.2" r="0.68"/><circle cx="147.9" cy="370.1" r="0.68"/><circle cx="146.0" cy="369.4" r="0.68"/><circle cx="153.1" cy="381.4" r="0.68"/><circle cx="153.6" cy="368.4" r="0.68"/><circle cx="159.5" cy="379.2" r="0.68"/><circle cx="150.5" cy="379.6" r="0.68"/><circle cx="156.7" cy="388.5" r="0.68"/><circle cx="152.1" cy="390.5" r="0.68"/><circle cx="159.7" cy="387.7" r="0.68"/><circle cx="156.0" cy="377.2" r="0.68"/><circle cx="148.4" cy="382.3" r="0.68"/><circle cx="159.5" cy="373.7" r="0.68"/><circle cx="150.5" cy="385.4" r="0.68"/><circle cx="160.0" cy="378.4" r="0.68"/><circle cx="148.0" cy="381.4" r="0.68"/><circle cx="155.1" cy="369.2" r="0.68"/><circle cx="148.9" cy="368.3" r="0.68"/><circle cx="158.1" cy="359.6" r="0.68"/><circle cx="154.9" cy="361.4" r="0.68"/><circle cx="147.5" cy="362.4" r="0.68"/><circle cx="157.9" cy="375.6" r="0.68"/><circle cx="155.4" cy="371.7" r="0.68"/><circle cx="151.9" cy="365.3" r="0.68"/><circle cx="154.5" cy="370.3" r="0.68"/><circle cx="154.1" cy="379.0" r="0.68"/><circle cx="154.9" cy="373.3" r="0.68"/><circle cx="152.3" cy="375.7" r="0.68"/><circle cx="159.2" cy="364.2" r="0.68"/><circle cx="148.1" cy="368.2" r="0.68"/><circle cx="156.5" cy="379.9" r="0.68"/><circle cx="160.0" cy="369.4" r="0.68"/><circle cx="151.6" cy="385.5" r="0.68"/><circle cx="160.1" cy="378.2" r="0.68"/><circle cx="152.9" cy="372.0" r="0.68"/><circle cx="155.2" cy="377.2" r="0.68"/><circle cx="159.3" cy="388.0" r="0.68"/><circle cx="153.2" cy="381.4" r="0.68"/><circle cx="160.1" cy="359.5" r="0.68"/><circle cx="156.1" cy="387.7" r="0.68"/><circle cx="149.5" cy="381.0" r="0.68"/><circle cx="153.6" cy="378.4" r="0.68"/><circle cx="148.7" cy="354.3" r="0.68"/><circle cx="155.1" cy="390.4" r="0.68"/><circle cx="153.8" cy="349.9" r="0.68"/><circle cx="152.9" cy="393.6" r="0.68"/></g>
<line x1="154.55" y1="370.40" x2="154.55" y2="356.75" stroke="#9a9a9a" stroke-width="0.6"/>
<line x1="154.55" y1="379.50" x2="154.55" y2="393.15" stroke="#9a9a9a" stroke-width="0.6"/>
<rect x="140.10" y="370.40" width="28.90" height="9.10" fill="none" stroke="#a0a0a0" stroke-width="0.85"/>
<line x1="140.10" y1="376.10" x2="169.00" y2="376.10" stroke="#4a4a4a" stroke-width="1.0"/>
<g fill="#8a2a60" fill-opacity="0.95"><circle cx="187.9" cy="359.0" r="0.68"/><circle cx="195.4" cy="377.6" r="0.68"/><circle cx="192.3" cy="348.4" r="0.68"/><circle cx="186.6" cy="385.5" r="0.68"/><circle cx="189.6" cy="359.4" r="0.68"/><circle cx="189.3" cy="374.0" r="0.68"/><circle cx="196.8" cy="373.5" r="0.68"/><circle cx="187.0" cy="374.3" r="0.68"/><circle cx="190.0" cy="366.6" r="0.68"/><circle cx="197.3" cy="379.4" r="0.68"/><circle cx="185.4" cy="357.8" r="0.68"/><circle cx="193.4" cy="378.2" r="0.68"/><circle cx="196.9" cy="371.3" r="0.68"/><circle cx="194.0" cy="370.8" r="0.68"/><circle cx="190.6" cy="363.7" r="0.68"/><circle cx="188.9" cy="380.3" r="0.68"/><circle cx="193.4" cy="372.8" r="0.68"/><circle cx="194.3" cy="368.9" r="0.68"/><circle cx="187.0" cy="384.2" r="0.68"/><circle cx="191.1" cy="381.8" r="0.68"/><circle cx="186.2" cy="382.1" r="0.68"/><circle cx="193.1" cy="388.2" r="0.68"/><circle cx="189.5" cy="386.5" r="0.68"/><circle cx="194.3" cy="381.9" r="0.68"/><circle cx="188.8" cy="371.0" r="0.68"/><circle cx="190.2" cy="360.1" r="0.68"/><circle cx="190.5" cy="379.8" r="0.68"/><circle cx="196.1" cy="382.3" r="0.68"/><circle cx="191.6" cy="360.3" r="0.68"/><circle cx="197.9" cy="377.5" r="0.68"/><circle cx="187.8" cy="360.8" r="0.68"/><circle cx="192.7" cy="383.7" r="0.68"/><circle cx="188.5" cy="366.4" r="0.68"/><circle cx="196.6" cy="390.1" r="0.68"/><circle cx="197.8" cy="365.8" r="0.68"/><circle cx="189.9" cy="359.6" r="0.68"/><circle cx="190.8" cy="371.3" r="0.68"/><circle cx="185.3" cy="354.9" r="0.68"/><circle cx="190.7" cy="363.1" r="0.68"/><circle cx="198.0" cy="375.6" r="0.68"/><circle cx="194.0" cy="366.8" r="0.68"/><circle cx="187.9" cy="385.6" r="0.68"/><circle cx="197.2" cy="366.3" r="0.68"/><circle cx="188.0" cy="374.6" r="0.68"/><circle cx="196.1" cy="361.9" r="0.68"/><circle cx="196.6" cy="376.0" r="0.68"/><circle cx="185.8" cy="358.7" r="0.68"/><circle cx="197.2" cy="363.5" r="0.68"/><circle cx="189.8" cy="379.4" r="0.68"/><circle cx="194.7" cy="376.6" r="0.68"/><circle cx="197.2" cy="366.4" r="0.68"/><circle cx="198.0" cy="361.9" r="0.68"/><circle cx="191.1" cy="384.8" r="0.68"/><circle cx="189.6" cy="373.9" r="0.68"/><circle cx="194.0" cy="361.3" r="0.68"/><circle cx="193.1" cy="373.7" r="0.68"/><circle cx="198.6" cy="365.6" r="0.68"/><circle cx="193.7" cy="353.3" r="0.68"/><circle cx="194.4" cy="382.5" r="0.68"/><circle cx="191.0" cy="375.4" r="0.68"/><circle cx="190.1" cy="371.9" r="0.68"/><circle cx="198.6" cy="367.1" r="0.68"/><circle cx="187.4" cy="364.7" r="0.68"/><circle cx="190.0" cy="367.2" r="0.68"/><circle cx="195.0" cy="375.7" r="0.68"/><circle cx="193.7" cy="376.8" r="0.68"/><circle cx="193.3" cy="374.8" r="0.68"/><circle cx="196.0" cy="371.5" r="0.68"/><circle cx="194.9" cy="362.4" r="0.68"/><circle cx="191.1" cy="372.8" r="0.68"/><circle cx="184.6" cy="365.7" r="0.68"/><circle cx="197.2" cy="386.0" r="0.68"/><circle cx="184.7" cy="348.6" r="0.68"/><circle cx="192.0" cy="362.7" r="0.68"/><circle cx="186.0" cy="381.1" r="0.68"/><circle cx="191.7" cy="373.9" r="0.68"/><circle cx="186.2" cy="361.6" r="0.68"/><circle cx="185.7" cy="366.0" r="0.68"/><circle cx="191.7" cy="369.3" r="0.68"/><circle cx="187.9" cy="366.0" r="0.68"/><circle cx="190.3" cy="387.3" r="0.68"/><circle cx="190.9" cy="378.0" r="0.68"/><circle cx="192.4" cy="374.1" r="0.68"/><circle cx="185.9" cy="348.2" r="0.68"/><circle cx="196.6" cy="376.5" r="0.68"/><circle cx="191.9" cy="385.7" r="0.68"/><circle cx="190.2" cy="392.1" r="0.68"/><circle cx="198.2" cy="352.8" r="0.68"/><circle cx="190.3" cy="355.7" r="0.68"/><circle cx="196.1" cy="377.3" r="0.68"/><circle cx="194.9" cy="372.4" r="0.68"/><circle cx="192.0" cy="370.3" r="0.68"/><circle cx="184.8" cy="364.8" r="0.68"/><circle cx="198.2" cy="378.0" r="0.68"/><circle cx="193.6" cy="376.9" r="0.68"/><circle cx="190.4" cy="373.6" r="0.68"/><circle cx="185.5" cy="368.8" r="0.68"/><circle cx="197.5" cy="371.6" r="0.68"/><circle cx="189.1" cy="376.4" r="0.68"/><circle cx="197.1" cy="353.7" r="0.68"/><circle cx="197.9" cy="372.9" r="0.68"/><circle cx="197.3" cy="358.5" r="0.68"/><circle cx="190.0" cy="365.9" r="0.68"/><circle cx="188.1" cy="365.7" r="0.68"/><circle cx="189.7" cy="386.3" r="0.68"/><circle cx="189.5" cy="359.1" r="0.68"/><circle cx="190.6" cy="376.5" r="0.68"/><circle cx="196.3" cy="368.2" r="0.68"/><circle cx="185.3" cy="372.9" r="0.68"/><circle cx="190.1" cy="356.4" r="0.68"/><circle cx="187.6" cy="369.2" r="0.68"/><circle cx="188.9" cy="379.2" r="0.68"/><circle cx="191.3" cy="377.2" r="0.68"/><circle cx="191.4" cy="373.9" r="0.68"/><circle cx="184.5" cy="387.1" r="0.68"/><circle cx="184.5" cy="344.7" r="0.68"/><circle cx="192.9" cy="385.2" r="0.68"/><circle cx="193.0" cy="380.5" r="0.68"/><circle cx="189.7" cy="369.1" r="0.68"/><circle cx="192.8" cy="366.5" r="0.68"/><circle cx="188.9" cy="383.9" r="0.68"/><circle cx="195.2" cy="356.8" r="0.68"/><circle cx="185.2" cy="372.2" r="0.68"/><circle cx="188.3" cy="377.8" r="0.68"/><circle cx="195.8" cy="375.8" r="0.68"/><circle cx="190.2" cy="349.7" r="0.68"/><circle cx="188.5" cy="380.2" r="0.68"/><circle cx="198.5" cy="369.7" r="0.68"/><circle cx="196.3" cy="367.2" r="0.68"/><circle cx="196.1" cy="366.8" r="0.68"/><circle cx="195.7" cy="379.1" r="0.68"/><circle cx="195.3" cy="369.3" r="0.68"/><circle cx="185.1" cy="368.6" r="0.68"/><circle cx="197.7" cy="360.7" r="0.68"/><circle cx="193.5" cy="360.7" r="0.68"/><circle cx="195.2" cy="393.1" r="0.68"/><circle cx="192.7" cy="375.0" r="0.68"/><circle cx="190.4" cy="386.9" r="0.68"/><circle cx="194.1" cy="372.5" r="0.68"/><circle cx="185.5" cy="392.3" r="0.68"/><circle cx="195.6" cy="369.1" r="0.68"/><circle cx="189.8" cy="352.4" r="0.68"/><circle cx="190.8" cy="377.6" r="0.68"/><circle cx="189.0" cy="366.2" r="0.68"/><circle cx="194.9" cy="373.8" r="0.68"/><circle cx="196.3" cy="376.1" r="0.68"/><circle cx="193.9" cy="374.0" r="0.68"/><circle cx="186.1" cy="366.1" r="0.68"/><circle cx="188.8" cy="370.2" r="0.68"/><circle cx="197.6" cy="383.2" r="0.68"/><circle cx="187.4" cy="367.4" r="0.68"/><circle cx="196.4" cy="358.6" r="0.68"/><circle cx="186.2" cy="377.8" r="0.68"/><circle cx="184.8" cy="379.3" r="0.68"/><circle cx="190.6" cy="361.8" r="0.68"/><circle cx="197.7" cy="358.4" r="0.68"/><circle cx="191.5" cy="381.5" r="0.68"/><circle cx="195.5" cy="367.4" r="0.68"/><circle cx="185.9" cy="360.4" r="0.68"/><circle cx="192.8" cy="371.6" r="0.68"/><circle cx="187.3" cy="364.4" r="0.68"/><circle cx="189.4" cy="367.7" r="0.68"/><circle cx="192.9" cy="376.5" r="0.68"/><circle cx="192.6" cy="359.6" r="0.68"/><circle cx="196.4" cy="370.4" r="0.68"/><circle cx="191.3" cy="361.5" r="0.68"/><circle cx="198.4" cy="381.4" r="0.68"/><circle cx="187.7" cy="362.8" r="0.68"/><circle cx="188.1" cy="384.5" r="0.68"/><circle cx="188.1" cy="370.0" r="0.68"/><circle cx="185.3" cy="355.6" r="0.68"/><circle cx="194.6" cy="376.0" r="0.68"/><circle cx="190.6" cy="361.1" r="0.68"/><circle cx="198.4" cy="360.1" r="0.68"/><circle cx="197.4" cy="361.1" r="0.68"/><circle cx="187.7" cy="358.0" r="0.68"/><circle cx="195.2" cy="374.9" r="0.68"/><circle cx="196.5" cy="378.3" r="0.68"/><circle cx="184.9" cy="376.7" r="0.68"/><circle cx="192.3" cy="366.8" r="0.68"/><circle cx="189.2" cy="356.5" r="0.68"/><circle cx="195.3" cy="385.0" r="0.68"/><circle cx="195.9" cy="390.3" r="0.68"/><circle cx="187.5" cy="385.1" r="0.68"/><circle cx="187.2" cy="381.2" r="0.68"/><circle cx="186.1" cy="355.1" r="0.68"/><circle cx="195.3" cy="368.2" r="0.68"/><circle cx="197.6" cy="348.5" r="0.68"/><circle cx="194.3" cy="358.6" r="0.68"/><circle cx="194.7" cy="351.7" r="0.68"/><circle cx="188.6" cy="388.9" r="0.68"/><circle cx="188.2" cy="381.2" r="0.68"/><circle cx="188.0" cy="356.2" r="0.68"/><circle cx="188.0" cy="383.3" r="0.68"/><circle cx="188.6" cy="373.4" r="0.68"/><circle cx="191.3" cy="371.9" r="0.68"/><circle cx="188.3" cy="376.9" r="0.68"/><circle cx="191.7" cy="369.8" r="0.68"/><circle cx="196.9" cy="379.2" r="0.68"/><circle cx="196.6" cy="381.7" r="0.68"/><circle cx="193.1" cy="387.3" r="0.68"/><circle cx="192.0" cy="352.3" r="0.68"/><circle cx="193.8" cy="366.4" r="0.68"/><circle cx="188.1" cy="385.8" r="0.68"/><circle cx="185.2" cy="361.4" r="0.68"/><circle cx="195.7" cy="380.0" r="0.68"/><circle cx="187.7" cy="367.4" r="0.68"/><circle cx="194.8" cy="360.4" r="0.68"/><circle cx="197.9" cy="374.6" r="0.68"/><circle cx="189.4" cy="355.7" r="0.68"/><circle cx="187.7" cy="371.4" r="0.68"/><circle cx="197.8" cy="376.2" r="0.68"/><circle cx="193.8" cy="370.1" r="0.68"/><circle cx="185.9" cy="389.7" r="0.68"/><circle cx="192.5" cy="380.6" r="0.68"/><circle cx="188.8" cy="392.0" r="0.68"/><circle cx="196.9" cy="390.7" r="0.68"/><circle cx="185.4" cy="384.6" r="0.68"/><circle cx="184.8" cy="377.1" r="0.68"/><circle cx="194.2" cy="356.5" r="0.68"/><circle cx="191.9" cy="381.9" r="0.68"/><circle cx="185.5" cy="354.6" r="0.68"/><circle cx="191.9" cy="364.1" r="0.68"/><circle cx="189.5" cy="370.6" r="0.68"/><circle cx="194.5" cy="363.6" r="0.68"/><circle cx="190.4" cy="372.0" r="0.68"/><circle cx="191.4" cy="366.9" r="0.68"/><circle cx="192.4" cy="372.3" r="0.68"/><circle cx="186.3" cy="383.6" r="0.68"/><circle cx="188.7" cy="369.2" r="0.68"/><circle cx="197.8" cy="362.0" r="0.68"/><circle cx="198.4" cy="384.2" r="0.68"/><circle cx="196.7" cy="391.8" r="0.68"/><circle cx="197.8" cy="363.1" r="0.68"/><circle cx="192.8" cy="382.5" r="0.68"/><circle cx="194.2" cy="373.3" r="0.68"/><circle cx="197.7" cy="358.8" r="0.68"/><circle cx="185.6" cy="360.7" r="0.68"/><circle cx="184.9" cy="368.2" r="0.68"/><circle cx="198.1" cy="386.1" r="0.68"/><circle cx="184.7" cy="383.9" r="0.68"/><circle cx="194.2" cy="388.9" r="0.68"/><circle cx="191.8" cy="375.4" r="0.68"/><circle cx="196.0" cy="353.4" r="0.68"/><circle cx="184.4" cy="361.8" r="0.68"/><circle cx="198.3" cy="386.8" r="0.68"/><circle cx="196.3" cy="378.7" r="0.68"/><circle cx="189.4" cy="362.5" r="0.68"/><circle cx="184.6" cy="376.5" r="0.68"/><circle cx="192.8" cy="372.9" r="0.68"/><circle cx="191.9" cy="362.3" r="0.68"/><circle cx="190.9" cy="362.3" r="0.68"/><circle cx="187.8" cy="383.8" r="0.68"/><circle cx="186.5" cy="376.2" r="0.68"/><circle cx="188.0" cy="366.7" r="0.68"/><circle cx="189.2" cy="350.1" r="0.68"/><circle cx="187.8" cy="374.1" r="0.68"/><circle cx="191.9" cy="366.5" r="0.68"/><circle cx="188.0" cy="363.9" r="0.68"/><circle cx="187.7" cy="376.2" r="0.68"/><circle cx="188.7" cy="366.4" r="0.68"/><circle cx="194.0" cy="362.3" r="0.68"/><circle cx="195.7" cy="384.9" r="0.68"/><circle cx="195.3" cy="367.1" r="0.68"/><circle cx="187.9" cy="370.7" r="0.68"/><circle cx="198.6" cy="373.9" r="0.68"/><circle cx="189.7" cy="381.3" r="0.68"/><circle cx="198.6" cy="354.8" r="0.68"/><circle cx="189.9" cy="387.8" r="0.68"/><circle cx="195.6" cy="382.6" r="0.68"/><circle cx="189.2" cy="384.2" r="0.68"/><circle cx="188.5" cy="374.2" r="0.68"/><circle cx="192.9" cy="360.1" r="0.68"/><circle cx="196.1" cy="371.2" r="0.68"/><circle cx="184.6" cy="357.7" r="0.68"/><circle cx="185.3" cy="359.7" r="0.68"/><circle cx="197.5" cy="372.1" r="0.68"/><circle cx="197.0" cy="375.9" r="0.68"/><circle cx="198.1" cy="376.9" r="0.68"/><circle cx="197.7" cy="379.6" r="0.68"/><circle cx="186.4" cy="367.2" r="0.68"/><circle cx="187.2" cy="365.3" r="0.68"/><circle cx="186.3" cy="342.3" r="0.68"/><circle cx="194.8" cy="360.6" r="0.68"/><circle cx="198.0" cy="348.5" r="0.68"/><circle cx="186.1" cy="360.3" r="0.68"/><circle cx="188.3" cy="374.5" r="0.68"/><circle cx="187.0" cy="375.3" r="0.68"/><circle cx="189.4" cy="370.2" r="0.68"/><circle cx="187.0" cy="379.5" r="0.68"/><circle cx="186.2" cy="374.4" r="0.68"/><circle cx="192.5" cy="356.5" r="0.68"/><circle cx="195.3" cy="369.4" r="0.68"/><circle cx="185.6" cy="341.9" r="0.68"/><circle cx="187.6" cy="366.9" r="0.68"/><circle cx="195.3" cy="379.0" r="0.68"/><circle cx="197.6" cy="375.6" r="0.68"/><circle cx="189.1" cy="364.6" r="0.68"/><circle cx="192.5" cy="371.8" r="0.68"/><circle cx="198.3" cy="365.8" r="0.68"/><circle cx="191.0" cy="387.6" r="0.68"/><circle cx="191.1" cy="352.6" r="0.68"/><circle cx="187.1" cy="357.3" r="0.68"/><circle cx="184.7" cy="360.0" r="0.68"/><circle cx="185.1" cy="372.7" r="0.68"/><circle cx="186.7" cy="359.3" r="0.68"/><circle cx="187.4" cy="378.9" r="0.68"/><circle cx="184.7" cy="385.2" r="0.68"/><circle cx="191.5" cy="375.1" r="0.68"/><circle cx="193.7" cy="388.1" r="0.68"/><circle cx="184.6" cy="364.2" r="0.68"/><circle cx="188.8" cy="373.3" r="0.68"/><circle cx="193.2" cy="378.9" r="0.68"/><circle cx="189.7" cy="373.8" r="0.68"/><circle cx="188.9" cy="354.6" r="0.68"/><circle cx="189.5" cy="374.2" r="0.68"/><circle cx="192.7" cy="346.1" r="0.68"/><circle cx="192.1" cy="392.0" r="0.68"/><circle cx="189.2" cy="343.6" r="0.68"/><circle cx="187.7" cy="394.0" r="0.68"/></g>
<line x1="192.95" y1="368.70" x2="192.95" y2="354.00" stroke="#9a9a9a" stroke-width="0.6"/>
<line x1="192.95" y1="378.50" x2="192.95" y2="393.20" stroke="#9a9a9a" stroke-width="0.6"/>
<rect x="178.30" y="368.70" width="29.30" height="9.80" fill="none" stroke="#a0a0a0" stroke-width="0.85"/>
<line x1="178.30" y1="374.10" x2="207.60" y2="374.10" stroke="#4a4a4a" stroke-width="1.0"/>
<line x1="154.20" y1="334.20" x2="192.40" y2="334.20" stroke="#bdbdbd" stroke-width="1.0"/>
<polygon points="171.00,328.30 171.56,329.83 173.19,329.89 171.90,330.89 172.35,332.46 171.00,331.55 169.65,332.46 170.10,330.89 168.81,329.89 170.44,329.83" fill="#111"/>
<polygon points="175.60,328.30 176.16,329.83 177.79,329.89 176.50,330.89 176.95,332.46 175.60,331.55 174.25,332.46 174.70,330.89 173.41,329.89 175.04,329.83" fill="#111"/>
<rect x="135.10" y="404.90" width="4.00" height="3.80" fill="#555"/>
<text x="141.70" y="408.90" font-size="6.1" text-anchor="start" fill="#222" transform="rotate(0.05 141.70 408.90)">Recovered</text>
<rect x="135.10" y="412.70" width="4.00" height="3.80" fill="#8a2a60"/>
<text x="141.70" y="416.70" font-size="6.1" text-anchor="start" fill="#222" transform="rotate(0.05 141.70 416.70)">Fatigue</text>
<line x1="243.30" y1="332.20" x2="243.30" y2="397.50" stroke="#777" stroke-width="0.8"/>
<line x1="243.30" y1="397.50" x2="325.80" y2="397.50" stroke="#777" stroke-width="0.8"/>
<line x1="241.70" y1="335.70" x2="243.30" y2="335.70" stroke="#777" stroke-width="0.6"/>
<text x="234.06" y="337.93" font-size="6.2" text-anchor="end" fill="#1c1c1c" transform="rotate(0.05 234.06 337.93)">2</text>
<text x="239.40" y="334.83" font-size="3.84" text-anchor="end" fill="#1c1c1c" transform="rotate(0.05 239.40 334.83)">2.5</text>
<line x1="241.70" y1="351.50" x2="243.30" y2="351.50" stroke="#777" stroke-width="0.6"/>
<text x="234.06" y="353.73" font-size="6.2" text-anchor="end" fill="#1c1c1c" transform="rotate(0.05 234.06 353.73)">2</text>
<text x="239.40" y="350.63" font-size="3.84" text-anchor="end" fill="#1c1c1c" transform="rotate(0.05 239.40 350.63)">2.0</text>
<line x1="241.70" y1="367.60" x2="243.30" y2="367.60" stroke="#777" stroke-width="0.6"/>
<text x="234.06" y="369.83" font-size="6.2" text-anchor="end" fill="#1c1c1c" transform="rotate(0.05 234.06 369.83)">2</text>
<text x="239.40" y="366.73" font-size="3.84" text-anchor="end" fill="#1c1c1c" transform="rotate(0.05 239.40 366.73)">1.5</text>
<line x1="241.70" y1="384.20" x2="243.30" y2="384.20" stroke="#777" stroke-width="0.6"/>
<text x="234.06" y="386.43" font-size="6.2" text-anchor="end" fill="#1c1c1c" transform="rotate(0.05 234.06 386.43)">2</text>
<text x="239.40" y="383.33" font-size="3.84" text-anchor="end" fill="#1c1c1c" transform="rotate(0.05 239.40 383.33)">1.0</text>
<text x="0" y="0" font-size="5.2" text-anchor="middle" fill="#1c1c1c" transform="translate(226.30,366.20) rotate(-90)">IL-1R2 (NPX)</text>
<g fill="#4f4f4f" fill-opacity="0.95"><circle cx="271.0" cy="391.5" r="0.68"/><circle cx="261.5" cy="372.2" r="0.68"/><circle cx="263.2" cy="356.2" r="0.68"/><circle cx="261.7" cy="376.8" r="0.68"/><circle cx="267.1" cy="377.1" r="0.68"/><circle cx="261.5" cy="372.5" r="0.68"/><circle cx="260.7" cy="383.8" r="0.68"/><circle cx="268.5" cy="376.0" r="0.68"/><circle cx="266.0" cy="372.5" r="0.68"/><circle cx="271.6" cy="385.9" r="0.68"/><circle cx="259.4" cy="370.7" r="0.68"/><circle cx="266.0" cy="377.3" r="0.68"/><circle cx="267.7" cy="376.8" r="0.68"/><circle cx="265.5" cy="387.7" r="0.68"/><circle cx="265.8" cy="385.4" r="0.68"/><circle cx="267.9" cy="382.7" r="0.68"/><circle cx="265.2" cy="384.0" r="0.68"/><circle cx="260.5" cy="376.9" r="0.68"/><circle cx="270.3" cy="379.7" r="0.68"/><circle cx="269.9" cy="372.8" r="0.68"/><circle cx="266.1" cy="377.5" r="0.68"/><circle cx="271.9" cy="369.4" r="0.68"/><circle cx="265.9" cy="382.3" r="0.68"/><circle cx="270.5" cy="371.8" r="0.68"/><circle cx="266.0" cy="378.7" r="0.68"/><circle cx="262.2" cy="375.3" r="0.68"/><circle cx="270.4" cy="382.1" r="0.68"/><circle cx="271.5" cy="384.9" r="0.68"/><circle cx="268.4" cy="358.2" r="0.68"/><circle cx="270.1" cy="381.5" r="0.68"/><circle cx="270.0" cy="366.6" r="0.68"/><circle cx="263.4" cy="384.2" r="0.68"/><circle cx="262.6" cy="390.3" r="0.68"/><circle cx="266.2" cy="379.4" r="0.68"/><circle cx="263.9" cy="377.2" r="0.68"/><circle cx="271.4" cy="380.7" r="0.68"/><circle cx="271.7" cy="368.0" r="0.68"/><circle cx="268.2" cy="376.3" r="0.68"/><circle cx="260.8" cy="375.8" r="0.68"/><circle cx="263.5" cy="393.1" r="0.68"/><circle cx="261.9" cy="376.3" r="0.68"/><circle cx="272.4" cy="373.6" r="0.68"/><circle cx="267.6" cy="366.1" r="0.68"/><circle cx="260.2" cy="386.5" r="0.68"/><circle cx="270.9" cy="386.6" r="0.68"/><circle cx="270.9" cy="379.5" r="0.68"/><circle cx="266.9" cy="364.8" r="0.68"/><circle cx="265.9" cy="388.0" r="0.68"/><circle cx="264.5" cy="374.2" r="0.68"/><circle cx="261.5" cy="377.0" r="0.68"/><circle cx="269.9" cy="379.3" r="0.68"/><circle cx="269.6" cy="379.5" r="0.68"/><circle cx="268.6" cy="388.8" r="0.68"/><circle cx="263.0" cy="371.5" r="0.68"/><circle cx="261.9" cy="377.3" r="0.68"/><circle cx="271.8" cy="371.1" r="0.68"/><circle cx="263.8" cy="368.8" r="0.68"/><circle cx="263.2" cy="392.8" r="0.68"/><circle cx="272.0" cy="370.6" r="0.68"/><circle cx="269.6" cy="363.8" r="0.68"/><circle cx="263.8" cy="364.8" r="0.68"/><circle cx="265.8" cy="376.3" r="0.68"/><circle cx="259.9" cy="387.0" r="0.68"/><circle cx="265.6" cy="384.0" r="0.68"/><circle cx="269.2" cy="370.9" r="0.68"/><circle cx="267.1" cy="378.0" r="0.68"/><circle cx="262.6" cy="383.0" r="0.68"/><circle cx="260.1" cy="376.7" r="0.68"/><circle cx="264.1" cy="380.5" r="0.68"/><circle cx="267.8" cy="359.8" r="0.68"/><circle cx="264.9" cy="374.9" r="0.68"/><circle cx="265.7" cy="373.4" r="0.68"/><circle cx="272.1" cy="381.0" r="0.68"/><circle cx="268.5" cy="383.8" r="0.68"/><circle cx="269.5" cy="383.5" r="0.68"/><circle cx="271.8" cy="367.8" r="0.68"/><circle cx="271.3" cy="374.3" r="0.68"/><circle cx="272.6" cy="377.9" r="0.68"/><circle cx="266.4" cy="387.4" r="0.68"/><circle cx="260.2" cy="382.8" r="0.68"/><circle cx="261.4" cy="389.9" r="0.68"/><circle cx="268.9" cy="372.3" r="0.68"/><circle cx="269.0" cy="376.1" r="0.68"/><circle cx="267.9" cy="372.6" r="0.68"/><circle cx="268.7" cy="389.6" r="0.68"/><circle cx="260.8" cy="370.3" r="0.68"/><circle cx="265.7" cy="380.1" r="0.68"/><circle cx="260.1" cy="393.1" r="0.68"/><circle cx="260.3" cy="373.6" r="0.68"/><circle cx="265.2" cy="376.6" r="0.68"/><circle cx="261.1" cy="389.5" r="0.68"/><circle cx="269.2" cy="369.2" r="0.68"/><circle cx="264.7" cy="382.4" r="0.68"/><circle cx="267.5" cy="371.3" r="0.68"/><circle cx="260.0" cy="368.8" r="0.68"/><circle cx="260.1" cy="377.0" r="0.68"/><circle cx="265.7" cy="374.2" r="0.68"/><circle cx="264.6" cy="380.9" r="0.68"/><circle cx="265.6" cy="378.3" r="0.68"/><circle cx="270.6" cy="392.6" r="0.68"/><circle cx="265.8" cy="389.5" r="0.68"/><circle cx="272.4" cy="372.4" r="0.68"/><circle cx="261.0" cy="374.6" r="0.68"/><circle cx="270.8" cy="376.2" r="0.68"/><circle cx="266.1" cy="383.0" r="0.68"/><circle cx="271.1" cy="371.6" r="0.68"/><circle cx="262.8" cy="382.0" r="0.68"/><circle cx="265.3" cy="381.0" r="0.68"/><circle cx="264.2" cy="366.5" r="0.68"/><circle cx="263.6" cy="370.4" r="0.68"/><circle cx="267.6" cy="381.2" r="0.68"/><circle cx="269.6" cy="372.6" r="0.68"/><circle cx="265.4" cy="381.4" r="0.68"/><circle cx="265.4" cy="362.7" r="0.68"/><circle cx="264.4" cy="380.6" r="0.68"/><circle cx="269.8" cy="365.6" r="0.68"/><circle cx="269.2" cy="368.8" r="0.68"/><circle cx="263.3" cy="384.5" r="0.68"/><circle cx="268.1" cy="375.0" r="0.68"/><circle cx="268.2" cy="359.8" r="0.68"/><circle cx="262.4" cy="367.9" r="0.68"/><circle cx="269.6" cy="382.3" r="0.68"/><circle cx="263.9" cy="357.5" r="0.68"/><circle cx="268.8" cy="372.9" r="0.68"/><circle cx="269.5" cy="385.7" r="0.68"/><circle cx="262.8" cy="378.8" r="0.68"/><circle cx="264.7" cy="374.0" r="0.68"/><circle cx="272.5" cy="374.5" r="0.68"/><circle cx="260.2" cy="383.5" r="0.68"/><circle cx="267.1" cy="393.6" r="0.68"/><circle cx="264.6" cy="384.2" r="0.68"/><circle cx="267.2" cy="365.0" r="0.68"/><circle cx="269.3" cy="375.0" r="0.68"/><circle cx="267.0" cy="365.6" r="0.68"/><circle cx="266.8" cy="377.9" r="0.68"/><circle cx="266.6" cy="389.7" r="0.68"/><circle cx="269.7" cy="382.0" r="0.68"/><circle cx="263.7" cy="377.7" r="0.68"/><circle cx="263.0" cy="375.3" r="0.68"/><circle cx="266.9" cy="359.7" r="0.68"/><circle cx="261.6" cy="369.3" r="0.68"/><circle cx="267.7" cy="376.4" r="0.68"/><circle cx="263.2" cy="386.7" r="0.68"/><circle cx="270.0" cy="371.1" r="0.68"/><circle cx="267.4" cy="374.3" r="0.68"/><circle cx="265.5" cy="380.0" r="0.68"/><circle cx="266.9" cy="373.7" r="0.68"/><circle cx="269.4" cy="384.7" r="0.68"/><circle cx="260.4" cy="376.0" r="0.68"/><circle cx="268.5" cy="374.4" r="0.68"/><circle cx="270.3" cy="388.9" r="0.68"/><circle cx="264.1" cy="373.6" r="0.68"/><circle cx="266.5" cy="382.1" r="0.68"/><circle cx="268.1" cy="385.2" r="0.68"/><circle cx="261.4" cy="379.1" r="0.68"/><circle cx="271.7" cy="372.3" r="0.68"/><circle cx="262.7" cy="392.1" r="0.68"/><circle cx="260.5" cy="379.6" r="0.68"/><circle cx="269.9" cy="381.4" r="0.68"/><circle cx="265.9" cy="377.6" r="0.68"/><circle cx="268.6" cy="372.1" r="0.68"/><circle cx="270.7" cy="391.6" r="0.68"/><circle cx="262.2" cy="380.4" r="0.68"/><circle cx="263.8" cy="374.6" r="0.68"/><circle cx="271.0" cy="366.8" r="0.68"/><circle cx="263.5" cy="379.7" r="0.68"/><circle cx="265.2" cy="386.3" r="0.68"/><circle cx="267.4" cy="381.7" r="0.68"/><circle cx="272.4" cy="368.9" r="0.68"/><circle cx="267.6" cy="378.9" r="0.68"/><circle cx="261.4" cy="383.2" r="0.68"/><circle cx="265.2" cy="384.7" r="0.68"/><circle cx="265.1" cy="376.5" r="0.68"/><circle cx="268.3" cy="385.8" r="0.68"/><circle cx="261.7" cy="363.2" r="0.68"/><circle cx="262.3" cy="370.7" r="0.68"/><circle cx="271.1" cy="387.3" r="0.68"/><circle cx="264.2" cy="381.7" r="0.68"/><circle cx="262.4" cy="374.1" r="0.68"/><circle cx="268.6" cy="377.5" r="0.68"/><circle cx="260.2" cy="375.7" r="0.68"/><circle cx="267.1" cy="383.1" r="0.68"/><circle cx="260.7" cy="370.1" r="0.68"/><circle cx="272.4" cy="384.7" r="0.68"/><circle cx="267.3" cy="379.9" r="0.68"/><circle cx="260.7" cy="379.7" r="0.68"/><circle cx="259.7" cy="375.9" r="0.68"/><circle cx="263.0" cy="376.5" r="0.68"/><circle cx="268.2" cy="373.6" r="0.68"/><circle cx="265.6" cy="375.8" r="0.68"/><circle cx="263.2" cy="371.7" r="0.68"/><circle cx="264.2" cy="371.4" r="0.68"/><circle cx="262.7" cy="375.3" r="0.68"/><circle cx="259.6" cy="376.5" r="0.68"/><circle cx="263.5" cy="383.6" r="0.68"/><circle cx="260.9" cy="373.0" r="0.68"/><circle cx="270.6" cy="374.7" r="0.68"/><circle cx="263.5" cy="369.1" r="0.68"/><circle cx="271.1" cy="379.7" r="0.68"/><circle cx="268.1" cy="378.3" r="0.68"/><circle cx="268.5" cy="367.5" r="0.68"/><circle cx="264.5" cy="370.2" r="0.68"/><circle cx="266.1" cy="378.0" r="0.68"/><circle cx="266.4" cy="368.9" r="0.68"/><circle cx="269.8" cy="379.8" r="0.68"/><circle cx="259.7" cy="382.2" r="0.68"/><circle cx="263.4" cy="374.6" r="0.68"/><circle cx="267.6" cy="391.1" r="0.68"/><circle cx="263.2" cy="380.7" r="0.68"/><circle cx="270.4" cy="383.5" r="0.68"/><circle cx="268.4" cy="392.1" r="0.68"/><circle cx="265.4" cy="373.5" r="0.68"/><circle cx="264.6" cy="366.4" r="0.68"/><circle cx="272.5" cy="363.3" r="0.68"/><circle cx="271.5" cy="372.9" r="0.68"/><circle cx="262.7" cy="379.5" r="0.68"/><circle cx="272.2" cy="375.4" r="0.68"/><circle cx="263.5" cy="369.3" r="0.68"/><circle cx="270.8" cy="375.5" r="0.68"/><circle cx="260.4" cy="375.6" r="0.68"/><circle cx="261.4" cy="379.2" r="0.68"/><circle cx="264.5" cy="377.9" r="0.68"/><circle cx="266.8" cy="375.7" r="0.68"/><circle cx="271.8" cy="375.2" r="0.68"/><circle cx="267.2" cy="366.2" r="0.68"/><circle cx="267.1" cy="383.0" r="0.68"/><circle cx="271.3" cy="381.9" r="0.68"/><circle cx="268.3" cy="385.4" r="0.68"/><circle cx="266.6" cy="379.7" r="0.68"/><circle cx="267.0" cy="358.1" r="0.68"/><circle cx="259.6" cy="393.6" r="0.68"/><circle cx="268.1" cy="357.2" r="0.68"/><circle cx="260.4" cy="393.2" r="0.68"/></g>
<line x1="266.05" y1="374.20" x2="266.05" y2="361.00" stroke="#9a9a9a" stroke-width="0.6"/>
<line x1="266.05" y1="383.00" x2="266.05" y2="394.00" stroke="#9a9a9a" stroke-width="0.6"/>
<rect x="251.20" y="374.20" width="29.70" height="8.80" fill="none" stroke="#a0a0a0" stroke-width="0.85"/>
<line x1="251.20" y1="379.50" x2="280.90" y2="379.50" stroke="#4a4a4a" stroke-width="1.0"/>
<g fill="#f7a11a" fill-opacity="0.95"><circle cx="307.3" cy="385.5" r="0.75"/><circle cx="304.7" cy="368.1" r="0.75"/><circle cx="300.9" cy="386.2" r="0.75"/><circle cx="307.9" cy="383.8" r="0.75"/><circle cx="298.2" cy="375.1" r="0.75"/><circle cx="297.9" cy="365.3" r="0.75"/><circle cx="300.1" cy="378.3" r="0.75"/><circle cx="297.9" cy="373.3" r="0.75"/><circle cx="309.8" cy="381.7" r="0.75"/><circle cx="301.6" cy="384.8" r="0.75"/><circle cx="299.9" cy="376.2" r="0.75"/><circle cx="305.6" cy="392.0" r="0.75"/><circle cx="298.1" cy="364.6" r="0.75"/><circle cx="304.7" cy="366.1" r="0.75"/><circle cx="300.7" cy="367.3" r="0.75"/><circle cx="306.7" cy="387.0" r="0.75"/><circle cx="309.9" cy="380.7" r="0.75"/><circle cx="300.6" cy="385.6" r="0.75"/><circle cx="306.1" cy="374.2" r="0.75"/><circle cx="300.5" cy="381.7" r="0.75"/><circle cx="301.2" cy="379.1" r="0.75"/><circle cx="310.0" cy="384.0" r="0.75"/><circle cx="306.1" cy="367.9" r="0.75"/><circle cx="306.7" cy="372.2" r="0.75"/><circle cx="303.8" cy="372.0" r="0.75"/><circle cx="302.4" cy="385.7" r="0.75"/><circle cx="304.3" cy="380.4" r="0.75"/><circle cx="310.1" cy="378.8" r="0.75"/><circle cx="302.3" cy="377.6" r="0.75"/><circle cx="305.1" cy="375.1" r="0.75"/><circle cx="309.2" cy="381.0" r="0.75"/><circle cx="303.9" cy="381.0" r="0.75"/><circle cx="307.3" cy="385.5" r="0.75"/><circle cx="299.9" cy="372.2" r="0.75"/><circle cx="306.8" cy="374.9" r="0.75"/><circle cx="297.9" cy="391.1" r="0.75"/><circle cx="299.9" cy="384.5" r="0.75"/><circle cx="305.4" cy="363.7" r="0.75"/><circle cx="307.0" cy="380.1" r="0.75"/><circle cx="298.2" cy="377.9" r="0.75"/><circle cx="308.1" cy="365.7" r="0.75"/><circle cx="298.0" cy="379.9" r="0.75"/><circle cx="297.9" cy="380.8" r="0.75"/><circle cx="298.6" cy="382.6" r="0.75"/><circle cx="298.1" cy="372.2" r="0.75"/><circle cx="309.2" cy="383.2" r="0.75"/><circle cx="298.0" cy="369.1" r="0.75"/><circle cx="299.9" cy="382.0" r="0.75"/><circle cx="298.9" cy="381.3" r="0.75"/><circle cx="299.7" cy="380.5" r="0.75"/><circle cx="299.7" cy="387.9" r="0.75"/><circle cx="299.4" cy="370.3" r="0.75"/><circle cx="304.8" cy="375.5" r="0.75"/><circle cx="303.6" cy="370.0" r="0.75"/><circle cx="298.0" cy="376.7" r="0.75"/><circle cx="301.8" cy="373.5" r="0.75"/><circle cx="297.6" cy="373.9" r="0.75"/><circle cx="302.5" cy="385.1" r="0.75"/><circle cx="304.4" cy="370.9" r="0.75"/><circle cx="302.4" cy="381.0" r="0.75"/><circle cx="306.6" cy="375.6" r="0.75"/><circle cx="309.1" cy="369.3" r="0.75"/><circle cx="298.0" cy="386.0" r="0.75"/><circle cx="307.1" cy="375.7" r="0.75"/><circle cx="307.5" cy="383.5" r="0.75"/><circle cx="299.9" cy="372.0" r="0.75"/><circle cx="302.5" cy="361.8" r="0.75"/><circle cx="298.9" cy="385.2" r="0.75"/><circle cx="310.0" cy="367.4" r="0.75"/><circle cx="302.1" cy="376.2" r="0.75"/><circle cx="305.2" cy="362.9" r="0.75"/><circle cx="304.9" cy="393.5" r="0.75"/><circle cx="308.9" cy="373.1" r="0.75"/><circle cx="305.9" cy="392.3" r="0.75"/><circle cx="309.8" cy="376.9" r="0.75"/><circle cx="304.7" cy="382.0" r="0.75"/><circle cx="299.2" cy="383.4" r="0.75"/><circle cx="305.5" cy="377.6" r="0.75"/><circle cx="301.1" cy="374.5" r="0.75"/><circle cx="300.0" cy="372.7" r="0.75"/><circle cx="303.2" cy="386.8" r="0.75"/><circle cx="300.9" cy="391.7" r="0.75"/><circle cx="302.2" cy="360.8" r="0.75"/><circle cx="308.4" cy="375.4" r="0.75"/><circle cx="300.0" cy="372.7" r="0.75"/><circle cx="297.5" cy="371.0" r="0.75"/><circle cx="297.5" cy="374.8" r="0.75"/><circle cx="301.0" cy="384.1" r="0.75"/><circle cx="310.2" cy="377.1" r="0.75"/><circle cx="306.7" cy="375.3" r="0.75"/><circle cx="300.5" cy="375.0" r="0.75"/><circle cx="308.5" cy="365.8" r="0.75"/><circle cx="309.5" cy="378.5" r="0.75"/><circle cx="302.6" cy="371.6" r="0.75"/><circle cx="301.5" cy="380.3" r="0.75"/><circle cx="306.3" cy="376.6" r="0.75"/><circle cx="299.4" cy="369.1" r="0.75"/><circle cx="300.1" cy="381.3" r="0.75"/><circle cx="305.4" cy="359.0" r="0.75"/><circle cx="302.8" cy="378.1" r="0.75"/><circle cx="299.8" cy="378.8" r="0.75"/><circle cx="306.1" cy="375.9" r="0.75"/><circle cx="309.9" cy="367.9" r="0.75"/><circle cx="298.0" cy="380.4" r="0.75"/><circle cx="303.4" cy="378.3" r="0.75"/><circle cx="304.5" cy="382.5" r="0.75"/><circle cx="308.5" cy="367.5" r="0.75"/><circle cx="305.7" cy="374.6" r="0.75"/><circle cx="297.8" cy="379.8" r="0.75"/><circle cx="299.6" cy="377.3" r="0.75"/><circle cx="298.3" cy="379.0" r="0.75"/><circle cx="305.2" cy="373.4" r="0.75"/><circle cx="308.0" cy="376.3" r="0.75"/><circle cx="306.1" cy="375.0" r="0.75"/><circle cx="306.8" cy="380.4" r="0.75"/><circle cx="305.0" cy="384.6" r="0.75"/><circle cx="308.5" cy="371.0" r="0.75"/><circle cx="301.2" cy="368.5" r="0.75"/><circle cx="307.4" cy="359.8" r="0.75"/><circle cx="297.6" cy="371.7" r="0.75"/><circle cx="303.6" cy="371.1" r="0.75"/><circle cx="304.0" cy="376.2" r="0.75"/><circle cx="304.0" cy="387.8" r="0.75"/><circle cx="305.3" cy="381.0" r="0.75"/><circle cx="306.2" cy="378.5" r="0.75"/><circle cx="301.2" cy="391.2" r="0.75"/><circle cx="303.3" cy="376.3" r="0.75"/><circle cx="302.5" cy="364.3" r="0.75"/><circle cx="309.3" cy="376.5" r="0.75"/><circle cx="303.6" cy="369.9" r="0.75"/><circle cx="302.1" cy="377.8" r="0.75"/><circle cx="302.6" cy="379.5" r="0.75"/><circle cx="298.5" cy="377.0" r="0.75"/><circle cx="299.4" cy="375.2" r="0.75"/><circle cx="302.9" cy="373.4" r="0.75"/><circle cx="303.2" cy="367.4" r="0.75"/><circle cx="301.3" cy="369.8" r="0.75"/><circle cx="300.2" cy="367.0" r="0.75"/><circle cx="297.6" cy="389.4" r="0.75"/><circle cx="299.2" cy="383.9" r="0.75"/><circle cx="299.2" cy="371.7" r="0.75"/><circle cx="298.3" cy="387.3" r="0.75"/><circle cx="306.1" cy="369.5" r="0.75"/><circle cx="305.2" cy="379.0" r="0.75"/><circle cx="298.2" cy="385.5" r="0.75"/><circle cx="299.3" cy="383.6" r="0.75"/><circle cx="307.5" cy="374.5" r="0.75"/><circle cx="305.8" cy="378.7" r="0.75"/><circle cx="303.5" cy="378.4" r="0.75"/><circle cx="300.1" cy="388.5" r="0.75"/><circle cx="298.1" cy="369.7" r="0.75"/><circle cx="301.4" cy="370.7" r="0.75"/><circle cx="309.2" cy="372.2" r="0.75"/><circle cx="298.4" cy="380.0" r="0.75"/><circle cx="309.3" cy="388.1" r="0.75"/><circle cx="301.6" cy="387.5" r="0.75"/><circle cx="306.8" cy="373.9" r="0.75"/><circle cx="298.0" cy="388.7" r="0.75"/><circle cx="304.0" cy="369.8" r="0.75"/><circle cx="309.7" cy="383.4" r="0.75"/><circle cx="308.6" cy="384.7" r="0.75"/><circle cx="301.6" cy="377.1" r="0.75"/><circle cx="299.7" cy="387.1" r="0.75"/><circle cx="301.8" cy="376.5" r="0.75"/><circle cx="302.9" cy="365.1" r="0.75"/><circle cx="303.4" cy="373.2" r="0.75"/><circle cx="299.0" cy="366.3" r="0.75"/><circle cx="308.1" cy="381.0" r="0.75"/><circle cx="303.9" cy="379.8" r="0.75"/><circle cx="302.2" cy="372.9" r="0.75"/><circle cx="299.8" cy="371.7" r="0.75"/><circle cx="299.1" cy="387.8" r="0.75"/><circle cx="306.5" cy="375.5" r="0.75"/><circle cx="307.4" cy="369.1" r="0.75"/><circle cx="305.3" cy="371.4" r="0.75"/><circle cx="302.7" cy="392.1" r="0.75"/><circle cx="305.8" cy="363.9" r="0.75"/><circle cx="302.2" cy="371.9" r="0.75"/><circle cx="305.8" cy="382.8" r="0.75"/><circle cx="308.3" cy="373.1" r="0.75"/><circle cx="307.7" cy="383.0" r="0.75"/><circle cx="302.4" cy="370.9" r="0.75"/><circle cx="305.7" cy="364.9" r="0.75"/><circle cx="298.8" cy="377.0" r="0.75"/><circle cx="307.7" cy="384.0" r="0.75"/><circle cx="302.3" cy="383.0" r="0.75"/><circle cx="299.0" cy="374.2" r="0.75"/><circle cx="308.9" cy="384.1" r="0.75"/><circle cx="298.6" cy="385.9" r="0.75"/><circle cx="300.4" cy="376.7" r="0.75"/><circle cx="308.7" cy="390.5" r="0.75"/><circle cx="300.1" cy="372.2" r="0.75"/><circle cx="301.2" cy="384.2" r="0.75"/><circle cx="306.8" cy="371.9" r="0.75"/><circle cx="297.9" cy="379.9" r="0.75"/><circle cx="301.7" cy="368.8" r="0.75"/><circle cx="300.0" cy="367.3" r="0.75"/><circle cx="307.6" cy="379.3" r="0.75"/><circle cx="305.2" cy="379.2" r="0.75"/><circle cx="305.2" cy="385.8" r="0.75"/><circle cx="301.6" cy="377.8" r="0.75"/><circle cx="302.0" cy="385.2" r="0.75"/><circle cx="309.9" cy="378.8" r="0.75"/><circle cx="308.6" cy="366.9" r="0.75"/><circle cx="304.9" cy="391.0" r="0.75"/><circle cx="298.7" cy="387.2" r="0.75"/><circle cx="304.6" cy="387.3" r="0.75"/><circle cx="302.8" cy="379.9" r="0.75"/><circle cx="299.5" cy="379.0" r="0.75"/><circle cx="309.0" cy="387.5" r="0.75"/><circle cx="309.7" cy="376.5" r="0.75"/><circle cx="305.8" cy="358.6" r="0.75"/><circle cx="307.5" cy="393.6" r="0.75"/><circle cx="299.5" cy="357.1" r="0.75"/><circle cx="302.8" cy="393.7" r="0.75"/></g>
<line x1="304.50" y1="371.20" x2="304.50" y2="356.50" stroke="#9a9a9a" stroke-width="0.6"/>
<line x1="304.50" y1="381.00" x2="304.50" y2="394.30" stroke="#9a9a9a" stroke-width="0.6"/>
<rect x="290.00" y="371.20" width="29.00" height="9.80" fill="none" stroke="#a0a0a0" stroke-width="0.85"/>
<line x1="290.00" y1="377.20" x2="319.00" y2="377.20" stroke="#4a4a4a" stroke-width="1.0"/>
<line x1="266.20" y1="336.40" x2="304.80" y2="336.40" stroke="#bdbdbd" stroke-width="1.0"/>
<polygon points="283.20,330.50 283.76,332.03 285.39,332.09 284.10,333.09 284.55,334.66 283.20,333.75 281.85,334.66 282.30,333.09 281.01,332.09 282.64,332.03" fill="#111"/>
<polygon points="287.80,330.50 288.36,332.03 289.99,332.09 288.70,333.09 289.15,334.66 287.80,333.75 286.45,334.66 286.90,333.09 285.61,332.09 287.24,332.03" fill="#111"/>
<rect x="248.70" y="404.20" width="4.00" height="3.80" fill="#555"/>
<text x="255.30" y="408.20" font-size="6.1" text-anchor="start" fill="#222" transform="rotate(0.05 255.30 408.20)">Recovered</text>
<rect x="248.70" y="411.70" width="4.00" height="3.80" fill="#f7a11a"/>
<text x="255.30" y="415.70" font-size="6.1" text-anchor="start" fill="#222" transform="rotate(0.05 255.30 415.70)">Anx_Dep</text>
<line x1="373.30" y1="332.70" x2="373.30" y2="397.50" stroke="#777" stroke-width="0.8"/>
<line x1="373.30" y1="397.50" x2="455.30" y2="397.50" stroke="#777" stroke-width="0.8"/>
<line x1="371.70" y1="348.40" x2="373.30" y2="348.40" stroke="#777" stroke-width="0.6"/>
<text x="367.23" y="350.67" font-size="6.3" text-anchor="end" fill="#1c1c1c" transform="rotate(0.05 367.23 350.67)">2</text>
<text x="369.40" y="347.52" font-size="3.91" text-anchor="end" fill="#1c1c1c" transform="rotate(0.05 369.40 347.52)">3</text>
<line x1="371.70" y1="369.70" x2="373.30" y2="369.70" stroke="#777" stroke-width="0.6"/>
<text x="367.23" y="371.97" font-size="6.3" text-anchor="end" fill="#1c1c1c" transform="rotate(0.05 367.23 371.97)">2</text>
<text x="369.40" y="368.82" font-size="3.91" text-anchor="end" fill="#1c1c1c" transform="rotate(0.05 369.40 368.82)">2</text>
<line x1="371.70" y1="389.90" x2="373.30" y2="389.90" stroke="#777" stroke-width="0.6"/>
<text x="367.23" y="392.17" font-size="6.3" text-anchor="end" fill="#1c1c1c" transform="rotate(0.05 367.23 392.17)">2</text>
<text x="369.40" y="389.02" font-size="3.91" text-anchor="end" fill="#1c1c1c" transform="rotate(0.05 369.40 389.02)">1</text>
<text x="0" y="0" font-size="5.6" text-anchor="middle" fill="#1c1c1c" transform="translate(358.70,363.80) rotate(-90)">MATN2 (NPX)</text>
<g fill="#4f4f4f" fill-opacity="0.95"><circle cx="398.4" cy="364.0" r="0.6"/><circle cx="396.7" cy="377.5" r="0.6"/><circle cx="390.3" cy="382.2" r="0.6"/><circle cx="391.0" cy="361.7" r="0.6"/><circle cx="402.0" cy="383.0" r="0.6"/><circle cx="393.2" cy="380.2" r="0.6"/><circle cx="396.7" cy="369.1" r="0.6"/><circle cx="392.8" cy="381.9" r="0.6"/><circle cx="400.5" cy="380.1" r="0.6"/><circle cx="399.9" cy="370.6" r="0.6"/><circle cx="390.3" cy="387.8" r="0.6"/><circle cx="401.0" cy="379.1" r="0.6"/><circle cx="399.5" cy="384.0" r="0.6"/><circle cx="397.0" cy="381.3" r="0.6"/><circle cx="396.1" cy="374.1" r="0.6"/><circle cx="391.8" cy="370.5" r="0.6"/><circle cx="398.2" cy="371.8" r="0.6"/><circle cx="390.5" cy="380.3" r="0.6"/><circle cx="396.2" cy="382.0" r="0.6"/><circle cx="396.9" cy="382.5" r="0.6"/><circle cx="400.4" cy="379.4" r="0.6"/><circle cx="400.2" cy="374.9" r="0.6"/><circle cx="402.3" cy="381.8" r="0.6"/><circle cx="400.1" cy="384.1" r="0.6"/><circle cx="401.7" cy="389.6" r="0.6"/><circle cx="391.2" cy="379.9" r="0.6"/><circle cx="392.1" cy="382.4" r="0.6"/><circle cx="395.4" cy="391.4" r="0.6"/><circle cx="390.7" cy="366.7" r="0.6"/><circle cx="397.8" cy="374.7" r="0.6"/><circle cx="398.8" cy="383.2" r="0.6"/><circle cx="395.2" cy="380.2" r="0.6"/><circle cx="395.4" cy="368.9" r="0.6"/><circle cx="398.3" cy="371.8" r="0.6"/><circle cx="398.7" cy="384.6" r="0.6"/><circle cx="391.0" cy="373.3" r="0.6"/><circle cx="389.6" cy="387.0" r="0.6"/><circle cx="389.4" cy="372.2" r="0.6"/><circle cx="390.1" cy="383.3" r="0.6"/><circle cx="400.4" cy="358.6" r="0.6"/><circle cx="389.4" cy="386.5" r="0.6"/><circle cx="393.2" cy="375.3" r="0.6"/><circle cx="390.9" cy="385.1" r="0.6"/><circle cx="394.2" cy="363.6" r="0.6"/><circle cx="391.4" cy="369.2" r="0.6"/><circle cx="399.4" cy="380.0" r="0.6"/><circle cx="392.1" cy="379.8" r="0.6"/><circle cx="390.1" cy="376.3" r="0.6"/><circle cx="391.6" cy="362.3" r="0.6"/><circle cx="399.0" cy="372.5" r="0.6"/><circle cx="393.1" cy="390.0" r="0.6"/><circle cx="395.4" cy="370.5" r="0.6"/><circle cx="399.8" cy="381.0" r="0.6"/><circle cx="401.5" cy="377.7" r="0.6"/><circle cx="397.2" cy="391.7" r="0.6"/><circle cx="391.3" cy="373.3" r="0.6"/><circle cx="399.9" cy="383.7" r="0.6"/><circle cx="390.6" cy="378.7" r="0.6"/><circle cx="400.4" cy="375.6" r="0.6"/><circle cx="398.3" cy="386.2" r="0.6"/><circle cx="400.8" cy="383.3" r="0.6"/><circle cx="395.9" cy="393.3" r="0.6"/><circle cx="393.0" cy="384.5" r="0.6"/><circle cx="394.7" cy="380.8" r="0.6"/><circle cx="400.1" cy="387.8" r="0.6"/><circle cx="390.0" cy="374.5" r="0.6"/><circle cx="393.6" cy="379.3" r="0.6"/><circle cx="392.1" cy="390.3" r="0.6"/><circle cx="394.6" cy="381.1" r="0.6"/><circle cx="396.4" cy="379.9" r="0.6"/><circle cx="393.0" cy="369.0" r="0.6"/><circle cx="389.2" cy="384.3" r="0.6"/><circle cx="395.7" cy="375.0" r="0.6"/><circle cx="394.1" cy="371.3" r="0.6"/><circle cx="393.0" cy="378.6" r="0.6"/><circle cx="393.1" cy="381.3" r="0.6"/><circle cx="395.5" cy="380.3" r="0.6"/><circle cx="389.3" cy="380.1" r="0.6"/><circle cx="395.0" cy="383.8" r="0.6"/><circle cx="396.1" cy="372.8" r="0.6"/><circle cx="399.7" cy="382.2" r="0.6"/><circle cx="396.6" cy="379.5" r="0.6"/><circle cx="399.2" cy="370.2" r="0.6"/><circle cx="395.8" cy="379.3" r="0.6"/><circle cx="401.2" cy="382.5" r="0.6"/><circle cx="398.9" cy="361.5" r="0.6"/><circle cx="396.3" cy="374.1" r="0.6"/><circle cx="396.9" cy="369.6" r="0.6"/><circle cx="400.7" cy="361.6" r="0.6"/><circle cx="389.7" cy="376.2" r="0.6"/><circle cx="397.1" cy="379.1" r="0.6"/><circle cx="401.4" cy="365.8" r="0.6"/><circle cx="394.1" cy="386.6" r="0.6"/><circle cx="401.9" cy="381.4" r="0.6"/><circle cx="391.0" cy="383.6" r="0.6"/><circle cx="399.3" cy="386.7" r="0.6"/><circle cx="393.2" cy="363.5" r="0.6"/><circle cx="401.0" cy="379.8" r="0.6"/><circle cx="399.0" cy="384.0" r="0.6"/><circle cx="401.0" cy="379.2" r="0.6"/><circle cx="390.1" cy="380.0" r="0.6"/><circle cx="398.6" cy="371.5" r="0.6"/><circle cx="401.7" cy="378.6" r="0.6"/><circle cx="396.2" cy="375.6" r="0.6"/><circle cx="393.6" cy="386.8" r="0.6"/><circle cx="390.4" cy="380.7" r="0.6"/><circle cx="390.7" cy="391.3" r="0.6"/><circle cx="395.1" cy="364.3" r="0.6"/><circle cx="390.5" cy="376.9" r="0.6"/><circle cx="393.5" cy="389.3" r="0.6"/><circle cx="394.9" cy="369.9" r="0.6"/><circle cx="397.1" cy="383.2" r="0.6"/><circle cx="401.3" cy="370.9" r="0.6"/><circle cx="392.3" cy="381.4" r="0.6"/><circle cx="395.3" cy="373.0" r="0.6"/><circle cx="393.8" cy="370.9" r="0.6"/><circle cx="402.5" cy="368.8" r="0.6"/><circle cx="390.2" cy="378.3" r="0.6"/><circle cx="391.8" cy="380.3" r="0.6"/><circle cx="389.6" cy="376.8" r="0.6"/><circle cx="392.2" cy="360.8" r="0.6"/><circle cx="401.2" cy="379.6" r="0.6"/><circle cx="392.6" cy="391.3" r="0.6"/><circle cx="402.2" cy="390.0" r="0.6"/><circle cx="399.2" cy="376.8" r="0.6"/><circle cx="399.4" cy="368.4" r="0.6"/><circle cx="396.1" cy="371.4" r="0.6"/><circle cx="398.0" cy="378.6" r="0.6"/><circle cx="391.0" cy="372.9" r="0.6"/><circle cx="402.2" cy="387.9" r="0.6"/><circle cx="402.1" cy="380.2" r="0.6"/><circle cx="401.9" cy="383.9" r="0.6"/><circle cx="400.5" cy="391.0" r="0.6"/><circle cx="400.2" cy="370.7" r="0.6"/><circle cx="399.0" cy="375.6" r="0.6"/><circle cx="400.4" cy="377.5" r="0.6"/><circle cx="389.8" cy="380.1" r="0.6"/><circle cx="398.9" cy="376.6" r="0.6"/><circle cx="402.5" cy="358.8" r="0.6"/><circle cx="395.1" cy="380.1" r="0.6"/><circle cx="398.4" cy="372.6" r="0.6"/><circle cx="394.0" cy="366.4" r="0.6"/><circle cx="401.2" cy="376.7" r="0.6"/><circle cx="398.8" cy="376.2" r="0.6"/><circle cx="391.8" cy="381.5" r="0.6"/><circle cx="395.1" cy="368.9" r="0.6"/><circle cx="390.5" cy="373.9" r="0.6"/><circle cx="389.1" cy="368.1" r="0.6"/><circle cx="392.1" cy="373.3" r="0.6"/><circle cx="392.0" cy="382.1" r="0.6"/><circle cx="401.4" cy="366.3" r="0.6"/><circle cx="398.2" cy="384.5" r="0.6"/><circle cx="397.3" cy="393.0" r="0.6"/><circle cx="399.0" cy="380.8" r="0.6"/><circle cx="393.6" cy="372.3" r="0.6"/><circle cx="390.0" cy="373.1" r="0.6"/><circle cx="398.3" cy="377.4" r="0.6"/><circle cx="401.4" cy="376.3" r="0.6"/><circle cx="400.0" cy="372.6" r="0.6"/><circle cx="402.1" cy="367.7" r="0.6"/><circle cx="395.3" cy="387.1" r="0.6"/><circle cx="389.2" cy="352.2" r="0.6"/><circle cx="400.7" cy="368.7" r="0.6"/><circle cx="397.3" cy="370.0" r="0.6"/><circle cx="400.3" cy="378.4" r="0.6"/><circle cx="397.5" cy="379.5" r="0.6"/><circle cx="400.6" cy="388.4" r="0.6"/><circle cx="399.5" cy="377.8" r="0.6"/><circle cx="401.2" cy="386.8" r="0.6"/><circle cx="394.4" cy="378.4" r="0.6"/><circle cx="393.8" cy="385.2" r="0.6"/><circle cx="402.5" cy="379.4" r="0.6"/><circle cx="398.4" cy="373.0" r="0.6"/><circle cx="390.3" cy="382.4" r="0.6"/><circle cx="390.7" cy="375.7" r="0.6"/><circle cx="397.1" cy="385.6" r="0.6"/><circle cx="393.6" cy="363.8" r="0.6"/><circle cx="402.3" cy="384.9" r="0.6"/><circle cx="392.1" cy="381.9" r="0.6"/><circle cx="389.2" cy="387.1" r="0.6"/><circle cx="393.0" cy="372.5" r="0.6"/><circle cx="395.6" cy="393.1" r="0.6"/><circle cx="396.3" cy="371.6" r="0.6"/><circle cx="389.9" cy="377.9" r="0.6"/><circle cx="400.1" cy="374.4" r="0.6"/><circle cx="399.5" cy="383.6" r="0.6"/><circle cx="400.8" cy="375.1" r="0.6"/><circle cx="399.1" cy="366.8" r="0.6"/><circle cx="399.2" cy="382.5" r="0.6"/><circle cx="400.4" cy="380.3" r="0.6"/><circle cx="391.1" cy="391.1" r="0.6"/><circle cx="396.7" cy="377.9" r="0.6"/><circle cx="390.8" cy="369.8" r="0.6"/><circle cx="402.2" cy="369.8" r="0.6"/><circle cx="402.3" cy="371.5" r="0.6"/><circle cx="394.2" cy="378.5" r="0.6"/><circle cx="392.5" cy="388.4" r="0.6"/><circle cx="392.0" cy="383.4" r="0.6"/><circle cx="393.3" cy="374.8" r="0.6"/><circle cx="398.0" cy="388.1" r="0.6"/><circle cx="401.1" cy="362.6" r="0.6"/><circle cx="400.2" cy="383.7" r="0.6"/><circle cx="390.2" cy="375.5" r="0.6"/><circle cx="390.3" cy="375.7" r="0.6"/><circle cx="401.9" cy="377.1" r="0.6"/><circle cx="396.2" cy="386.8" r="0.6"/><circle cx="389.0" cy="387.0" r="0.6"/><circle cx="401.1" cy="379.7" r="0.6"/><circle cx="400.1" cy="375.7" r="0.6"/><circle cx="389.4" cy="368.6" r="0.6"/><circle cx="398.5" cy="379.2" r="0.6"/><circle cx="401.6" cy="387.3" r="0.6"/><circle cx="398.2" cy="381.1" r="0.6"/><circle cx="398.5" cy="387.3" r="0.6"/><circle cx="393.5" cy="386.5" r="0.6"/><circle cx="394.6" cy="380.2" r="0.6"/><circle cx="396.2" cy="366.6" r="0.6"/><circle cx="401.1" cy="377.7" r="0.6"/><circle cx="393.8" cy="384.7" r="0.6"/><circle cx="391.6" cy="379.9" r="0.6"/><circle cx="389.0" cy="370.0" r="0.6"/><circle cx="402.4" cy="390.4" r="0.6"/><circle cx="397.0" cy="375.4" r="0.6"/><circle cx="389.7" cy="382.9" r="0.6"/><circle cx="397.3" cy="380.6" r="0.6"/><circle cx="393.0" cy="361.8" r="0.6"/><circle cx="392.2" cy="362.5" r="0.6"/><circle cx="389.4" cy="379.7" r="0.6"/><circle cx="395.7" cy="382.9" r="0.6"/><circle cx="394.0" cy="352.0" r="0.6"/><circle cx="393.3" cy="393.5" r="0.6"/><circle cx="396.2" cy="357.5" r="0.6"/><circle cx="389.4" cy="393.1" r="0.6"/></g>
<line x1="395.70" y1="374.50" x2="395.70" y2="360.25" stroke="#9a9a9a" stroke-width="0.6"/>
<line x1="395.70" y1="384.00" x2="395.70" y2="393.50" stroke="#9a9a9a" stroke-width="0.6"/>
<rect x="381.50" y="374.50" width="28.40" height="9.50" fill="none" stroke="#a0a0a0" stroke-width="0.85"/>
<line x1="381.50" y1="379.50" x2="409.90" y2="379.50" stroke="#4a4a4a" stroke-width="1.0"/>
<g fill="#3b63d8" fill-opacity="0.95"><circle cx="427.4" cy="359.2" r="0.72"/><circle cx="435.8" cy="362.2" r="0.72"/><circle cx="437.5" cy="377.4" r="0.72"/><circle cx="436.1" cy="388.9" r="0.72"/><circle cx="439.2" cy="376.2" r="0.72"/><circle cx="438.5" cy="380.9" r="0.72"/><circle cx="427.5" cy="385.4" r="0.72"/><circle cx="431.5" cy="369.8" r="0.72"/><circle cx="430.6" cy="378.7" r="0.72"/><circle cx="427.3" cy="373.9" r="0.72"/><circle cx="427.9" cy="381.8" r="0.72"/><circle cx="431.4" cy="369.2" r="0.72"/><circle cx="434.7" cy="378.6" r="0.72"/><circle cx="435.2" cy="384.7" r="0.72"/><circle cx="427.5" cy="384.6" r="0.72"/><circle cx="432.5" cy="382.0" r="0.72"/><circle cx="437.3" cy="378.4" r="0.72"/><circle cx="429.9" cy="368.2" r="0.72"/><circle cx="426.8" cy="361.1" r="0.72"/><circle cx="433.9" cy="385.4" r="0.72"/><circle cx="438.9" cy="359.5" r="0.72"/><circle cx="435.7" cy="372.1" r="0.72"/><circle cx="433.0" cy="376.9" r="0.72"/><circle cx="430.4" cy="381.6" r="0.72"/><circle cx="435.7" cy="371.6" r="0.72"/><circle cx="432.1" cy="374.5" r="0.72"/><circle cx="438.8" cy="380.1" r="0.72"/><circle cx="437.7" cy="377.3" r="0.72"/><circle cx="439.4" cy="382.2" r="0.72"/><circle cx="429.0" cy="368.8" r="0.72"/><circle cx="429.5" cy="372.2" r="0.72"/><circle cx="426.9" cy="350.8" r="0.72"/><circle cx="437.1" cy="378.5" r="0.72"/><circle cx="434.6" cy="378.5" r="0.72"/><circle cx="435.0" cy="370.8" r="0.72"/><circle cx="428.6" cy="376.6" r="0.72"/><circle cx="435.0" cy="383.6" r="0.72"/><circle cx="437.1" cy="384.5" r="0.72"/><circle cx="430.7" cy="378.1" r="0.72"/><circle cx="428.6" cy="370.8" r="0.72"/><circle cx="437.9" cy="373.4" r="0.72"/><circle cx="435.5" cy="376.1" r="0.72"/><circle cx="438.5" cy="379.5" r="0.72"/><circle cx="437.5" cy="364.4" r="0.72"/><circle cx="429.6" cy="383.3" r="0.72"/><circle cx="431.2" cy="359.0" r="0.72"/><circle cx="432.9" cy="389.6" r="0.72"/><circle cx="439.4" cy="381.0" r="0.72"/><circle cx="437.9" cy="373.2" r="0.72"/><circle cx="439.2" cy="384.8" r="0.72"/><circle cx="438.6" cy="376.8" r="0.72"/><circle cx="430.3" cy="353.9" r="0.72"/><circle cx="435.5" cy="373.1" r="0.72"/><circle cx="439.0" cy="373.4" r="0.72"/><circle cx="434.1" cy="370.0" r="0.72"/><circle cx="427.6" cy="375.8" r="0.72"/><circle cx="432.1" cy="371.8" r="0.72"/><circle cx="437.3" cy="376.8" r="0.72"/><circle cx="432.7" cy="374.6" r="0.72"/><circle cx="432.4" cy="355.1" r="0.72"/><circle cx="434.1" cy="390.1" r="0.72"/><circle cx="432.0" cy="381.1" r="0.72"/><circle cx="427.6" cy="381.8" r="0.72"/><circle cx="428.3" cy="383.4" r="0.72"/><circle cx="428.6" cy="383.9" r="0.72"/><circle cx="437.4" cy="380.3" r="0.72"/><circle cx="433.9" cy="359.4" r="0.72"/><circle cx="428.8" cy="362.3" r="0.72"/><circle cx="434.3" cy="372.6" r="0.72"/><circle cx="435.1" cy="392.0" r="0.72"/><circle cx="429.4" cy="373.7" r="0.72"/><circle cx="432.3" cy="373.5" r="0.72"/><circle cx="434.4" cy="387.4" r="0.72"/><circle cx="430.1" cy="354.7" r="0.72"/><circle cx="432.0" cy="386.4" r="0.72"/><circle cx="438.7" cy="379.1" r="0.72"/><circle cx="427.0" cy="377.6" r="0.72"/><circle cx="427.2" cy="381.5" r="0.72"/><circle cx="428.8" cy="382.1" r="0.72"/><circle cx="427.0" cy="355.7" r="0.72"/><circle cx="434.7" cy="368.9" r="0.72"/><circle cx="438.5" cy="372.3" r="0.72"/><circle cx="434.6" cy="375.8" r="0.72"/><circle cx="430.5" cy="367.3" r="0.72"/><circle cx="437.9" cy="376.4" r="0.72"/><circle cx="435.5" cy="367.7" r="0.72"/><circle cx="439.0" cy="382.1" r="0.72"/><circle cx="434.3" cy="369.8" r="0.72"/><circle cx="430.8" cy="375.3" r="0.72"/><circle cx="428.3" cy="388.3" r="0.72"/><circle cx="429.9" cy="387.3" r="0.72"/><circle cx="428.1" cy="378.9" r="0.72"/><circle cx="436.5" cy="376.8" r="0.72"/><circle cx="430.3" cy="370.2" r="0.72"/><circle cx="437.4" cy="359.8" r="0.72"/><circle cx="437.5" cy="390.9" r="0.72"/><circle cx="438.8" cy="387.5" r="0.72"/><circle cx="434.8" cy="374.2" r="0.72"/><circle cx="431.7" cy="367.8" r="0.72"/><circle cx="434.1" cy="371.3" r="0.72"/><circle cx="437.9" cy="376.2" r="0.72"/><circle cx="436.0" cy="388.2" r="0.72"/><circle cx="431.5" cy="376.3" r="0.72"/><circle cx="432.4" cy="378.0" r="0.72"/><circle cx="433.4" cy="382.1" r="0.72"/><circle cx="434.6" cy="364.9" r="0.72"/><circle cx="435.5" cy="348.2" r="0.72"/><circle cx="433.9" cy="393.7" r="0.72"/><circle cx="428.4" cy="343.7" r="0.72"/><circle cx="438.1" cy="393.6" r="0.72"/></g>
<line x1="433.45" y1="369.40" x2="433.45" y2="350.50" stroke="#9a9a9a" stroke-width="0.6"/>
<line x1="433.45" y1="382.00" x2="433.45" y2="394.30" stroke="#9a9a9a" stroke-width="0.6"/>
<rect x="419.50" y="369.40" width="27.90" height="12.60" fill="none" stroke="#a0a0a0" stroke-width="0.85"/>
<line x1="419.50" y1="377.20" x2="447.40" y2="377.20" stroke="#4a4a4a" stroke-width="1.0"/>
<line x1="396.20" y1="336.40" x2="433.60" y2="336.40" stroke="#bdbdbd" stroke-width="1.0"/>
<polygon points="412.60,330.50 413.16,332.03 414.79,332.09 413.50,333.09 413.95,334.66 412.60,333.75 411.25,334.66 411.70,333.09 410.41,332.09 412.04,332.03" fill="#111"/>
<polygon points="417.20,330.50 417.76,332.03 419.39,332.09 418.10,333.09 418.55,334.66 417.20,333.75 415.85,334.66 416.30,333.09 415.01,332.09 416.64,332.03" fill="#111"/>
<rect x="384.80" y="403.00" width="4.00" height="3.80" fill="#555"/>
<text x="391.40" y="407.00" font-size="6.1" text-anchor="start" fill="#222" transform="rotate(0.05 391.40 407.00)">Recovered</text>
<rect x="384.80" y="411.10" width="4.00" height="3.80" fill="#3b63d8"/>
<text x="391.40" y="415.10" font-size="6.1" text-anchor="start" fill="#222" transform="rotate(0.05 391.40 415.10)">GI</text>
<line x1="485.40" y1="331.70" x2="485.40" y2="397.50" stroke="#777" stroke-width="0.8"/>
<line x1="485.40" y1="397.50" x2="566.70" y2="397.50" stroke="#777" stroke-width="0.8"/>
<line x1="483.80" y1="338.70" x2="485.40" y2="338.70" stroke="#777" stroke-width="0.6"/>
<text x="480.03" y="340.97" font-size="6.3" text-anchor="end" fill="#1c1c1c" transform="rotate(0.05 480.03 340.97)">2</text>
<text x="482.20" y="337.82" font-size="3.91" text-anchor="end" fill="#1c1c1c" transform="rotate(0.05 482.20 337.82)">2</text>
<line x1="483.80" y1="359.40" x2="485.40" y2="359.40" stroke="#777" stroke-width="0.6"/>
<text x="480.03" y="361.67" font-size="6.3" text-anchor="end" fill="#1c1c1c" transform="rotate(0.05 480.03 361.67)">2</text>
<text x="482.20" y="358.52" font-size="3.91" text-anchor="end" fill="#1c1c1c" transform="rotate(0.05 482.20 358.52)">1</text>
<line x1="483.80" y1="380.10" x2="485.40" y2="380.10" stroke="#777" stroke-width="0.6"/>
<text x="480.03" y="382.37" font-size="6.3" text-anchor="end" fill="#1c1c1c" transform="rotate(0.05 480.03 382.37)">2</text>
<text x="482.20" y="379.22" font-size="3.91" text-anchor="end" fill="#1c1c1c" transform="rotate(0.05 482.20 379.22)">0</text>
<text x="0" y="0" font-size="5.8" text-anchor="middle" fill="#1c1c1c" transform="translate(471.30,364.80) rotate(-90)">NFASC (NPX)</text>
<g fill="#4f4f4f" fill-opacity="0.95"><circle cx="508.9" cy="369.8" r="0.68"/><circle cx="508.1" cy="362.0" r="0.68"/><circle cx="511.7" cy="359.6" r="0.68"/><circle cx="502.5" cy="365.3" r="0.68"/><circle cx="504.0" cy="364.8" r="0.68"/><circle cx="503.9" cy="369.9" r="0.68"/><circle cx="503.6" cy="371.9" r="0.68"/><circle cx="509.8" cy="368.3" r="0.68"/><circle cx="507.6" cy="355.8" r="0.68"/><circle cx="509.4" cy="358.0" r="0.68"/><circle cx="510.4" cy="361.7" r="0.68"/><circle cx="504.2" cy="371.9" r="0.68"/><circle cx="514.1" cy="363.0" r="0.68"/><circle cx="509.4" cy="354.4" r="0.68"/><circle cx="505.1" cy="352.2" r="0.68"/><circle cx="506.2" cy="360.3" r="0.68"/><circle cx="510.7" cy="353.2" r="0.68"/><circle cx="503.8" cy="369.0" r="0.68"/><circle cx="507.8" cy="384.1" r="0.68"/><circle cx="514.3" cy="358.1" r="0.68"/><circle cx="502.5" cy="358.8" r="0.68"/><circle cx="501.6" cy="359.1" r="0.68"/><circle cx="509.4" cy="354.3" r="0.68"/><circle cx="511.6" cy="357.7" r="0.68"/><circle cx="509.3" cy="353.0" r="0.68"/><circle cx="509.6" cy="368.8" r="0.68"/><circle cx="508.7" cy="353.7" r="0.68"/><circle cx="502.6" cy="360.8" r="0.68"/><circle cx="507.0" cy="358.9" r="0.68"/><circle cx="514.0" cy="353.9" r="0.68"/><circle cx="508.0" cy="359.7" r="0.68"/><circle cx="506.1" cy="364.5" r="0.68"/><circle cx="503.7" cy="371.9" r="0.68"/><circle cx="510.7" cy="377.4" r="0.68"/><circle cx="514.4" cy="368.3" r="0.68"/><circle cx="502.6" cy="371.8" r="0.68"/><circle cx="514.1" cy="364.5" r="0.68"/><circle cx="513.2" cy="363.4" r="0.68"/><circle cx="507.4" cy="354.2" r="0.68"/><circle cx="503.5" cy="367.4" r="0.68"/><circle cx="512.7" cy="359.2" r="0.68"/><circle cx="502.9" cy="370.3" r="0.68"/><circle cx="508.6" cy="356.1" r="0.68"/><circle cx="511.7" cy="362.0" r="0.68"/><circle cx="513.8" cy="358.8" r="0.68"/><circle cx="509.2" cy="360.3" r="0.68"/><circle cx="512.7" cy="362.8" r="0.68"/><circle cx="502.0" cy="373.2" r="0.68"/><circle cx="505.1" cy="359.0" r="0.68"/><circle cx="503.5" cy="357.3" r="0.68"/><circle cx="506.9" cy="364.9" r="0.68"/><circle cx="509.2" cy="371.9" r="0.68"/><circle cx="507.6" cy="362.7" r="0.68"/><circle cx="511.7" cy="374.2" r="0.68"/><circle cx="514.1" cy="365.8" r="0.68"/><circle cx="508.5" cy="359.0" r="0.68"/><circle cx="510.7" cy="361.2" r="0.68"/><circle cx="507.1" cy="368.9" r="0.68"/><circle cx="512.6" cy="361.7" r="0.68"/><circle cx="504.8" cy="358.9" r="0.68"/><circle cx="506.6" cy="369.4" r="0.68"/><circle cx="508.9" cy="358.3" r="0.68"/><circle cx="508.7" cy="355.0" r="0.68"/><circle cx="513.7" cy="362.7" r="0.68"/><circle cx="514.2" cy="363.9" r="0.68"/><circle cx="501.6" cy="360.8" r="0.68"/><circle cx="505.0" cy="376.9" r="0.68"/><circle cx="501.8" cy="368.4" r="0.68"/><circle cx="512.4" cy="367.9" r="0.68"/><circle cx="501.7" cy="371.7" r="0.68"/><circle cx="502.1" cy="364.6" r="0.68"/><circle cx="505.5" cy="365.0" r="0.68"/><circle cx="509.8" cy="345.0" r="0.68"/><circle cx="512.5" cy="365.1" r="0.68"/><circle cx="510.2" cy="350.6" r="0.68"/><circle cx="504.5" cy="355.4" r="0.68"/><circle cx="502.8" cy="358.2" r="0.68"/><circle cx="513.4" cy="370.1" r="0.68"/><circle cx="507.8" cy="359.2" r="0.68"/><circle cx="511.9" cy="364.5" r="0.68"/><circle cx="502.6" cy="362.6" r="0.68"/><circle cx="504.5" cy="373.7" r="0.68"/><circle cx="510.3" cy="367.4" r="0.68"/><circle cx="504.4" cy="372.1" r="0.68"/><circle cx="511.2" cy="360.4" r="0.68"/><circle cx="514.3" cy="355.1" r="0.68"/><circle cx="507.3" cy="351.8" r="0.68"/><circle cx="508.0" cy="385.5" r="0.68"/><circle cx="509.8" cy="365.4" r="0.68"/><circle cx="502.7" cy="366.8" r="0.68"/><circle cx="508.5" cy="367.0" r="0.68"/><circle cx="503.9" cy="364.7" r="0.68"/><circle cx="507.2" cy="363.0" r="0.68"/><circle cx="503.3" cy="376.6" r="0.68"/><circle cx="509.5" cy="353.9" r="0.68"/><circle cx="507.2" cy="342.8" r="0.68"/><circle cx="512.3" cy="353.0" r="0.68"/><circle cx="511.6" cy="361.3" r="0.68"/><circle cx="502.7" cy="364.1" r="0.68"/><circle cx="503.1" cy="376.9" r="0.68"/><circle cx="508.7" cy="359.4" r="0.68"/><circle cx="505.1" cy="363.8" r="0.68"/><circle cx="512.0" cy="371.4" r="0.68"/><circle cx="513.7" cy="361.3" r="0.68"/><circle cx="507.8" cy="352.1" r="0.68"/><circle cx="506.6" cy="367.7" r="0.68"/><circle cx="513.4" cy="371.7" r="0.68"/><circle cx="510.3" cy="371.6" r="0.68"/><circle cx="506.0" cy="360.4" r="0.68"/><circle cx="506.5" cy="372.2" r="0.68"/><circle cx="507.7" cy="364.1" r="0.68"/><circle cx="508.1" cy="363.2" r="0.68"/><circle cx="504.7" cy="371.2" r="0.68"/><circle cx="506.6" cy="373.6" r="0.68"/><circle cx="507.0" cy="364.1" r="0.68"/><circle cx="510.3" cy="374.0" r="0.68"/><circle cx="508.6" cy="352.7" r="0.68"/><circle cx="502.8" cy="369.9" r="0.68"/><circle cx="505.3" cy="358.5" r="0.68"/><circle cx="513.7" cy="364.3" r="0.68"/><circle cx="503.4" cy="352.2" r="0.68"/><circle cx="509.6" cy="365.5" r="0.68"/><circle cx="503.1" cy="367.9" r="0.68"/><circle cx="501.7" cy="367.5" r="0.68"/><circle cx="506.2" cy="380.0" r="0.68"/><circle cx="501.6" cy="353.7" r="0.68"/><circle cx="502.0" cy="362.9" r="0.68"/><circle cx="511.4" cy="353.4" r="0.68"/><circle cx="511.5" cy="368.9" r="0.68"/><circle cx="511.4" cy="366.2" r="0.68"/><circle cx="511.8" cy="364.9" r="0.68"/><circle cx="509.2" cy="372.8" r="0.68"/><circle cx="502.3" cy="359.4" r="0.68"/><circle cx="503.8" cy="363.3" r="0.68"/><circle cx="507.4" cy="354.4" r="0.68"/><circle cx="509.7" cy="362.5" r="0.68"/><circle cx="506.7" cy="354.4" r="0.68"/><circle cx="512.3" cy="359.9" r="0.68"/><circle cx="514.2" cy="349.4" r="0.68"/><circle cx="512.2" cy="361.1" r="0.68"/><circle cx="508.6" cy="365.6" r="0.68"/><circle cx="504.6" cy="353.0" r="0.68"/><circle cx="504.6" cy="372.7" r="0.68"/><circle cx="509.4" cy="370.5" r="0.68"/><circle cx="507.0" cy="354.6" r="0.68"/><circle cx="504.5" cy="361.0" r="0.68"/><circle cx="512.9" cy="360.3" r="0.68"/><circle cx="505.5" cy="374.8" r="0.68"/><circle cx="507.0" cy="360.9" r="0.68"/><circle cx="509.6" cy="371.4" r="0.68"/><circle cx="511.9" cy="364.5" r="0.68"/><circle cx="510.8" cy="351.6" r="0.68"/><circle cx="507.2" cy="371.9" r="0.68"/><circle cx="509.9" cy="362.6" r="0.68"/><circle cx="506.8" cy="358.7" r="0.68"/><circle cx="508.6" cy="376.8" r="0.68"/><circle cx="501.5" cy="357.2" r="0.68"/><circle cx="505.0" cy="363.1" r="0.68"/><circle cx="503.2" cy="346.4" r="0.68"/><circle cx="513.1" cy="366.7" r="0.68"/><circle cx="505.0" cy="376.9" r="0.68"/><circle cx="501.6" cy="361.8" r="0.68"/><circle cx="505.3" cy="366.0" r="0.68"/><circle cx="513.6" cy="362.1" r="0.68"/><circle cx="512.2" cy="357.8" r="0.68"/><circle cx="503.7" cy="352.0" r="0.68"/><circle cx="506.3" cy="360.8" r="0.68"/><circle cx="507.8" cy="363.9" r="0.68"/><circle cx="510.1" cy="366.5" r="0.68"/><circle cx="503.2" cy="358.5" r="0.68"/><circle cx="509.0" cy="363.9" r="0.68"/><circle cx="509.0" cy="366.6" r="0.68"/><circle cx="513.6" cy="362.3" r="0.68"/><circle cx="510.8" cy="356.6" r="0.68"/><circle cx="503.7" cy="350.6" r="0.68"/><circle cx="505.2" cy="357.9" r="0.68"/><circle cx="513.8" cy="354.7" r="0.68"/><circle cx="510.2" cy="360.9" r="0.68"/><circle cx="507.5" cy="381.0" r="0.68"/><circle cx="504.1" cy="369.1" r="0.68"/><circle cx="512.5" cy="364.8" r="0.68"/><circle cx="508.6" cy="353.8" r="0.68"/><circle cx="507.5" cy="363.7" r="0.68"/><circle cx="506.0" cy="372.3" r="0.68"/><circle cx="504.7" cy="360.4" r="0.68"/><circle cx="502.9" cy="362.0" r="0.68"/><circle cx="511.0" cy="372.9" r="0.68"/><circle cx="506.6" cy="365.5" r="0.68"/><circle cx="510.0" cy="372.3" r="0.68"/><circle cx="505.1" cy="358.3" r="0.68"/><circle cx="512.4" cy="369.5" r="0.68"/><circle cx="504.6" cy="360.0" r="0.68"/><circle cx="503.7" cy="374.7" r="0.68"/><circle cx="510.9" cy="360.7" r="0.68"/><circle cx="506.3" cy="368.1" r="0.68"/><circle cx="505.8" cy="370.1" r="0.68"/><circle cx="506.6" cy="361.2" r="0.68"/><circle cx="502.6" cy="367.3" r="0.68"/><circle cx="510.7" cy="366.0" r="0.68"/><circle cx="507.0" cy="357.5" r="0.68"/><circle cx="510.6" cy="379.0" r="0.68"/><circle cx="512.3" cy="361.6" r="0.68"/><circle cx="506.8" cy="378.6" r="0.68"/><circle cx="509.1" cy="355.4" r="0.68"/><circle cx="505.7" cy="370.4" r="0.68"/><circle cx="509.5" cy="367.0" r="0.68"/><circle cx="502.4" cy="376.4" r="0.68"/><circle cx="506.9" cy="364.6" r="0.68"/><circle cx="509.6" cy="350.1" r="0.68"/><circle cx="503.3" cy="365.3" r="0.68"/><circle cx="509.4" cy="361.3" r="0.68"/><circle cx="506.8" cy="359.4" r="0.68"/><circle cx="504.9" cy="371.8" r="0.68"/><circle cx="505.4" cy="361.8" r="0.68"/><circle cx="504.6" cy="370.6" r="0.68"/><circle cx="508.4" cy="362.2" r="0.68"/><circle cx="502.4" cy="355.7" r="0.68"/><circle cx="505.7" cy="348.9" r="0.68"/><circle cx="510.4" cy="362.6" r="0.68"/><circle cx="510.2" cy="355.6" r="0.68"/><circle cx="503.7" cy="366.0" r="0.68"/><circle cx="505.4" cy="365.3" r="0.68"/><circle cx="502.9" cy="366.5" r="0.68"/><circle cx="501.7" cy="369.5" r="0.68"/><circle cx="503.5" cy="351.9" r="0.68"/><circle cx="502.6" cy="362.1" r="0.68"/><circle cx="503.2" cy="363.6" r="0.68"/><circle cx="507.8" cy="361.1" r="0.68"/><circle cx="508.0" cy="360.3" r="0.68"/><circle cx="506.3" cy="344.4" r="0.68"/><circle cx="512.1" cy="379.0" r="0.68"/><circle cx="512.2" cy="343.0" r="0.68"/><circle cx="507.0" cy="379.7" r="0.68"/></g>
<line x1="507.85" y1="359.80" x2="507.85" y2="345.25" stroke="#9a9a9a" stroke-width="0.6"/>
<line x1="507.85" y1="369.50" x2="507.85" y2="384.05" stroke="#9a9a9a" stroke-width="0.6"/>
<rect x="494.00" y="359.80" width="27.70" height="9.70" fill="none" stroke="#a0a0a0" stroke-width="0.85"/>
<line x1="494.00" y1="364.50" x2="521.70" y2="364.50" stroke="#4a4a4a" stroke-width="1.0"/>
<g fill="#12817f" fill-opacity="0.95"><circle cx="545.3" cy="373.2" r="0.75"/><circle cx="550.6" cy="362.6" r="0.75"/><circle cx="550.7" cy="363.4" r="0.75"/><circle cx="547.9" cy="370.1" r="0.75"/><circle cx="546.1" cy="361.0" r="0.75"/><circle cx="546.7" cy="357.7" r="0.75"/><circle cx="544.0" cy="361.6" r="0.75"/><circle cx="542.0" cy="360.3" r="0.75"/><circle cx="539.5" cy="359.6" r="0.75"/><circle cx="541.9" cy="361.7" r="0.75"/><circle cx="548.5" cy="354.9" r="0.75"/><circle cx="543.3" cy="356.6" r="0.75"/><circle cx="538.0" cy="360.4" r="0.75"/><circle cx="551.0" cy="362.8" r="0.75"/><circle cx="549.9" cy="361.7" r="0.75"/><circle cx="545.3" cy="348.8" r="0.75"/><circle cx="547.2" cy="357.5" r="0.75"/><circle cx="546.2" cy="367.1" r="0.75"/><circle cx="543.5" cy="365.7" r="0.75"/><circle cx="546.8" cy="358.2" r="0.75"/><circle cx="540.8" cy="357.0" r="0.75"/><circle cx="545.1" cy="355.4" r="0.75"/><circle cx="538.7" cy="361.5" r="0.75"/><circle cx="540.2" cy="361.5" r="0.75"/><circle cx="544.4" cy="372.5" r="0.75"/><circle cx="547.9" cy="370.9" r="0.75"/><circle cx="548.4" cy="360.7" r="0.75"/><circle cx="543.3" cy="368.0" r="0.75"/><circle cx="548.2" cy="360.0" r="0.75"/><circle cx="541.7" cy="369.0" r="0.75"/><circle cx="545.5" cy="362.3" r="0.75"/><circle cx="544.8" cy="359.8" r="0.75"/><circle cx="547.3" cy="350.4" r="0.75"/><circle cx="550.6" cy="370.4" r="0.75"/><circle cx="546.3" cy="366.1" r="0.75"/><circle cx="543.6" cy="354.6" r="0.75"/><circle cx="540.4" cy="361.5" r="0.75"/><circle cx="545.0" cy="365.2" r="0.75"/><circle cx="538.5" cy="373.2" r="0.75"/><circle cx="546.8" cy="353.4" r="0.75"/><circle cx="540.4" cy="354.3" r="0.75"/><circle cx="544.9" cy="365.4" r="0.75"/><circle cx="544.2" cy="360.0" r="0.75"/><circle cx="540.5" cy="363.9" r="0.75"/><circle cx="540.3" cy="365.9" r="0.75"/><circle cx="547.0" cy="371.1" r="0.75"/><circle cx="541.4" cy="363.7" r="0.75"/><circle cx="544.2" cy="368.3" r="0.75"/><circle cx="550.5" cy="359.3" r="0.75"/><circle cx="548.1" cy="357.5" r="0.75"/><circle cx="548.0" cy="356.2" r="0.75"/><circle cx="547.9" cy="360.3" r="0.75"/><circle cx="548.1" cy="363.6" r="0.75"/><circle cx="548.0" cy="358.8" r="0.75"/><circle cx="540.4" cy="359.4" r="0.75"/><circle cx="546.6" cy="364.0" r="0.75"/><circle cx="539.0" cy="353.9" r="0.75"/><circle cx="539.5" cy="355.3" r="0.75"/><circle cx="538.5" cy="369.8" r="0.75"/><circle cx="546.5" cy="352.0" r="0.75"/><circle cx="541.1" cy="368.4" r="0.75"/><circle cx="549.4" cy="373.0" r="0.75"/><circle cx="547.5" cy="367.8" r="0.75"/><circle cx="538.1" cy="364.2" r="0.75"/><circle cx="540.3" cy="372.6" r="0.75"/><circle cx="538.5" cy="355.3" r="0.75"/><circle cx="540.2" cy="377.4" r="0.75"/><circle cx="541.6" cy="360.1" r="0.75"/><circle cx="539.0" cy="352.0" r="0.75"/><circle cx="550.3" cy="372.7" r="0.75"/><circle cx="545.6" cy="349.7" r="0.75"/><circle cx="548.0" cy="339.1" r="0.75"/><circle cx="549.2" cy="387.1" r="0.75"/><circle cx="544.8" cy="347.4" r="0.75"/><circle cx="544.2" cy="393.0" r="0.75"/></g>
<line x1="544.85" y1="355.70" x2="544.85" y2="340.55" stroke="#9a9a9a" stroke-width="0.6"/>
<line x1="544.85" y1="365.80" x2="544.85" y2="380.95" stroke="#9a9a9a" stroke-width="0.6"/>
<rect x="531.10" y="355.70" width="27.50" height="10.10" fill="none" stroke="#a0a0a0" stroke-width="0.85"/>
<line x1="531.10" y1="359.80" x2="558.60" y2="359.80" stroke="#4a4a4a" stroke-width="1.0"/>
<line x1="508.00" y1="334.70" x2="545.00" y2="334.70" stroke="#bdbdbd" stroke-width="1.0"/>
<polygon points="521.90,328.80 522.46,330.33 524.09,330.39 522.80,331.39 523.25,332.96 521.90,332.05 520.55,332.96 521.00,331.39 519.71,330.39 521.34,330.33" fill="#111"/>
<polygon points="526.50,328.80 527.06,330.33 528.69,330.39 527.40,331.39 527.85,332.96 526.50,332.05 525.15,332.96 525.60,331.39 524.31,330.39 525.94,330.33" fill="#111"/>
<polygon points="531.10,328.80 531.66,330.33 533.29,330.39 532.00,331.39 532.45,332.96 531.10,332.05 529.75,332.96 530.20,331.39 528.91,330.39 530.54,330.33" fill="#111"/>
<rect x="498.70" y="402.50" width="4.00" height="3.80" fill="#555"/>
<text x="505.30" y="406.50" font-size="6.1" text-anchor="start" fill="#222" transform="rotate(0.05 505.30 406.50)">Recovered</text>
<rect x="498.70" y="409.90" width="4.00" height="3.80" fill="#12817f"/>
<text x="505.30" y="413.90" font-size="6.1" text-anchor="start" fill="#222" transform="rotate(0.05 505.30 413.90)">Cognitive</text>
<line x1="599.60" y1="332.70" x2="599.60" y2="397.80" stroke="#777" stroke-width="0.8"/>
<line x1="599.60" y1="397.80" x2="682.00" y2="397.80" stroke="#777" stroke-width="0.8"/>
<line x1="598.00" y1="342.20" x2="599.60" y2="342.20" stroke="#777" stroke-width="0.6"/>
<text x="590.26" y="344.43" font-size="6.2" text-anchor="end" fill="#1c1c1c" transform="rotate(0.05 590.26 344.43)">2</text>
<text x="595.60" y="341.33" font-size="3.84" text-anchor="end" fill="#1c1c1c" transform="rotate(0.05 595.60 341.33)">2.0</text>
<line x1="598.00" y1="358.90" x2="599.60" y2="358.90" stroke="#777" stroke-width="0.6"/>
<text x="590.26" y="361.13" font-size="6.2" text-anchor="end" fill="#1c1c1c" transform="rotate(0.05 590.26 361.13)">2</text>
<text x="595.60" y="358.03" font-size="3.84" text-anchor="end" fill="#1c1c1c" transform="rotate(0.05 595.60 358.03)">1.5</text>
<line x1="598.00" y1="376.00" x2="599.60" y2="376.00" stroke="#777" stroke-width="0.6"/>
<text x="590.26" y="378.23" font-size="6.2" text-anchor="end" fill="#1c1c1c" transform="rotate(0.05 590.26 378.23)">2</text>
<text x="595.60" y="375.13" font-size="3.84" text-anchor="end" fill="#1c1c1c" transform="rotate(0.05 595.60 375.13)">1.0</text>
<line x1="598.00" y1="392.60" x2="599.60" y2="392.60" stroke="#777" stroke-width="0.6"/>
<text x="590.26" y="394.83" font-size="6.2" text-anchor="end" fill="#1c1c1c" transform="rotate(0.05 590.26 394.83)">2</text>
<text x="595.60" y="391.73" font-size="3.84" text-anchor="end" fill="#1c1c1c" transform="rotate(0.05 595.60 391.73)">0.5</text>
<text x="0" y="0" font-size="5.9" text-anchor="middle" fill="#1c1c1c" transform="translate(582.60,364.60) rotate(-90)">sCD58 (NPX)</text>
<g fill="#4f4f4f" fill-opacity="0.95"><circle cx="625.9" cy="359.7" r="0.68"/><circle cx="623.1" cy="372.1" r="0.68"/><circle cx="627.4" cy="373.6" r="0.68"/><circle cx="627.2" cy="367.4" r="0.68"/><circle cx="623.3" cy="368.5" r="0.68"/><circle cx="623.6" cy="370.6" r="0.68"/><circle cx="625.0" cy="376.3" r="0.68"/><circle cx="625.5" cy="367.2" r="0.68"/><circle cx="621.0" cy="373.5" r="0.68"/><circle cx="617.9" cy="376.6" r="0.68"/><circle cx="625.2" cy="368.4" r="0.68"/><circle cx="622.6" cy="374.7" r="0.68"/><circle cx="625.9" cy="368.4" r="0.68"/><circle cx="625.5" cy="371.2" r="0.68"/><circle cx="615.8" cy="374.5" r="0.68"/><circle cx="618.8" cy="358.5" r="0.68"/><circle cx="626.4" cy="363.5" r="0.68"/><circle cx="617.8" cy="370.6" r="0.68"/><circle cx="615.6" cy="375.5" r="0.68"/><circle cx="615.3" cy="370.0" r="0.68"/><circle cx="622.5" cy="361.7" r="0.68"/><circle cx="615.9" cy="363.3" r="0.68"/><circle cx="619.2" cy="361.3" r="0.68"/><circle cx="618.0" cy="366.2" r="0.68"/><circle cx="620.0" cy="373.0" r="0.68"/><circle cx="623.1" cy="374.7" r="0.68"/><circle cx="623.4" cy="366.8" r="0.68"/><circle cx="618.5" cy="364.3" r="0.68"/><circle cx="623.2" cy="369.4" r="0.68"/><circle cx="625.2" cy="364.6" r="0.68"/><circle cx="627.7" cy="371.6" r="0.68"/><circle cx="628.7" cy="360.9" r="0.68"/><circle cx="618.6" cy="370.9" r="0.68"/><circle cx="623.7" cy="362.9" r="0.68"/><circle cx="616.2" cy="371.9" r="0.68"/><circle cx="624.0" cy="372.0" r="0.68"/><circle cx="626.2" cy="357.0" r="0.68"/><circle cx="622.3" cy="377.6" r="0.68"/><circle cx="615.6" cy="366.0" r="0.68"/><circle cx="616.5" cy="373.6" r="0.68"/><circle cx="615.0" cy="372.7" r="0.68"/><circle cx="628.6" cy="365.1" r="0.68"/><circle cx="621.2" cy="360.3" r="0.68"/><circle cx="628.5" cy="376.0" r="0.68"/><circle cx="624.0" cy="374.9" r="0.68"/><circle cx="615.2" cy="372.5" r="0.68"/><circle cx="624.4" cy="373.8" r="0.68"/><circle cx="616.0" cy="366.2" r="0.68"/><circle cx="625.9" cy="371.6" r="0.68"/><circle cx="628.1" cy="370.6" r="0.68"/><circle cx="616.2" cy="375.3" r="0.68"/><circle cx="625.8" cy="365.0" r="0.68"/><circle cx="623.8" cy="356.8" r="0.68"/><circle cx="622.8" cy="368.9" r="0.68"/><circle cx="616.0" cy="371.0" r="0.68"/><circle cx="621.0" cy="372.2" r="0.68"/><circle cx="615.6" cy="365.1" r="0.68"/><circle cx="625.5" cy="382.8" r="0.68"/><circle cx="627.8" cy="371.4" r="0.68"/><circle cx="618.0" cy="371.3" r="0.68"/><circle cx="620.5" cy="361.5" r="0.68"/><circle cx="619.8" cy="364.1" r="0.68"/><circle cx="620.1" cy="374.9" r="0.68"/><circle cx="623.3" cy="376.1" r="0.68"/><circle cx="620.8" cy="370.4" r="0.68"/><circle cx="619.8" cy="366.9" r="0.68"/><circle cx="617.7" cy="376.5" r="0.68"/><circle cx="621.3" cy="365.3" r="0.68"/><circle cx="615.9" cy="376.1" r="0.68"/><circle cx="616.8" cy="370.1" r="0.68"/><circle cx="617.9" cy="360.4" r="0.68"/><circle cx="623.1" cy="369.0" r="0.68"/><circle cx="615.6" cy="365.2" r="0.68"/><circle cx="626.7" cy="377.4" r="0.68"/><circle cx="619.0" cy="365.2" r="0.68"/><circle cx="623.7" cy="370.6" r="0.68"/><circle cx="618.0" cy="379.5" r="0.68"/><circle cx="620.6" cy="376.3" r="0.68"/><circle cx="628.4" cy="375.0" r="0.68"/><circle cx="617.5" cy="372.2" r="0.68"/><circle cx="623.9" cy="372.5" r="0.68"/><circle cx="616.9" cy="375.7" r="0.68"/><circle cx="618.3" cy="370.9" r="0.68"/><circle cx="615.3" cy="376.8" r="0.68"/><circle cx="626.2" cy="364.5" r="0.68"/><circle cx="626.9" cy="355.7" r="0.68"/><circle cx="623.3" cy="370.6" r="0.68"/><circle cx="623.5" cy="374.1" r="0.68"/><circle cx="618.2" cy="363.0" r="0.68"/><circle cx="618.2" cy="362.9" r="0.68"/><circle cx="623.0" cy="371.1" r="0.68"/><circle cx="616.1" cy="370.5" r="0.68"/><circle cx="616.9" cy="379.4" r="0.68"/><circle cx="628.4" cy="356.6" r="0.68"/><circle cx="620.3" cy="368.9" r="0.68"/><circle cx="620.0" cy="369.0" r="0.68"/><circle cx="618.3" cy="368.5" r="0.68"/><circle cx="615.1" cy="371.4" r="0.68"/><circle cx="618.1" cy="361.6" r="0.68"/><circle cx="627.8" cy="371.5" r="0.68"/><circle cx="626.1" cy="374.4" r="0.68"/><circle cx="619.8" cy="363.9" r="0.68"/><circle cx="619.8" cy="369.7" r="0.68"/><circle cx="625.3" cy="356.8" r="0.68"/><circle cx="620.8" cy="366.8" r="0.68"/><circle cx="616.5" cy="372.2" r="0.68"/><circle cx="621.9" cy="368.4" r="0.68"/><circle cx="626.2" cy="364.1" r="0.68"/><circle cx="625.1" cy="356.5" r="0.68"/><circle cx="624.6" cy="360.2" r="0.68"/><circle cx="627.8" cy="368.9" r="0.68"/><circle cx="623.2" cy="358.3" r="0.68"/><circle cx="622.4" cy="364.6" r="0.68"/><circle cx="628.1" cy="361.7" r="0.68"/><circle cx="621.9" cy="368.0" r="0.68"/><circle cx="619.3" cy="372.9" r="0.68"/><circle cx="614.9" cy="367.2" r="0.68"/><circle cx="617.8" cy="359.4" r="0.68"/><circle cx="624.4" cy="364.1" r="0.68"/><circle cx="621.5" cy="364.5" r="0.68"/><circle cx="628.5" cy="375.9" r="0.68"/><circle cx="616.2" cy="374.9" r="0.68"/><circle cx="623.5" cy="362.0" r="0.68"/><circle cx="622.0" cy="362.8" r="0.68"/><circle cx="627.1" cy="347.5" r="0.68"/><circle cx="621.0" cy="368.6" r="0.68"/><circle cx="626.2" cy="372.7" r="0.68"/><circle cx="628.9" cy="359.5" r="0.68"/><circle cx="618.1" cy="372.9" r="0.68"/><circle cx="626.4" cy="371.1" r="0.68"/><circle cx="621.7" cy="373.0" r="0.68"/><circle cx="627.4" cy="367.1" r="0.68"/><circle cx="627.4" cy="367.8" r="0.68"/><circle cx="627.8" cy="359.9" r="0.68"/><circle cx="619.0" cy="381.5" r="0.68"/><circle cx="623.5" cy="377.2" r="0.68"/><circle cx="619.2" cy="369.6" r="0.68"/><circle cx="627.6" cy="363.4" r="0.68"/><circle cx="616.2" cy="373.4" r="0.68"/><circle cx="623.7" cy="350.2" r="0.68"/><circle cx="625.1" cy="368.3" r="0.68"/><circle cx="618.8" cy="351.3" r="0.68"/><circle cx="618.5" cy="372.2" r="0.68"/><circle cx="622.9" cy="371.5" r="0.68"/><circle cx="616.1" cy="367.7" r="0.68"/><circle cx="624.5" cy="372.3" r="0.68"/><circle cx="622.1" cy="370.6" r="0.68"/><circle cx="628.6" cy="366.1" r="0.68"/><circle cx="626.3" cy="363.7" r="0.68"/><circle cx="615.2" cy="374.7" r="0.68"/><circle cx="625.2" cy="376.1" r="0.68"/><circle cx="619.7" cy="360.5" r="0.68"/><circle cx="615.8" cy="352.2" r="0.68"/><circle cx="616.1" cy="370.2" r="0.68"/><circle cx="617.0" cy="358.0" r="0.68"/><circle cx="617.5" cy="355.6" r="0.68"/><circle cx="622.8" cy="357.0" r="0.68"/><circle cx="624.1" cy="371.9" r="0.68"/><circle cx="623.1" cy="373.0" r="0.68"/><circle cx="625.0" cy="370.7" r="0.68"/><circle cx="619.3" cy="371.5" r="0.68"/><circle cx="620.7" cy="370.8" r="0.68"/><circle cx="615.9" cy="367.3" r="0.68"/><circle cx="623.9" cy="372.4" r="0.68"/><circle cx="627.8" cy="377.0" r="0.68"/><circle cx="616.7" cy="366.5" r="0.68"/><circle cx="626.8" cy="364.3" r="0.68"/><circle cx="623.3" cy="364.9" r="0.68"/><circle cx="628.3" cy="357.3" r="0.68"/><circle cx="616.8" cy="358.9" r="0.68"/><circle cx="622.7" cy="366.7" r="0.68"/><circle cx="618.0" cy="370.4" r="0.68"/><circle cx="615.0" cy="367.3" r="0.68"/><circle cx="627.3" cy="363.0" r="0.68"/><circle cx="622.2" cy="372.5" r="0.68"/><circle cx="615.7" cy="372.6" r="0.68"/><circle cx="616.5" cy="370.7" r="0.68"/><circle cx="623.6" cy="358.0" r="0.68"/><circle cx="616.2" cy="374.2" r="0.68"/><circle cx="618.8" cy="374.4" r="0.68"/><circle cx="624.1" cy="360.8" r="0.68"/><circle cx="627.9" cy="371.6" r="0.68"/><circle cx="617.8" cy="366.0" r="0.68"/><circle cx="625.2" cy="373.9" r="0.68"/><circle cx="617.6" cy="366.1" r="0.68"/><circle cx="620.8" cy="372.3" r="0.68"/><circle cx="626.3" cy="372.6" r="0.68"/><circle cx="621.5" cy="362.8" r="0.68"/><circle cx="620.6" cy="364.6" r="0.68"/><circle cx="625.0" cy="366.8" r="0.68"/><circle cx="618.4" cy="374.7" r="0.68"/><circle cx="619.0" cy="372.6" r="0.68"/><circle cx="623.0" cy="366.9" r="0.68"/><circle cx="615.5" cy="372.6" r="0.68"/><circle cx="617.4" cy="369.8" r="0.68"/><circle cx="626.6" cy="373.8" r="0.68"/><circle cx="616.8" cy="363.6" r="0.68"/><circle cx="617.5" cy="355.4" r="0.68"/><circle cx="626.6" cy="366.1" r="0.68"/><circle cx="626.6" cy="375.5" r="0.68"/><circle cx="615.3" cy="370.2" r="0.68"/><circle cx="619.6" cy="368.4" r="0.68"/><circle cx="619.8" cy="368.8" r="0.68"/><circle cx="616.7" cy="369.8" r="0.68"/><circle cx="619.4" cy="372.2" r="0.68"/><circle cx="617.3" cy="365.9" r="0.68"/><circle cx="621.1" cy="371.1" r="0.68"/><circle cx="618.0" cy="366.6" r="0.68"/><circle cx="624.9" cy="369.9" r="0.68"/><circle cx="628.6" cy="368.9" r="0.68"/><circle cx="628.4" cy="362.7" r="0.68"/><circle cx="615.6" cy="366.0" r="0.68"/><circle cx="622.5" cy="365.6" r="0.68"/><circle cx="628.9" cy="355.0" r="0.68"/><circle cx="626.3" cy="370.4" r="0.68"/><circle cx="623.5" cy="370.3" r="0.68"/><circle cx="628.3" cy="373.1" r="0.68"/><circle cx="626.0" cy="370.4" r="0.68"/><circle cx="615.2" cy="368.9" r="0.68"/><circle cx="628.0" cy="358.8" r="0.68"/><circle cx="622.5" cy="365.8" r="0.68"/><circle cx="621.7" cy="378.5" r="0.68"/><circle cx="626.6" cy="353.4" r="0.68"/><circle cx="620.4" cy="366.8" r="0.68"/><circle cx="619.8" cy="371.5" r="0.68"/><circle cx="619.4" cy="365.9" r="0.68"/><circle cx="614.9" cy="374.8" r="0.68"/><circle cx="628.5" cy="371.1" r="0.68"/><circle cx="615.8" cy="372.1" r="0.68"/><circle cx="625.7" cy="340.0" r="0.68"/><circle cx="616.2" cy="381.5" r="0.68"/><circle cx="623.0" cy="343.3" r="0.68"/><circle cx="620.2" cy="380.9" r="0.68"/></g>
<line x1="621.95" y1="366.10" x2="621.95" y2="356.80" stroke="#9a9a9a" stroke-width="0.6"/>
<line x1="621.95" y1="372.30" x2="621.95" y2="381.60" stroke="#9a9a9a" stroke-width="0.6"/>
<rect x="607.40" y="366.10" width="29.10" height="6.20" fill="none" stroke="#a0a0a0" stroke-width="0.85"/>
<line x1="607.40" y1="369.20" x2="636.50" y2="369.20" stroke="#4a4a4a" stroke-width="1.0"/>
<g fill="#d0432e" fill-opacity="0.95"><circle cx="661.1" cy="361.3" r="0.68"/><circle cx="666.9" cy="369.7" r="0.68"/><circle cx="657.2" cy="361.5" r="0.68"/><circle cx="665.9" cy="370.0" r="0.68"/><circle cx="661.0" cy="366.6" r="0.68"/><circle cx="665.5" cy="378.1" r="0.68"/><circle cx="655.5" cy="385.5" r="0.68"/><circle cx="658.5" cy="387.7" r="0.68"/><circle cx="664.2" cy="355.8" r="0.68"/><circle cx="658.9" cy="368.0" r="0.68"/><circle cx="657.9" cy="359.4" r="0.68"/><circle cx="666.3" cy="376.7" r="0.68"/><circle cx="654.7" cy="356.6" r="0.68"/><circle cx="656.7" cy="358.2" r="0.68"/><circle cx="654.1" cy="364.4" r="0.68"/><circle cx="663.2" cy="383.0" r="0.68"/><circle cx="658.2" cy="361.0" r="0.68"/><circle cx="655.0" cy="355.9" r="0.68"/><circle cx="663.3" cy="376.6" r="0.68"/><circle cx="666.4" cy="367.5" r="0.68"/><circle cx="662.1" cy="361.0" r="0.68"/><circle cx="659.2" cy="374.7" r="0.68"/><circle cx="657.7" cy="366.3" r="0.68"/><circle cx="666.9" cy="356.0" r="0.68"/><circle cx="665.8" cy="370.2" r="0.68"/><circle cx="663.5" cy="385.6" r="0.68"/><circle cx="663.5" cy="351.8" r="0.68"/><circle cx="660.3" cy="378.2" r="0.68"/><circle cx="655.2" cy="375.3" r="0.68"/><circle cx="657.0" cy="377.5" r="0.68"/><circle cx="654.9" cy="365.3" r="0.68"/><circle cx="666.3" cy="362.6" r="0.68"/><circle cx="662.2" cy="368.3" r="0.68"/><circle cx="654.4" cy="365.6" r="0.68"/><circle cx="662.9" cy="372.4" r="0.68"/><circle cx="660.5" cy="362.6" r="0.68"/><circle cx="659.2" cy="363.7" r="0.68"/><circle cx="656.9" cy="372.7" r="0.68"/><circle cx="664.3" cy="368.4" r="0.68"/><circle cx="659.5" cy="367.0" r="0.68"/><circle cx="657.7" cy="377.8" r="0.68"/><circle cx="661.1" cy="370.3" r="0.68"/><circle cx="663.2" cy="366.3" r="0.68"/><circle cx="658.5" cy="362.5" r="0.68"/><circle cx="662.0" cy="382.8" r="0.68"/><circle cx="661.2" cy="376.6" r="0.68"/><circle cx="661.9" cy="375.0" r="0.68"/><circle cx="660.9" cy="367.8" r="0.68"/><circle cx="665.2" cy="370.6" r="0.68"/><circle cx="662.0" cy="369.2" r="0.68"/><circle cx="656.9" cy="376.4" r="0.68"/><circle cx="662.0" cy="373.0" r="0.68"/><circle cx="665.4" cy="372.2" r="0.68"/><circle cx="665.3" cy="371.7" r="0.68"/><circle cx="665.0" cy="359.0" r="0.68"/><circle cx="666.7" cy="369.1" r="0.68"/><circle cx="666.2" cy="379.2" r="0.68"/><circle cx="658.3" cy="362.5" r="0.68"/><circle cx="655.0" cy="360.9" r="0.68"/><circle cx="662.1" cy="367.1" r="0.68"/><circle cx="662.5" cy="376.0" r="0.68"/><circle cx="653.8" cy="357.4" r="0.68"/><circle cx="656.5" cy="356.6" r="0.68"/><circle cx="665.9" cy="377.4" r="0.68"/><circle cx="660.0" cy="375.4" r="0.68"/><circle cx="658.5" cy="371.8" r="0.68"/><circle cx="664.3" cy="364.9" r="0.68"/><circle cx="661.7" cy="366.4" r="0.68"/><circle cx="662.5" cy="384.8" r="0.68"/><circle cx="666.8" cy="378.8" r="0.68"/><circle cx="658.8" cy="371.6" r="0.68"/><circle cx="661.6" cy="364.3" r="0.68"/><circle cx="662.0" cy="366.8" r="0.68"/><circle cx="658.9" cy="360.9" r="0.68"/><circle cx="656.8" cy="368.9" r="0.68"/><circle cx="663.0" cy="377.8" r="0.68"/><circle cx="660.5" cy="374.0" r="0.68"/><circle cx="666.9" cy="372.5" r="0.68"/><circle cx="663.6" cy="372.8" r="0.68"/><circle cx="656.5" cy="357.8" r="0.68"/><circle cx="660.7" cy="368.4" r="0.68"/><circle cx="654.2" cy="369.9" r="0.68"/><circle cx="658.4" cy="373.6" r="0.68"/><circle cx="660.1" cy="373.2" r="0.68"/><circle cx="655.4" cy="370.8" r="0.68"/><circle cx="666.3" cy="373.7" r="0.68"/><circle cx="655.6" cy="368.2" r="0.68"/><circle cx="654.0" cy="375.8" r="0.68"/><circle cx="655.8" cy="388.6" r="0.68"/><circle cx="666.0" cy="357.2" r="0.68"/><circle cx="664.9" cy="352.6" r="0.68"/><circle cx="666.2" cy="364.4" r="0.68"/><circle cx="665.7" cy="384.1" r="0.68"/><circle cx="664.2" cy="385.8" r="0.68"/><circle cx="663.1" cy="367.4" r="0.68"/><circle cx="666.1" cy="360.4" r="0.68"/><circle cx="661.3" cy="375.8" r="0.68"/><circle cx="665.3" cy="380.2" r="0.68"/><circle cx="663.2" cy="371.6" r="0.68"/><circle cx="663.8" cy="350.6" r="0.68"/><circle cx="656.8" cy="372.4" r="0.68"/><circle cx="653.9" cy="364.9" r="0.68"/><circle cx="666.2" cy="353.9" r="0.68"/><circle cx="654.0" cy="355.3" r="0.68"/><circle cx="658.0" cy="377.7" r="0.68"/><circle cx="662.5" cy="368.1" r="0.68"/><circle cx="664.3" cy="376.3" r="0.68"/><circle cx="655.3" cy="359.2" r="0.68"/><circle cx="657.6" cy="355.2" r="0.68"/><circle cx="663.5" cy="357.9" r="0.68"/><circle cx="666.9" cy="379.8" r="0.68"/><circle cx="663.6" cy="378.1" r="0.68"/><circle cx="664.6" cy="362.6" r="0.68"/><circle cx="665.1" cy="357.5" r="0.68"/><circle cx="664.8" cy="368.4" r="0.68"/><circle cx="663.1" cy="371.3" r="0.68"/><circle cx="664.6" cy="372.0" r="0.68"/><circle cx="663.8" cy="376.9" r="0.68"/><circle cx="656.0" cy="387.2" r="0.68"/><circle cx="662.0" cy="377.8" r="0.68"/><circle cx="655.9" cy="381.5" r="0.68"/><circle cx="664.8" cy="375.5" r="0.68"/><circle cx="666.3" cy="366.8" r="0.68"/><circle cx="661.1" cy="380.7" r="0.68"/><circle cx="665.9" cy="380.2" r="0.68"/><circle cx="656.9" cy="361.9" r="0.68"/><circle cx="665.0" cy="373.4" r="0.68"/><circle cx="654.3" cy="362.2" r="0.68"/><circle cx="665.5" cy="388.9" r="0.68"/><circle cx="666.3" cy="385.1" r="0.68"/><circle cx="658.0" cy="371.8" r="0.68"/><circle cx="654.7" cy="362.7" r="0.68"/><circle cx="664.9" cy="365.3" r="0.68"/><circle cx="654.3" cy="355.0" r="0.68"/><circle cx="656.0" cy="370.7" r="0.68"/><circle cx="654.1" cy="372.2" r="0.68"/><circle cx="654.1" cy="387.4" r="0.68"/><circle cx="665.0" cy="364.1" r="0.68"/><circle cx="665.1" cy="376.5" r="0.68"/><circle cx="658.5" cy="371.0" r="0.68"/><circle cx="663.9" cy="385.6" r="0.68"/><circle cx="660.0" cy="368.3" r="0.68"/><circle cx="659.4" cy="367.3" r="0.68"/><circle cx="662.9" cy="359.7" r="0.68"/><circle cx="659.1" cy="373.1" r="0.68"/><circle cx="662.8" cy="354.5" r="0.68"/><circle cx="656.4" cy="368.1" r="0.68"/><circle cx="666.4" cy="374.9" r="0.68"/><circle cx="658.9" cy="375.8" r="0.68"/><circle cx="663.0" cy="387.8" r="0.68"/><circle cx="658.7" cy="355.1" r="0.68"/><circle cx="666.4" cy="369.7" r="0.68"/><circle cx="660.4" cy="360.1" r="0.68"/><circle cx="662.1" cy="361.7" r="0.68"/><circle cx="656.2" cy="360.4" r="0.68"/><circle cx="662.8" cy="362.0" r="0.68"/><circle cx="664.0" cy="366.3" r="0.68"/><circle cx="657.2" cy="372.5" r="0.68"/><circle cx="666.5" cy="378.8" r="0.68"/><circle cx="666.5" cy="360.9" r="0.68"/><circle cx="664.1" cy="370.6" r="0.68"/><circle cx="655.5" cy="377.1" r="0.68"/><circle cx="658.7" cy="362.4" r="0.68"/><circle cx="659.8" cy="378.3" r="0.68"/><circle cx="660.1" cy="374.8" r="0.68"/><circle cx="656.0" cy="381.6" r="0.68"/><circle cx="656.2" cy="368.6" r="0.68"/><circle cx="659.2" cy="365.7" r="0.68"/><circle cx="660.3" cy="360.9" r="0.68"/><circle cx="661.6" cy="359.4" r="0.68"/><circle cx="654.4" cy="377.7" r="0.68"/><circle cx="661.5" cy="363.7" r="0.68"/><circle cx="659.9" cy="370.2" r="0.68"/><circle cx="663.6" cy="371.7" r="0.68"/><circle cx="662.0" cy="348.5" r="0.68"/><circle cx="663.4" cy="365.9" r="0.68"/><circle cx="656.4" cy="369.8" r="0.68"/><circle cx="657.3" cy="362.0" r="0.68"/><circle cx="665.2" cy="378.6" r="0.68"/><circle cx="654.1" cy="348.5" r="0.68"/><circle cx="659.9" cy="363.6" r="0.68"/><circle cx="662.4" cy="365.2" r="0.68"/><circle cx="661.6" cy="381.1" r="0.68"/><circle cx="658.7" cy="379.5" r="0.68"/><circle cx="663.7" cy="366.7" r="0.68"/><circle cx="666.0" cy="363.8" r="0.68"/><circle cx="656.8" cy="367.8" r="0.68"/><circle cx="665.8" cy="380.5" r="0.68"/><circle cx="665.1" cy="375.4" r="0.68"/><circle cx="660.5" cy="375.3" r="0.68"/><circle cx="657.6" cy="359.5" r="0.68"/><circle cx="664.8" cy="375.2" r="0.68"/><circle cx="661.1" cy="378.8" r="0.68"/><circle cx="661.0" cy="386.9" r="0.68"/><circle cx="661.6" cy="368.3" r="0.68"/><circle cx="664.8" cy="354.2" r="0.68"/><circle cx="656.2" cy="380.2" r="0.68"/><circle cx="658.6" cy="381.6" r="0.68"/><circle cx="663.6" cy="362.7" r="0.68"/><circle cx="660.5" cy="358.7" r="0.68"/><circle cx="662.1" cy="376.9" r="0.68"/><circle cx="660.1" cy="387.6" r="0.68"/><circle cx="658.9" cy="361.6" r="0.68"/><circle cx="655.1" cy="367.3" r="0.68"/><circle cx="660.5" cy="357.9" r="0.68"/><circle cx="656.0" cy="367.8" r="0.68"/><circle cx="657.7" cy="383.5" r="0.68"/><circle cx="661.3" cy="369.9" r="0.68"/><circle cx="665.2" cy="377.7" r="0.68"/><circle cx="663.9" cy="362.4" r="0.68"/><circle cx="659.0" cy="360.7" r="0.68"/><circle cx="656.5" cy="359.1" r="0.68"/><circle cx="663.7" cy="376.0" r="0.68"/><circle cx="654.7" cy="387.2" r="0.68"/><circle cx="665.9" cy="361.8" r="0.68"/><circle cx="661.9" cy="370.8" r="0.68"/><circle cx="658.4" cy="374.9" r="0.68"/><circle cx="660.9" cy="375.6" r="0.68"/><circle cx="660.9" cy="381.7" r="0.68"/><circle cx="664.1" cy="358.5" r="0.68"/><circle cx="663.3" cy="369.2" r="0.68"/><circle cx="660.0" cy="365.7" r="0.68"/><circle cx="662.2" cy="354.9" r="0.68"/><circle cx="659.8" cy="373.0" r="0.68"/><circle cx="662.8" cy="372.6" r="0.68"/><circle cx="657.6" cy="372.3" r="0.68"/><circle cx="666.6" cy="360.6" r="0.68"/><circle cx="655.8" cy="370.6" r="0.68"/><circle cx="658.6" cy="369.9" r="0.68"/><circle cx="658.3" cy="383.5" r="0.68"/><circle cx="659.6" cy="384.3" r="0.68"/><circle cx="661.4" cy="385.6" r="0.68"/><circle cx="655.2" cy="370.7" r="0.68"/><circle cx="660.8" cy="369.0" r="0.68"/><circle cx="658.1" cy="367.1" r="0.68"/><circle cx="664.9" cy="379.7" r="0.68"/><circle cx="654.2" cy="367.3" r="0.68"/><circle cx="658.7" cy="372.5" r="0.68"/><circle cx="658.6" cy="377.2" r="0.68"/><circle cx="660.8" cy="371.8" r="0.68"/><circle cx="660.1" cy="364.8" r="0.68"/><circle cx="660.0" cy="375.5" r="0.68"/><circle cx="661.4" cy="374.7" r="0.68"/><circle cx="661.4" cy="380.5" r="0.68"/><circle cx="656.6" cy="369.4" r="0.68"/><circle cx="666.2" cy="360.8" r="0.68"/><circle cx="659.3" cy="376.0" r="0.68"/><circle cx="659.2" cy="375.5" r="0.68"/><circle cx="657.8" cy="374.6" r="0.68"/><circle cx="661.0" cy="388.3" r="0.68"/><circle cx="659.5" cy="366.6" r="0.68"/><circle cx="655.6" cy="367.2" r="0.68"/><circle cx="665.1" cy="357.0" r="0.68"/><circle cx="666.2" cy="366.4" r="0.68"/><circle cx="662.6" cy="378.0" r="0.68"/><circle cx="658.7" cy="376.9" r="0.68"/><circle cx="665.3" cy="380.4" r="0.68"/><circle cx="654.7" cy="366.7" r="0.68"/><circle cx="664.9" cy="360.1" r="0.68"/><circle cx="660.3" cy="379.4" r="0.68"/><circle cx="659.3" cy="380.1" r="0.68"/><circle cx="663.2" cy="359.0" r="0.68"/><circle cx="665.7" cy="365.9" r="0.68"/><circle cx="664.9" cy="369.6" r="0.68"/><circle cx="664.1" cy="375.4" r="0.68"/><circle cx="654.3" cy="366.2" r="0.68"/><circle cx="660.5" cy="362.9" r="0.68"/><circle cx="658.9" cy="370.0" r="0.68"/><circle cx="663.8" cy="361.5" r="0.68"/><circle cx="662.5" cy="367.2" r="0.68"/><circle cx="656.9" cy="369.0" r="0.68"/><circle cx="658.1" cy="376.2" r="0.68"/><circle cx="663.9" cy="361.2" r="0.68"/><circle cx="666.8" cy="375.1" r="0.68"/><circle cx="660.6" cy="369.5" r="0.68"/><circle cx="653.9" cy="377.9" r="0.68"/><circle cx="661.6" cy="368.5" r="0.68"/><circle cx="661.5" cy="368.3" r="0.68"/><circle cx="657.9" cy="351.1" r="0.68"/><circle cx="654.0" cy="389.5" r="0.68"/><circle cx="663.5" cy="375.5" r="0.68"/><circle cx="663.6" cy="374.4" r="0.68"/><circle cx="656.0" cy="359.5" r="0.68"/><circle cx="656.8" cy="385.6" r="0.68"/><circle cx="664.2" cy="360.7" r="0.68"/><circle cx="657.9" cy="365.5" r="0.68"/><circle cx="662.9" cy="380.9" r="0.68"/><circle cx="661.4" cy="363.2" r="0.68"/><circle cx="666.2" cy="372.9" r="0.68"/><circle cx="654.0" cy="381.9" r="0.68"/><circle cx="657.2" cy="366.5" r="0.68"/><circle cx="664.0" cy="377.1" r="0.68"/><circle cx="663.1" cy="367.3" r="0.68"/><circle cx="665.4" cy="366.4" r="0.68"/><circle cx="661.7" cy="371.7" r="0.68"/><circle cx="665.4" cy="370.7" r="0.68"/><circle cx="659.2" cy="360.6" r="0.68"/><circle cx="661.3" cy="366.9" r="0.68"/><circle cx="663.6" cy="380.9" r="0.68"/><circle cx="659.9" cy="364.1" r="0.68"/><circle cx="660.5" cy="382.1" r="0.68"/><circle cx="657.8" cy="360.4" r="0.68"/><circle cx="662.2" cy="362.8" r="0.68"/><circle cx="659.4" cy="380.4" r="0.68"/><circle cx="661.7" cy="375.0" r="0.68"/><circle cx="660.2" cy="366.2" r="0.68"/><circle cx="665.5" cy="373.5" r="0.68"/><circle cx="661.0" cy="364.3" r="0.68"/><circle cx="666.2" cy="361.4" r="0.68"/><circle cx="661.2" cy="367.5" r="0.68"/><circle cx="659.8" cy="362.3" r="0.68"/><circle cx="657.4" cy="368.3" r="0.68"/><circle cx="654.8" cy="363.9" r="0.68"/><circle cx="658.6" cy="372.5" r="0.68"/><circle cx="655.1" cy="383.8" r="0.68"/><circle cx="665.7" cy="372.4" r="0.68"/><circle cx="661.1" cy="367.3" r="0.68"/><circle cx="657.7" cy="376.9" r="0.68"/><circle cx="666.0" cy="368.8" r="0.68"/><circle cx="654.4" cy="363.0" r="0.68"/><circle cx="662.9" cy="388.4" r="0.68"/><circle cx="657.3" cy="376.8" r="0.68"/><circle cx="660.5" cy="365.1" r="0.68"/><circle cx="657.4" cy="363.8" r="0.68"/><circle cx="665.0" cy="358.3" r="0.68"/><circle cx="657.2" cy="367.0" r="0.68"/><circle cx="665.3" cy="360.2" r="0.68"/><circle cx="660.1" cy="365.4" r="0.68"/><circle cx="659.2" cy="384.2" r="0.68"/><circle cx="659.2" cy="355.7" r="0.68"/><circle cx="660.8" cy="382.3" r="0.68"/><circle cx="664.1" cy="367.9" r="0.68"/><circle cx="662.5" cy="362.0" r="0.68"/><circle cx="657.3" cy="363.8" r="0.68"/><circle cx="663.3" cy="369.2" r="0.68"/><circle cx="664.7" cy="370.9" r="0.68"/><circle cx="663.8" cy="368.1" r="0.68"/><circle cx="655.2" cy="347.8" r="0.68"/><circle cx="655.2" cy="361.8" r="0.68"/><circle cx="665.4" cy="389.3" r="0.68"/><circle cx="656.6" cy="371.6" r="0.68"/><circle cx="663.5" cy="365.5" r="0.68"/><circle cx="660.8" cy="368.8" r="0.68"/><circle cx="656.3" cy="368.3" r="0.68"/><circle cx="654.0" cy="377.4" r="0.68"/><circle cx="659.0" cy="362.0" r="0.68"/><circle cx="665.5" cy="371.3" r="0.68"/><circle cx="666.2" cy="369.9" r="0.68"/><circle cx="657.3" cy="369.4" r="0.68"/><circle cx="661.2" cy="361.7" r="0.68"/><circle cx="655.3" cy="358.5" r="0.68"/><circle cx="655.4" cy="370.4" r="0.68"/><circle cx="658.8" cy="385.4" r="0.68"/><circle cx="655.8" cy="378.9" r="0.68"/><circle cx="662.4" cy="366.5" r="0.68"/><circle cx="658.6" cy="361.4" r="0.68"/><circle cx="664.7" cy="383.6" r="0.68"/><circle cx="661.0" cy="372.7" r="0.68"/><circle cx="659.7" cy="365.3" r="0.68"/><circle cx="658.3" cy="385.0" r="0.68"/><circle cx="661.9" cy="384.6" r="0.68"/><circle cx="666.7" cy="378.6" r="0.68"/><circle cx="662.6" cy="368.2" r="0.68"/><circle cx="660.0" cy="366.0" r="0.68"/><circle cx="655.8" cy="364.2" r="0.68"/><circle cx="665.0" cy="371.1" r="0.68"/><circle cx="663.6" cy="359.0" r="0.68"/><circle cx="659.1" cy="361.6" r="0.68"/><circle cx="657.8" cy="349.4" r="0.68"/><circle cx="659.5" cy="389.3" r="0.68"/><circle cx="657.7" cy="351.4" r="0.68"/><circle cx="654.9" cy="389.2" r="0.68"/></g>
<line x1="660.30" y1="366.20" x2="660.30" y2="353.60" stroke="#9a9a9a" stroke-width="0.6"/>
<line x1="660.30" y1="374.60" x2="660.30" y2="387.20" stroke="#9a9a9a" stroke-width="0.6"/>
<rect x="645.90" y="366.20" width="28.80" height="8.40" fill="none" stroke="#a0a0a0" stroke-width="0.85"/>
<line x1="645.90" y1="369.70" x2="674.70" y2="369.70" stroke="#4a4a4a" stroke-width="1.0"/>
<line x1="622.20" y1="333.00" x2="660.60" y2="333.00" stroke="#bdbdbd" stroke-width="1.0"/>
<polygon points="641.40,327.10 641.96,328.63 643.59,328.69 642.30,329.69 642.75,331.26 641.40,330.35 640.05,331.26 640.50,329.69 639.21,328.69 640.84,328.63" fill="#111"/>
<rect x="606.30" y="403.00" width="4.00" height="3.80" fill="#555"/>
<text x="612.90" y="407.00" font-size="6.1" text-anchor="start" fill="#222" transform="rotate(0.05 612.90 407.00)">Recovered</text>
<rect x="606.30" y="410.40" width="4.00" height="3.80" fill="#d0432e"/>
<text x="612.90" y="414.40" font-size="6.1" text-anchor="start" fill="#222" transform="rotate(0.05 612.90 414.40)">Cardio_Resp</text>
<line x1="137.10" y1="347.00" x2="137.10" y2="349.80" stroke="#aaa" stroke-width="0.7"/>
<line x1="137.10" y1="365.30" x2="137.10" y2="368.10" stroke="#aaa" stroke-width="0.7"/>
<line x1="137.10" y1="383.90" x2="137.10" y2="386.70" stroke="#aaa" stroke-width="0.7"/>
</svg>
</body></html>
